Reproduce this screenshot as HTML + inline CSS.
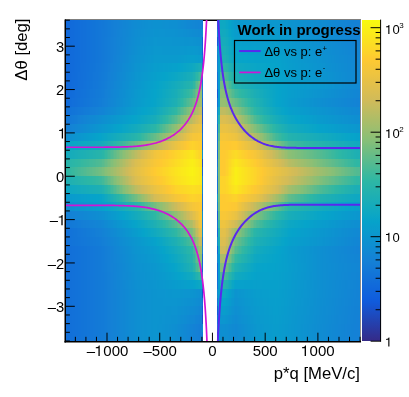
<!DOCTYPE html>
<html><head><meta charset="utf-8"><style>
html,body{margin:0;padding:0;background:#fff;width:409px;height:397px;overflow:hidden;position:relative}
.r{position:absolute;left:65.00px;width:295.00px}
#pal{position:absolute;left:362.00px;top:19.60px;width:18.60px;height:321.70px;background:linear-gradient(0deg,#352a87 0.0%,#322e8e 1.0%,#2f3295 2.0%,#2c369c 3.0%,#293aa3 4.0%,#263eaa 5.0%,#2342b0 6.0%,#2046b7 7.0%,#1d4abe 8.0%,#1a4ec5 9.0%,#1752cc 10.0%,#1456d3 11.0%,#115ada 12.0%,#0f5ddd 13.0%,#1060dd 14.0%,#1063dc 15.0%,#1066db 16.0%,#1169db 17.0%,#116cda 18.0%,#126fd9 19.0%,#1272d9 20.0%,#1275d8 21.0%,#1378d8 22.0%,#137bd7 23.0%,#147ed6 24.0%,#1481d6 25.0%,#1383d5 26.0%,#1286d4 27.0%,#1189d3 28.0%,#0f8cd2 29.0%,#0e8fd1 30.0%,#0d91d0 31.0%,#0c94cf 32.0%,#0b97ce 33.0%,#0a9acd 34.0%,#099dcc 35.0%,#089fcb 36.0%,#06a2ca 37.0%,#08a4c8 38.0%,#0ba6c5 39.0%,#0ea8c2 40.0%,#11a9bf 41.0%,#14abbc 42.0%,#18acb9 43.0%,#1baeb6 44.0%,#1eafb3 45.0%,#21b1b0 46.0%,#24b2ad 47.0%,#28b4aa 48.0%,#2bb5a7 49.0%,#2eb7a4 50.0%,#35b8a0 51.0%,#3cb89d 52.0%,#43b999 53.0%,#4bba95 54.0%,#52ba92 55.0%,#59bb8e 56.0%,#60bc8b 57.0%,#67bc87 58.0%,#6ebd83 59.0%,#75bd80 60.0%,#7cbe7c 61.0%,#84bf79 62.0%,#8abf76 63.0%,#90bf73 64.0%,#96be71 65.0%,#9cbe6f 66.0%,#a2be6c 67.0%,#a8bd6a 68.0%,#adbd67 69.0%,#b3bd65 70.0%,#b9bc63 71.0%,#bfbc60 72.0%,#c5bc5e 73.0%,#cbbb5c 74.0%,#d1bb59 75.0%,#d4bc56 76.0%,#d8bd53 77.0%,#dcbe50 78.0%,#dfbf4d 79.0%,#e3c04a 80.0%,#e6c146 81.0%,#eac243 82.0%,#eec440 83.0%,#f1c53d 84.0%,#f5c63a 85.0%,#f8c737 86.0%,#fcc834 87.0%,#feca31 88.0%,#fdcf2e 89.0%,#fdd32b 90.0%,#fdd728 91.0%,#fcdb25 92.0%,#fcdf22 93.0%,#fbe31f 94.0%,#fbe71c 95.0%,#fbeb19 96.0%,#faef16 97.0%,#faf314 98.0%,#f9f711 99.0%,#f9fb0e 100.0%)}
svg{position:absolute;left:0;top:0;will-change:transform}
text{font-family:"Liberation Sans",sans-serif;fill:#000}
.h{fill-opacity:0}
</style></head><body>
<svg width="409" height="397" style="z-index:0"><line x1="65" y1="20.25" x2="361" y2="20.25" stroke="#000" stroke-width="1.5"/><line x1="360.5" y1="19.5" x2="360.5" y2="341" stroke="#8a8a8a" stroke-width="1"/></svg>
<div class="r" style="top:20.00px;height:8.73px;background:linear-gradient(90deg,#1169db 0.00px 1.49px,#1169db 1.49px 2.98px,#1169db 2.98px 4.47px,#116ada 4.47px 5.96px,#116bda 5.96px 7.45px,#116bda 7.45px 8.94px,#116cda 8.94px 10.43px,#116dda 10.43px 11.92px,#116dda 11.92px 13.41px,#116eda 13.41px 14.90px,#126fda 14.90px 16.39px,#126fd9 16.39px 17.88px,#1270d9 17.88px 19.37px,#1270d9 19.37px 20.86px,#1271d9 20.86px 22.35px,#1272d9 22.35px 23.84px,#1272d9 23.84px 25.33px,#1273d9 25.33px 26.82px,#1274d8 26.82px 28.31px,#1274d8 28.31px 29.80px,#1275d8 29.80px 31.29px,#1276d8 31.29px 32.78px,#1376d8 32.78px 34.28px,#1377d8 34.28px 35.77px,#1378d8 35.77px 37.26px,#1378d7 37.26px 38.75px,#1379d7 38.75px 40.24px,#137ad7 40.24px 41.73px,#137bd7 41.73px 43.22px,#137cd7 43.22px 44.71px,#137dd7 44.71px 46.20px,#147ed6 46.20px 47.69px,#147fd6 47.69px 49.18px,#1480d6 49.18px 50.67px,#1480d6 50.67px 52.16px,#1481d6 52.16px 53.65px,#1382d5 53.65px 55.14px,#1383d5 55.14px 56.63px,#1384d5 56.63px 58.12px,#1285d4 58.12px 59.61px,#1285d4 59.61px 61.10px,#1286d4 61.10px 62.59px,#1187d4 62.59px 64.08px,#1188d3 64.08px 65.57px,#1189d3 65.57px 67.06px,#108ad3 67.06px 68.55px,#108bd2 68.55px 70.04px,#108bd2 70.04px 71.53px,#0f8cd2 71.53px 73.02px,#0f8cd2 73.02px 74.51px,#0f8dd2 74.51px 76.00px,#0f8dd1 76.00px 77.49px,#0f8ed1 77.49px 78.98px,#0e8ed1 78.98px 80.47px,#0e8fd1 80.47px 81.96px,#0e8fd1 81.96px 83.45px,#0e90d1 83.45px 84.94px,#0e90d1 84.94px 86.43px,#0e90d0 86.43px 87.92px,#0d91d0 87.92px 89.41px,#0d91d0 89.41px 90.90px,#0d91d0 90.90px 92.39px,#0d91d0 92.39px 93.88px,#0d91d0 93.88px 95.37px,#0d91d0 95.37px 96.86px,#0e90d0 96.86px 98.35px,#0e90d0 98.35px 99.84px,#0e90d1 99.84px 101.33px,#0e90d1 101.33px 102.82px,#0e90d1 102.82px 104.32px,#0e8fd1 104.32px 105.81px,#0e8fd1 105.81px 107.30px,#0e8fd1 107.30px 108.79px,#0e8fd1 108.79px 110.28px,#0e8fd1 110.28px 111.77px,#0f8ed1 111.77px 113.26px,#0f8dd2 113.26px 114.75px,#0f8cd2 114.75px 116.24px,#108bd2 116.24px 117.73px,#108bd2 117.73px 119.22px,#108ad3 119.22px 120.71px,#1089d3 120.71px 122.20px,#1188d3 122.20px 123.69px,#1188d3 123.69px 125.18px,#1187d4 125.18px 126.67px,#1286d4 126.67px 128.16px,#1286d4 128.16px 129.65px,#1285d4 129.65px 131.14px,#1285d4 131.14px 132.63px,#1284d5 132.63px 134.12px,#1384d5 134.12px 135.61px,#1383d5 135.61px 137.10px,#1378d8 137.10px 138.00px,transparent 138.00px 151.70px,#1272d9 151.70px 153.40px,#099dcc 153.40px 155.40px,#0ea8c2 155.40px 156.87px,#0ea8c2 156.87px 158.34px,#0ea8c2 158.34px 159.81px,#0da7c3 159.81px 161.28px,#0aa6c6 161.28px 162.75px,#08a4c8 162.75px 164.22px,#06a3ca 164.22px 165.69px,#07a0cb 165.69px 167.16px,#089ecc 167.16px 168.63px,#099bcd 168.63px 170.09px,#0a9acd 170.09px 171.56px,#0a9acd 171.56px 173.03px,#0a99cd 173.03px 174.50px,#0a99cd 174.50px 175.97px,#0a99cd 175.97px 177.44px,#0a99ce 177.44px 178.91px,#0a99ce 178.91px 180.38px,#0a98ce 180.38px 181.85px,#0a98ce 181.85px 183.32px,#0b98ce 183.32px 184.79px,#0b98ce 184.79px 186.26px,#0b98ce 186.26px 187.73px,#0b97ce 187.73px 189.20px,#0b97ce 189.20px 190.67px,#0b97ce 190.67px 192.14px,#0b97ce 192.14px 193.61px,#0b97ce 193.61px 195.08px,#0b97ce 195.08px 196.55px,#0b97ce 196.55px 198.01px,#0b97ce 198.01px 199.48px,#0b97ce 199.48px 200.95px,#0b97ce 200.95px 202.42px,#0b97ce 202.42px 203.89px,#0b97ce 203.89px 205.36px,#0b97ce 205.36px 206.83px,#0b97ce 206.83px 208.30px,#0b97ce 208.30px 209.77px,#0b97ce 209.77px 211.24px,#0b97ce 211.24px 212.71px,#0b97ce 212.71px 214.18px,#0b96ce 214.18px 215.65px,#0b96cf 215.65px 217.12px,#0c96cf 217.12px 218.59px,#0c95cf 218.59px 220.06px,#0c95cf 220.06px 221.53px,#0c95cf 221.53px 223.00px,#0c94cf 223.00px 224.47px,#0c94cf 224.47px 225.93px,#0c93cf 225.93px 227.40px,#0d93cf 227.40px 228.87px,#0d93d0 228.87px 230.34px,#0d92d0 230.34px 231.81px,#0d92d0 231.81px 233.28px,#0d92d0 233.28px 234.75px,#0d91d0 234.75px 236.22px,#0d91d0 236.22px 237.69px,#0e90d0 237.69px 239.16px,#0e90d0 239.16px 240.63px,#0e90d1 240.63px 242.10px,#0e8fd1 242.10px 243.57px,#0e8fd1 243.57px 245.04px,#0e8fd1 245.04px 246.51px,#0e8ed1 246.51px 247.98px,#0f8ed1 247.98px 249.45px,#0f8dd1 249.45px 250.92px,#0f8dd2 250.92px 252.39px,#0f8dd2 252.39px 253.85px,#0f8cd2 253.85px 255.32px,#0f8cd2 255.32px 256.79px,#108cd2 256.79px 258.26px,#108bd2 258.26px 259.73px,#108bd2 259.73px 261.20px,#108ad3 261.20px 262.67px,#108ad3 262.67px 264.14px,#1089d3 264.14px 265.61px,#1189d3 265.61px 267.08px,#1188d3 267.08px 268.55px,#1188d3 268.55px 270.02px,#1187d4 270.02px 271.49px,#1187d4 271.49px 272.96px,#1286d4 272.96px 274.43px,#1286d4 274.43px 275.90px,#1285d4 275.90px 277.37px,#1285d4 277.37px 278.84px,#1284d4 278.84px 280.31px,#1384d5 280.31px 281.77px,#1383d5 281.77px 283.24px,#1383d5 283.24px 284.71px,#1383d5 284.71px 286.18px,#1382d5 286.18px 287.65px,#1382d5 287.65px 289.12px,#1481d6 289.12px 290.59px,#1481d6 290.59px 292.06px,#1481d6 292.06px 293.53px,#1481d6 293.53px 295.00px)"></div>
<div class="r" style="top:28.68px;height:8.73px;background:linear-gradient(90deg,#1169db 0.00px 1.49px,#1169db 1.49px 2.98px,#1169db 2.98px 4.47px,#116ada 4.47px 5.96px,#116bda 5.96px 7.45px,#116bda 7.45px 8.94px,#116cda 8.94px 10.43px,#116dda 10.43px 11.92px,#116dda 11.92px 13.41px,#116eda 13.41px 14.90px,#126fda 14.90px 16.39px,#126fd9 16.39px 17.88px,#1270d9 17.88px 19.37px,#1270d9 19.37px 20.86px,#1271d9 20.86px 22.35px,#1272d9 22.35px 23.84px,#1272d9 23.84px 25.33px,#1273d9 25.33px 26.82px,#1274d8 26.82px 28.31px,#1274d8 28.31px 29.80px,#1275d8 29.80px 31.29px,#1276d8 31.29px 32.78px,#1376d8 32.78px 34.28px,#1377d8 34.28px 35.77px,#1378d8 35.77px 37.26px,#1379d7 37.26px 38.75px,#1379d7 38.75px 40.24px,#137ad7 40.24px 41.73px,#137bd7 41.73px 43.22px,#137cd7 43.22px 44.71px,#137dd7 44.71px 46.20px,#147ed6 46.20px 47.69px,#147fd6 47.69px 49.18px,#1480d6 49.18px 50.67px,#1481d6 50.67px 52.16px,#1382d5 52.16px 53.65px,#1383d5 53.65px 55.14px,#1384d5 55.14px 56.63px,#1285d4 56.63px 58.12px,#1286d4 58.12px 59.61px,#1286d4 59.61px 61.10px,#1187d3 61.10px 62.59px,#1188d3 62.59px 64.08px,#1089d3 64.08px 65.57px,#108ad3 65.57px 67.06px,#108bd2 67.06px 68.55px,#0f8cd2 68.55px 70.04px,#0f8dd2 70.04px 71.53px,#0f8dd1 71.53px 73.02px,#0f8ed1 73.02px 74.51px,#0e8ed1 74.51px 76.00px,#0e8fd1 76.00px 77.49px,#0e8fd1 77.49px 78.98px,#0e90d1 78.98px 80.47px,#0e90d0 80.47px 81.96px,#0d91d0 81.96px 83.45px,#0d91d0 83.45px 84.94px,#0d92d0 84.94px 86.43px,#0d92d0 86.43px 87.92px,#0d93d0 87.92px 89.41px,#0c93cf 89.41px 90.90px,#0c93cf 90.90px 92.39px,#0c93cf 92.39px 93.88px,#0d93cf 93.88px 95.37px,#0d93d0 95.37px 96.86px,#0d93d0 96.86px 98.35px,#0d93d0 98.35px 99.84px,#0d92d0 99.84px 101.33px,#0d92d0 101.33px 102.82px,#0d92d0 102.82px 104.32px,#0d92d0 104.32px 105.81px,#0d92d0 105.81px 107.30px,#0d92d0 107.30px 108.79px,#0d92d0 108.79px 110.28px,#0d91d0 110.28px 111.77px,#0d91d0 111.77px 113.26px,#0e90d0 113.26px 114.75px,#0e90d1 114.75px 116.24px,#0e90d1 116.24px 117.73px,#0e8fd1 117.73px 119.22px,#0e8fd1 119.22px 120.71px,#0e8ed1 120.71px 122.20px,#0f8ed1 122.20px 123.69px,#0f8dd1 123.69px 125.18px,#0f8dd2 125.18px 126.67px,#0f8cd2 126.67px 128.16px,#0f8cd2 128.16px 129.65px,#108bd2 129.65px 131.14px,#108bd2 131.14px 132.63px,#108ad2 132.63px 134.12px,#108ad3 134.12px 135.61px,#108ad3 135.61px 137.10px,#0e8fd1 137.10px 138.00px,transparent 138.00px 151.70px,#1383d5 151.70px 153.40px,#099dcc 153.40px 155.40px,#12a9be 155.40px 156.87px,#12a9be 156.87px 158.34px,#12a9be 158.34px 159.81px,#11a9bf 159.81px 161.28px,#0ea8c2 161.28px 162.75px,#0ba6c5 162.75px 164.22px,#08a5c7 164.22px 165.69px,#06a3ca 165.69px 167.16px,#07a1cb 167.16px 168.63px,#089ecc 168.63px 170.09px,#099dcc 170.09px 171.56px,#099ccc 171.56px 173.03px,#099ccc 173.03px 174.50px,#099ccc 174.50px 175.97px,#099ccd 175.97px 177.44px,#099ccd 177.44px 178.91px,#099bcd 178.91px 180.38px,#099bcd 180.38px 181.85px,#099bcd 181.85px 183.32px,#099bcd 183.32px 184.79px,#0a9bcd 184.79px 186.26px,#0a9acd 186.26px 187.73px,#0a9acd 187.73px 189.20px,#0a9acd 189.20px 190.67px,#0a9acd 190.67px 192.14px,#0a9acd 192.14px 193.61px,#0a9acd 193.61px 195.08px,#0a9acd 195.08px 196.55px,#0a9acd 196.55px 198.01px,#0a9acd 198.01px 199.48px,#0a9acd 199.48px 200.95px,#0a9acd 200.95px 202.42px,#0a9acd 202.42px 203.89px,#0a9acd 203.89px 205.36px,#0a9acd 205.36px 206.83px,#0a9acd 206.83px 208.30px,#0a9acd 208.30px 209.77px,#0a9acd 209.77px 211.24px,#0a9acd 211.24px 212.71px,#0a99cd 212.71px 214.18px,#0a99ce 214.18px 215.65px,#0a98ce 215.65px 217.12px,#0b98ce 217.12px 218.59px,#0b98ce 218.59px 220.06px,#0b97ce 220.06px 221.53px,#0b97ce 221.53px 223.00px,#0b96ce 223.00px 224.47px,#0b96cf 224.47px 225.93px,#0c96cf 225.93px 227.40px,#0c95cf 227.40px 228.87px,#0c95cf 228.87px 230.34px,#0c94cf 230.34px 231.81px,#0c94cf 231.81px 233.28px,#0c94cf 233.28px 234.75px,#0d93cf 234.75px 236.22px,#0d93d0 236.22px 237.69px,#0d92d0 237.69px 239.16px,#0d92d0 239.16px 240.63px,#0d91d0 240.63px 242.10px,#0d91d0 242.10px 243.57px,#0d91d0 243.57px 245.04px,#0e90d0 245.04px 246.51px,#0e90d1 246.51px 247.98px,#0e8fd1 247.98px 249.45px,#0e8fd1 249.45px 250.92px,#0e8fd1 250.92px 252.39px,#0e8ed1 252.39px 253.85px,#0f8ed1 253.85px 255.32px,#0f8dd1 255.32px 256.79px,#0f8dd2 256.79px 258.26px,#0f8cd2 258.26px 259.73px,#0f8cd2 259.73px 261.20px,#108cd2 261.20px 262.67px,#108bd2 262.67px 264.14px,#108bd2 264.14px 265.61px,#108ad3 265.61px 267.08px,#108ad3 267.08px 268.55px,#1089d3 268.55px 270.02px,#1189d3 270.02px 271.49px,#1188d3 271.49px 272.96px,#1188d3 272.96px 274.43px,#1187d4 274.43px 275.90px,#1187d4 275.90px 277.37px,#1286d4 277.37px 278.84px,#1286d4 278.84px 280.31px,#1285d4 280.31px 281.77px,#1285d4 281.77px 283.24px,#1284d5 283.24px 284.71px,#1384d5 284.71px 286.18px,#1383d5 286.18px 287.65px,#1383d5 287.65px 289.12px,#1382d5 289.12px 290.59px,#1382d5 290.59px 292.06px,#1382d5 292.06px 293.53px,#1382d5 293.53px 295.00px)"></div>
<div class="r" style="top:37.35px;height:8.73px;background:linear-gradient(90deg,#1169db 0.00px 1.49px,#1169db 1.49px 2.98px,#1169db 2.98px 4.47px,#116ada 4.47px 5.96px,#116bda 5.96px 7.45px,#116bda 7.45px 8.94px,#116cda 8.94px 10.43px,#116dda 10.43px 11.92px,#116dda 11.92px 13.41px,#116eda 13.41px 14.90px,#126fda 14.90px 16.39px,#126fd9 16.39px 17.88px,#1270d9 17.88px 19.37px,#1270d9 19.37px 20.86px,#1271d9 20.86px 22.35px,#1272d9 22.35px 23.84px,#1272d9 23.84px 25.33px,#1273d9 25.33px 26.82px,#1274d8 26.82px 28.31px,#1274d8 28.31px 29.80px,#1275d8 29.80px 31.29px,#1276d8 31.29px 32.78px,#1376d8 32.78px 34.28px,#1377d8 34.28px 35.77px,#1378d8 35.77px 37.26px,#1379d7 37.26px 38.75px,#137ad7 38.75px 40.24px,#137bd7 40.24px 41.73px,#137cd7 41.73px 43.22px,#137dd7 43.22px 44.71px,#147ed6 44.71px 46.20px,#147fd6 46.20px 47.69px,#1480d6 47.69px 49.18px,#1481d6 49.18px 50.67px,#1382d5 50.67px 52.16px,#1383d5 52.16px 53.65px,#1384d5 53.65px 55.14px,#1284d4 55.14px 56.63px,#1285d4 56.63px 58.12px,#1286d4 58.12px 59.61px,#1187d3 59.61px 61.10px,#1188d3 61.10px 62.59px,#1089d3 62.59px 64.08px,#108ad2 64.08px 65.57px,#108bd2 65.57px 67.06px,#0f8cd2 67.06px 68.55px,#0f8dd2 68.55px 70.04px,#0e8ed1 70.04px 71.53px,#0e8fd1 71.53px 73.02px,#0e8fd1 73.02px 74.51px,#0e90d1 74.51px 76.00px,#0e91d0 76.00px 77.49px,#0d91d0 77.49px 78.98px,#0d92d0 78.98px 80.47px,#0d92d0 80.47px 81.96px,#0d93d0 81.96px 83.45px,#0c93cf 83.45px 84.94px,#0c94cf 84.94px 86.43px,#0c94cf 86.43px 87.92px,#0c95cf 87.92px 89.41px,#0c96cf 89.41px 90.90px,#0c96cf 90.90px 92.39px,#0c95cf 92.39px 93.88px,#0c95cf 93.88px 95.37px,#0c95cf 95.37px 96.86px,#0c95cf 96.86px 98.35px,#0c95cf 98.35px 99.84px,#0c95cf 99.84px 101.33px,#0c95cf 101.33px 102.82px,#0c95cf 102.82px 104.32px,#0c95cf 104.32px 105.81px,#0c95cf 105.81px 107.30px,#0c94cf 107.30px 108.79px,#0c94cf 108.79px 110.28px,#0c94cf 110.28px 111.77px,#0c94cf 111.77px 113.26px,#0c94cf 113.26px 114.75px,#0c94cf 114.75px 116.24px,#0c94cf 116.24px 117.73px,#0c94cf 117.73px 119.22px,#0c93cf 119.22px 120.71px,#0c93cf 120.71px 122.20px,#0c93cf 122.20px 123.69px,#0d93cf 123.69px 125.18px,#0d93d0 125.18px 126.67px,#0d93d0 126.67px 128.16px,#0d92d0 128.16px 129.65px,#0d92d0 129.65px 131.14px,#0d91d0 131.14px 132.63px,#0d91d0 132.63px 134.12px,#0e90d0 134.12px 135.61px,#0e90d1 135.61px 137.10px,#1060dd 137.10px 138.00px,transparent 138.00px 151.70px,#115ada 151.70px 153.40px,#099dcc 153.40px 155.40px,#16abbb 155.40px 156.87px,#16abbb 156.87px 158.34px,#16abbb 158.34px 159.81px,#15abbb 159.81px 161.28px,#12aabe 161.28px 162.75px,#0fa8c1 162.75px 164.22px,#0ca7c4 164.22px 165.69px,#09a5c7 165.69px 167.16px,#06a4ca 167.16px 168.63px,#07a1cb 168.63px 170.09px,#089fcb 170.09px 171.56px,#089fcb 171.56px 173.03px,#089fcb 173.03px 174.50px,#089fcb 174.50px 175.97px,#089fcc 175.97px 177.44px,#089ecc 177.44px 178.91px,#089ecc 178.91px 180.38px,#089ecc 180.38px 181.85px,#089ecc 181.85px 183.32px,#089ecc 183.32px 184.79px,#089dcc 184.79px 186.26px,#099dcc 186.26px 187.73px,#099dcc 187.73px 189.20px,#099dcc 189.20px 190.67px,#099dcc 190.67px 192.14px,#099dcc 192.14px 193.61px,#099dcc 193.61px 195.08px,#099dcc 195.08px 196.55px,#099dcc 196.55px 198.01px,#099dcc 198.01px 199.48px,#099dcc 199.48px 200.95px,#099dcc 200.95px 202.42px,#099dcc 202.42px 203.89px,#099dcc 203.89px 205.36px,#099dcc 205.36px 206.83px,#099dcc 206.83px 208.30px,#099dcc 208.30px 209.77px,#099dcc 209.77px 211.24px,#099ccc 211.24px 212.71px,#099ccc 212.71px 214.18px,#099bcd 214.18px 215.65px,#099bcd 215.65px 217.12px,#0a9acd 217.12px 218.59px,#0a9acd 218.59px 220.06px,#0a99cd 220.06px 221.53px,#0a99cd 221.53px 223.00px,#0a98ce 223.00px 224.47px,#0b98ce 224.47px 225.93px,#0b98ce 225.93px 227.40px,#0b97ce 227.40px 228.87px,#0b97ce 228.87px 230.34px,#0b96ce 230.34px 231.81px,#0b96cf 231.81px 233.28px,#0c95cf 233.28px 234.75px,#0c95cf 234.75px 236.22px,#0c95cf 236.22px 237.69px,#0c94cf 237.69px 239.16px,#0c94cf 239.16px 240.63px,#0c93cf 240.63px 242.10px,#0d93d0 242.10px 243.57px,#0d92d0 243.57px 245.04px,#0d92d0 245.04px 246.51px,#0d91d0 246.51px 247.98px,#0d91d0 247.98px 249.45px,#0e91d0 249.45px 250.92px,#0e90d0 250.92px 252.39px,#0e90d1 252.39px 253.85px,#0e8fd1 253.85px 255.32px,#0e8fd1 255.32px 256.79px,#0e8ed1 256.79px 258.26px,#0f8ed1 258.26px 259.73px,#0f8dd1 259.73px 261.20px,#0f8dd2 261.20px 262.67px,#0f8cd2 262.67px 264.14px,#0f8cd2 264.14px 265.61px,#108cd2 265.61px 267.08px,#108bd2 267.08px 268.55px,#108bd2 268.55px 270.02px,#108ad3 270.02px 271.49px,#108ad3 271.49px 272.96px,#1089d3 272.96px 274.43px,#1189d3 274.43px 275.90px,#1188d3 275.90px 277.37px,#1188d3 277.37px 278.84px,#1187d4 278.84px 280.31px,#1187d4 280.31px 281.77px,#1286d4 281.77px 283.24px,#1286d4 283.24px 284.71px,#1285d4 284.71px 286.18px,#1285d4 286.18px 287.65px,#1284d5 287.65px 289.12px,#1384d5 289.12px 290.59px,#1383d5 290.59px 292.06px,#1383d5 292.06px 293.53px,#1383d5 293.53px 295.00px)"></div>
<div class="r" style="top:46.03px;height:8.73px;background:linear-gradient(90deg,#1169db 0.00px 1.49px,#1169db 1.49px 2.98px,#1169db 2.98px 4.47px,#116ada 4.47px 5.96px,#116bda 5.96px 7.45px,#116bda 7.45px 8.94px,#116cda 8.94px 10.43px,#116dda 10.43px 11.92px,#116dda 11.92px 13.41px,#116eda 13.41px 14.90px,#126fda 14.90px 16.39px,#126fd9 16.39px 17.88px,#1270d9 17.88px 19.37px,#1270d9 19.37px 20.86px,#1271d9 20.86px 22.35px,#1272d9 22.35px 23.84px,#1272d9 23.84px 25.33px,#1273d9 25.33px 26.82px,#1274d8 26.82px 28.31px,#1274d8 28.31px 29.80px,#1275d8 29.80px 31.29px,#1276d8 31.29px 32.78px,#1376d8 32.78px 34.28px,#1377d8 34.28px 35.77px,#1378d8 35.77px 37.26px,#1379d7 37.26px 38.75px,#137ad7 38.75px 40.24px,#137bd7 40.24px 41.73px,#137cd7 41.73px 43.22px,#137dd7 43.22px 44.71px,#147ed6 44.71px 46.20px,#147fd6 46.20px 47.69px,#1480d6 47.69px 49.18px,#1481d6 49.18px 50.67px,#1382d5 50.67px 52.16px,#1383d5 52.16px 53.65px,#1284d5 53.65px 55.14px,#1285d4 55.14px 56.63px,#1286d4 56.63px 58.12px,#1187d4 58.12px 59.61px,#1188d3 59.61px 61.10px,#1089d3 61.10px 62.59px,#108ad2 62.59px 64.08px,#108bd2 64.08px 65.57px,#0f8cd2 65.57px 67.06px,#0f8dd1 67.06px 68.55px,#0e8ed1 68.55px 70.04px,#0e8fd1 70.04px 71.53px,#0e90d0 71.53px 73.02px,#0d91d0 73.02px 74.51px,#0d92d0 74.51px 76.00px,#0d92d0 76.00px 77.49px,#0d93d0 77.49px 78.98px,#0c93cf 78.98px 80.47px,#0c94cf 80.47px 81.96px,#0c95cf 81.96px 83.45px,#0c95cf 83.45px 84.94px,#0b96cf 84.94px 86.43px,#0b96ce 86.43px 87.92px,#0b97ce 87.92px 89.41px,#0b98ce 89.41px 90.90px,#0b98ce 90.90px 92.39px,#0b98ce 92.39px 93.88px,#0b98ce 93.88px 95.37px,#0b98ce 95.37px 96.86px,#0b97ce 96.86px 98.35px,#0b97ce 98.35px 99.84px,#0b97ce 99.84px 101.33px,#0b97ce 101.33px 102.82px,#0b97ce 102.82px 104.32px,#0b97ce 104.32px 105.81px,#0b97ce 105.81px 107.30px,#0b97ce 107.30px 108.79px,#0b97ce 108.79px 110.28px,#0b97ce 110.28px 111.77px,#0b97ce 111.77px 113.26px,#0b97ce 113.26px 114.75px,#0b98ce 114.75px 116.24px,#0b98ce 116.24px 117.73px,#0b98ce 117.73px 119.22px,#0a98ce 119.22px 120.71px,#0a98ce 120.71px 122.20px,#0a99ce 122.20px 123.69px,#0a99ce 123.69px 125.18px,#0a99cd 125.18px 126.67px,#0a99cd 126.67px 128.16px,#0a99ce 128.16px 129.65px,#0b98ce 129.65px 131.14px,#0b98ce 131.14px 132.63px,#0b97ce 132.63px 134.12px,#0b96ce 134.12px 135.61px,#0b96ce 135.61px 137.10px,#1066db 137.10px 138.00px,transparent 138.00px 151.70px,#1189d3 151.70px 153.40px,#099dcc 153.40px 155.40px,#1aadb7 155.40px 156.87px,#1aadb7 156.87px 158.34px,#1aadb7 158.34px 159.81px,#19adb8 159.81px 161.28px,#16abbb 161.28px 162.75px,#13aabe 162.75px 164.22px,#10a8c1 164.22px 165.69px,#0da7c3 165.69px 167.16px,#09a5c6 167.16px 168.63px,#06a4c9 168.63px 170.09px,#07a2ca 170.09px 171.56px,#07a2ca 171.56px 173.03px,#07a2ca 173.03px 174.50px,#07a2cb 174.50px 175.97px,#07a1cb 175.97px 177.44px,#07a1cb 177.44px 178.91px,#07a1cb 178.91px 180.38px,#07a1cb 180.38px 181.85px,#07a1cb 181.85px 183.32px,#07a0cb 183.32px 184.79px,#07a0cb 184.79px 186.26px,#07a0cb 186.26px 187.73px,#07a0cb 187.73px 189.20px,#08a0cb 189.20px 190.67px,#089fcb 190.67px 192.14px,#089fcb 192.14px 193.61px,#089fcb 193.61px 195.08px,#089fcb 195.08px 196.55px,#089fcb 196.55px 198.01px,#089fcb 198.01px 199.48px,#089fcb 199.48px 200.95px,#089fcb 200.95px 202.42px,#089fcb 202.42px 203.89px,#089fcb 203.89px 205.36px,#089fcb 205.36px 206.83px,#089fcb 206.83px 208.30px,#089fcb 208.30px 209.77px,#089fcb 209.77px 211.24px,#089fcb 211.24px 212.71px,#089fcc 212.71px 214.18px,#089ecc 214.18px 215.65px,#089dcc 215.65px 217.12px,#099dcc 217.12px 218.59px,#099ccc 218.59px 220.06px,#099ccd 220.06px 221.53px,#099bcd 221.53px 223.00px,#0a9bcd 223.00px 224.47px,#0a9acd 224.47px 225.93px,#0a9acd 225.93px 227.40px,#0a99cd 227.40px 228.87px,#0a99ce 228.87px 230.34px,#0a98ce 230.34px 231.81px,#0b98ce 231.81px 233.28px,#0b97ce 233.28px 234.75px,#0b97ce 234.75px 236.22px,#0b96ce 236.22px 237.69px,#0b96cf 237.69px 239.16px,#0c95cf 239.16px 240.63px,#0c95cf 240.63px 242.10px,#0c94cf 242.10px 243.57px,#0c94cf 243.57px 245.04px,#0c94cf 245.04px 246.51px,#0d93cf 246.51px 247.98px,#0d93d0 247.98px 249.45px,#0d92d0 249.45px 250.92px,#0d92d0 250.92px 252.39px,#0d91d0 252.39px 253.85px,#0d91d0 253.85px 255.32px,#0e90d0 255.32px 256.79px,#0e90d1 256.79px 258.26px,#0e8fd1 258.26px 259.73px,#0e8fd1 259.73px 261.20px,#0e8ed1 261.20px 262.67px,#0f8ed1 262.67px 264.14px,#0f8dd1 264.14px 265.61px,#0f8dd2 265.61px 267.08px,#0f8cd2 267.08px 268.55px,#0f8cd2 268.55px 270.02px,#108bd2 270.02px 271.49px,#108bd2 271.49px 272.96px,#108bd2 272.96px 274.43px,#108ad3 274.43px 275.90px,#108ad3 275.90px 277.37px,#1089d3 277.37px 278.84px,#1189d3 278.84px 280.31px,#1188d3 280.31px 281.77px,#1188d3 281.77px 283.24px,#1187d4 283.24px 284.71px,#1187d4 284.71px 286.18px,#1286d4 286.18px 287.65px,#1286d4 287.65px 289.12px,#1285d4 289.12px 290.59px,#1285d4 290.59px 292.06px,#1285d4 292.06px 293.53px,#1285d4 293.53px 295.00px)"></div>
<div class="r" style="top:54.70px;height:8.73px;background:linear-gradient(90deg,#1169db 0.00px 1.49px,#1169db 1.49px 2.98px,#1169db 2.98px 4.47px,#116ada 4.47px 5.96px,#116bda 5.96px 7.45px,#116bda 7.45px 8.94px,#116cda 8.94px 10.43px,#116dda 10.43px 11.92px,#116dda 11.92px 13.41px,#116eda 13.41px 14.90px,#126fda 14.90px 16.39px,#126fd9 16.39px 17.88px,#1270d9 17.88px 19.37px,#1270d9 19.37px 20.86px,#1271d9 20.86px 22.35px,#1272d9 22.35px 23.84px,#1272d9 23.84px 25.33px,#1273d9 25.33px 26.82px,#1274d8 26.82px 28.31px,#1274d8 28.31px 29.80px,#1275d8 29.80px 31.29px,#1276d8 31.29px 32.78px,#1376d8 32.78px 34.28px,#1377d8 34.28px 35.77px,#1378d8 35.77px 37.26px,#1379d7 37.26px 38.75px,#137ad7 38.75px 40.24px,#137bd7 40.24px 41.73px,#137cd7 41.73px 43.22px,#137dd7 43.22px 44.71px,#147ed6 44.71px 46.20px,#147fd6 46.20px 47.69px,#1481d6 47.69px 49.18px,#1382d5 49.18px 50.67px,#1383d5 50.67px 52.16px,#1384d5 52.16px 53.65px,#1285d4 53.65px 55.14px,#1286d4 55.14px 56.63px,#1187d4 56.63px 58.12px,#1188d3 58.12px 59.61px,#1089d3 59.61px 61.10px,#108ad2 61.10px 62.59px,#108bd2 62.59px 64.08px,#0f8dd2 64.08px 65.57px,#0f8ed1 65.57px 67.06px,#0e8fd1 67.06px 68.55px,#0e90d1 68.55px 70.04px,#0d91d0 70.04px 71.53px,#0d92d0 71.53px 73.02px,#0d92d0 73.02px 74.51px,#0d93cf 74.51px 76.00px,#0c94cf 76.00px 77.49px,#0c94cf 77.49px 78.98px,#0c95cf 78.98px 80.47px,#0b96cf 80.47px 81.96px,#0b96ce 81.96px 83.45px,#0b97ce 83.45px 84.94px,#0b98ce 84.94px 86.43px,#0a98ce 86.43px 87.92px,#0a99cd 87.92px 89.41px,#0a9acd 89.41px 90.90px,#0a9acd 90.90px 92.39px,#0a9acd 92.39px 93.88px,#0a9acd 93.88px 95.37px,#0a9acd 95.37px 96.86px,#0a9acd 96.86px 98.35px,#0a9acd 98.35px 99.84px,#0a9acd 99.84px 101.33px,#0a9acd 101.33px 102.82px,#0a9acd 102.82px 104.32px,#0a9acd 104.32px 105.81px,#0a9acd 105.81px 107.30px,#0a9acd 107.30px 108.79px,#0a9acd 108.79px 110.28px,#0a9acd 110.28px 111.77px,#0a9acd 111.77px 113.26px,#099bcd 113.26px 114.75px,#099bcd 114.75px 116.24px,#099ccc 116.24px 117.73px,#099ccc 117.73px 119.22px,#099dcc 119.22px 120.71px,#089dcc 120.71px 122.20px,#089ecc 122.20px 123.69px,#089ecc 123.69px 125.18px,#089fcb 125.18px 126.67px,#089fcb 126.67px 128.16px,#089fcb 128.16px 129.65px,#089ecc 129.65px 131.14px,#089ecc 131.14px 132.63px,#089dcc 132.63px 134.12px,#099dcc 134.12px 135.61px,#099dcc 135.61px 137.10px,#1378d8 137.10px 138.00px,transparent 138.00px 151.70px,#147ed6 151.70px 153.40px,#099dcc 153.40px 155.40px,#1eafb3 155.40px 156.87px,#1eafb3 156.87px 158.34px,#1eafb3 158.34px 159.81px,#1dafb4 159.81px 161.28px,#1aadb7 161.28px 162.75px,#17acba 162.75px 164.22px,#13aabd 164.22px 165.69px,#10a9c0 165.69px 167.16px,#0da7c3 167.16px 168.63px,#0aa5c6 168.63px 170.09px,#07a4c8 170.09px 171.56px,#07a4c9 171.56px 173.03px,#07a4c9 173.03px 174.50px,#07a4c9 174.50px 175.97px,#07a4c9 175.97px 177.44px,#06a4c9 177.44px 178.91px,#06a4ca 178.91px 180.38px,#06a4ca 180.38px 181.85px,#06a3ca 181.85px 183.32px,#06a3ca 183.32px 184.79px,#06a3ca 184.79px 186.26px,#06a3ca 186.26px 187.73px,#06a3ca 187.73px 189.20px,#06a2ca 189.20px 190.67px,#06a2ca 190.67px 192.14px,#06a2ca 192.14px 193.61px,#06a2ca 193.61px 195.08px,#06a2ca 195.08px 196.55px,#06a2ca 196.55px 198.01px,#06a2ca 198.01px 199.48px,#06a2ca 199.48px 200.95px,#06a2ca 200.95px 202.42px,#06a2ca 202.42px 203.89px,#06a2ca 203.89px 205.36px,#06a2ca 205.36px 206.83px,#06a2ca 206.83px 208.30px,#06a2ca 208.30px 209.77px,#06a2ca 209.77px 211.24px,#07a2ca 211.24px 212.71px,#07a1cb 212.71px 214.18px,#07a1cb 214.18px 215.65px,#07a0cb 215.65px 217.12px,#089fcb 217.12px 218.59px,#089fcc 218.59px 220.06px,#089ecc 220.06px 221.53px,#089dcc 221.53px 223.00px,#099dcc 223.00px 224.47px,#099ccc 224.47px 225.93px,#099ccd 225.93px 227.40px,#099bcd 227.40px 228.87px,#099bcd 228.87px 230.34px,#0a9acd 230.34px 231.81px,#0a9acd 231.81px 233.28px,#0a99cd 233.28px 234.75px,#0a99ce 234.75px 236.22px,#0a98ce 236.22px 237.69px,#0b98ce 237.69px 239.16px,#0b97ce 239.16px 240.63px,#0b97ce 240.63px 242.10px,#0b96ce 242.10px 243.57px,#0b96cf 243.57px 245.04px,#0c95cf 245.04px 246.51px,#0c95cf 246.51px 247.98px,#0c94cf 247.98px 249.45px,#0c94cf 249.45px 250.92px,#0c93cf 250.92px 252.39px,#0d93d0 252.39px 253.85px,#0d92d0 253.85px 255.32px,#0d92d0 255.32px 256.79px,#0d91d0 256.79px 258.26px,#0d91d0 258.26px 259.73px,#0e90d0 259.73px 261.20px,#0e90d1 261.20px 262.67px,#0e8fd1 262.67px 264.14px,#0e8fd1 264.14px 265.61px,#0e8ed1 265.61px 267.08px,#0f8ed1 267.08px 268.55px,#0f8dd1 268.55px 270.02px,#0f8dd2 270.02px 271.49px,#0f8cd2 271.49px 272.96px,#0f8cd2 272.96px 274.43px,#108bd2 274.43px 275.90px,#108bd2 275.90px 277.37px,#108bd2 277.37px 278.84px,#108ad3 278.84px 280.31px,#108ad3 280.31px 281.77px,#1089d3 281.77px 283.24px,#1189d3 283.24px 284.71px,#1188d3 284.71px 286.18px,#1188d3 286.18px 287.65px,#1187d4 287.65px 289.12px,#1187d4 289.12px 290.59px,#1286d4 290.59px 292.06px,#1286d4 292.06px 293.53px,#1286d4 293.53px 295.00px)"></div>
<div class="r" style="top:63.38px;height:8.73px;background:linear-gradient(90deg,#1169db 0.00px 1.49px,#1169db 1.49px 2.98px,#1169db 2.98px 4.47px,#116ada 4.47px 5.96px,#116bda 5.96px 7.45px,#116bda 7.45px 8.94px,#116cda 8.94px 10.43px,#116dda 10.43px 11.92px,#116eda 11.92px 13.41px,#116eda 13.41px 14.90px,#126fd9 14.90px 16.39px,#1270d9 16.39px 17.88px,#1270d9 17.88px 19.37px,#1271d9 19.37px 20.86px,#1272d9 20.86px 22.35px,#1272d9 22.35px 23.84px,#1273d9 23.84px 25.33px,#1274d8 25.33px 26.82px,#1274d8 26.82px 28.31px,#1275d8 28.31px 29.80px,#1276d8 29.80px 31.29px,#1377d8 31.29px 32.78px,#1377d8 32.78px 34.28px,#1378d8 34.28px 35.77px,#1379d7 35.77px 37.26px,#137ad7 37.26px 38.75px,#137bd7 38.75px 40.24px,#137cd7 40.24px 41.73px,#137dd7 41.73px 43.22px,#147ed6 43.22px 44.71px,#1480d6 44.71px 46.20px,#1481d6 46.20px 47.69px,#1382d5 47.69px 49.18px,#1383d5 49.18px 50.67px,#1284d5 50.67px 52.16px,#1285d4 52.16px 53.65px,#1286d4 53.65px 55.14px,#1187d3 55.14px 56.63px,#1189d3 56.63px 58.12px,#108ad3 58.12px 59.61px,#108bd2 59.61px 61.10px,#0f8cd2 61.10px 62.59px,#0f8dd2 62.59px 64.08px,#0e8ed1 64.08px 65.57px,#0e8fd1 65.57px 67.06px,#0e90d0 67.06px 68.55px,#0d92d0 68.55px 70.04px,#0d93d0 70.04px 71.53px,#0c94cf 71.53px 73.02px,#0c94cf 73.02px 74.51px,#0c95cf 74.51px 76.00px,#0b96cf 76.00px 77.49px,#0b97ce 77.49px 78.98px,#0b97ce 78.98px 80.47px,#0b98ce 80.47px 81.96px,#0a99ce 81.96px 83.45px,#0a9acd 83.45px 84.94px,#0a9acd 84.94px 86.43px,#099bcd 86.43px 87.92px,#099ccd 87.92px 89.41px,#099dcc 89.41px 90.90px,#099dcc 90.90px 92.39px,#089dcc 92.39px 93.88px,#089ecc 93.88px 95.37px,#089ecc 95.37px 96.86px,#089ecc 96.86px 98.35px,#089fcc 98.35px 99.84px,#089fcb 99.84px 101.33px,#089fcb 101.33px 102.82px,#08a0cb 102.82px 104.32px,#07a0cb 104.32px 105.81px,#07a0cb 105.81px 107.30px,#07a1cb 107.30px 108.79px,#07a1cb 108.79px 110.28px,#07a1cb 110.28px 111.77px,#06a2ca 111.77px 113.26px,#06a3ca 113.26px 114.75px,#06a4ca 114.75px 116.24px,#07a4c9 116.24px 117.73px,#08a5c8 117.73px 119.22px,#09a5c7 119.22px 120.71px,#0aa6c6 120.71px 122.20px,#0ba6c5 122.20px 123.69px,#0ca7c4 123.69px 125.18px,#0da7c3 125.18px 126.67px,#0ea8c2 126.67px 128.16px,#10a9c0 128.16px 129.65px,#13aabe 129.65px 131.14px,#15abbb 131.14px 132.63px,#18acb9 132.63px 134.12px,#1aadb7 134.12px 135.61px,#1baeb6 135.61px 137.10px,#1066db 137.10px 138.00px,transparent 138.00px 151.70px,#1383d5 151.70px 153.40px,#099dcc 153.40px 155.40px,#2eb7a4 155.40px 156.87px,#2eb7a4 156.87px 158.34px,#2eb7a4 158.34px 159.81px,#2db6a5 159.81px 161.28px,#29b4a9 161.28px 162.75px,#24b2ad 162.75px 164.22px,#20b0b1 164.22px 165.69px,#1caeb5 165.69px 167.16px,#18acb9 167.16px 168.63px,#14aabd 168.63px 170.09px,#11a9bf 170.09px 171.56px,#10a9c0 171.56px 173.03px,#10a8c0 173.03px 174.50px,#0fa8c1 174.50px 175.97px,#0fa8c1 175.97px 177.44px,#0ea8c2 177.44px 178.91px,#0ea7c2 178.91px 180.38px,#0da7c3 180.38px 181.85px,#0da7c3 181.85px 183.32px,#0ca7c4 183.32px 184.79px,#0ca6c4 184.79px 186.26px,#0ba6c5 186.26px 187.73px,#0ba6c5 187.73px 189.20px,#0aa6c6 189.20px 190.67px,#0aa5c6 190.67px 192.14px,#09a5c7 192.14px 193.61px,#09a5c7 193.61px 195.08px,#09a5c7 195.08px 196.55px,#08a5c8 196.55px 198.01px,#08a5c8 198.01px 199.48px,#08a5c8 199.48px 200.95px,#07a4c8 200.95px 202.42px,#07a4c9 202.42px 203.89px,#07a4c9 203.89px 205.36px,#06a4c9 205.36px 206.83px,#06a4ca 206.83px 208.30px,#06a4ca 208.30px 209.77px,#06a3ca 209.77px 211.24px,#06a3ca 211.24px 212.71px,#07a2ca 212.71px 214.18px,#07a2cb 214.18px 215.65px,#07a1cb 215.65px 217.12px,#07a0cb 217.12px 218.59px,#08a0cb 218.59px 220.06px,#089fcb 220.06px 221.53px,#089ecc 221.53px 223.00px,#089ecc 223.00px 224.47px,#099dcc 224.47px 225.93px,#099dcc 225.93px 227.40px,#099ccc 227.40px 228.87px,#099ccd 228.87px 230.34px,#099bcd 230.34px 231.81px,#099bcd 231.81px 233.28px,#0a9acd 233.28px 234.75px,#0a9acd 234.75px 236.22px,#0a99cd 236.22px 237.69px,#0a99cd 237.69px 239.16px,#0a99ce 239.16px 240.63px,#0b98ce 240.63px 242.10px,#0b98ce 242.10px 243.57px,#0b97ce 243.57px 245.04px,#0b97ce 245.04px 246.51px,#0b96ce 246.51px 247.98px,#0b96cf 247.98px 249.45px,#0c95cf 249.45px 250.92px,#0c95cf 250.92px 252.39px,#0c94cf 252.39px 253.85px,#0c94cf 253.85px 255.32px,#0c94cf 255.32px 256.79px,#0d93cf 256.79px 258.26px,#0d93d0 258.26px 259.73px,#0d92d0 259.73px 261.20px,#0d91d0 261.20px 262.67px,#0d91d0 262.67px 264.14px,#0e90d0 264.14px 265.61px,#0e90d1 265.61px 267.08px,#0e8fd1 267.08px 268.55px,#0e8fd1 268.55px 270.02px,#0e8ed1 270.02px 271.49px,#0f8ed1 271.49px 272.96px,#0f8dd1 272.96px 274.43px,#0f8dd2 274.43px 275.90px,#0f8cd2 275.90px 277.37px,#0f8cd2 277.37px 278.84px,#108bd2 278.84px 280.31px,#108bd2 280.31px 281.77px,#108ad2 281.77px 283.24px,#108ad3 283.24px 284.71px,#1089d3 284.71px 286.18px,#1189d3 286.18px 287.65px,#1188d3 287.65px 289.12px,#1188d3 289.12px 290.59px,#1187d4 290.59px 292.06px,#1187d4 292.06px 293.53px,#1187d4 293.53px 295.00px)"></div>
<div class="r" style="top:72.05px;height:8.73px;background:linear-gradient(90deg,#1169db 0.00px 1.49px,#1169db 1.49px 2.98px,#1169db 2.98px 4.47px,#116ada 4.47px 5.96px,#116bda 5.96px 7.45px,#116cda 7.45px 8.94px,#116cda 8.94px 10.43px,#116dda 10.43px 11.92px,#116eda 11.92px 13.41px,#126fda 13.41px 14.90px,#126fd9 14.90px 16.39px,#1270d9 16.39px 17.88px,#1271d9 17.88px 19.37px,#1271d9 19.37px 20.86px,#1272d9 20.86px 22.35px,#1273d9 22.35px 23.84px,#1274d8 23.84px 25.33px,#1274d8 25.33px 26.82px,#1275d8 26.82px 28.31px,#1376d8 28.31px 29.80px,#1377d8 29.80px 31.29px,#1377d8 31.29px 32.78px,#1378d8 32.78px 34.28px,#1379d7 34.28px 35.77px,#137ad7 35.77px 37.26px,#137bd7 37.26px 38.75px,#137cd7 38.75px 40.24px,#137dd7 40.24px 41.73px,#147ed6 41.73px 43.22px,#1480d6 43.22px 44.71px,#1481d6 44.71px 46.20px,#1382d5 46.20px 47.69px,#1383d5 47.69px 49.18px,#1284d5 49.18px 50.67px,#1285d4 50.67px 52.16px,#1187d4 52.16px 53.65px,#1188d3 53.65px 55.14px,#1189d3 55.14px 56.63px,#108ad3 56.63px 58.12px,#108bd2 58.12px 59.61px,#0f8cd2 59.61px 61.10px,#0f8ed1 61.10px 62.59px,#0e8fd1 62.59px 64.08px,#0e90d1 64.08px 65.57px,#0d91d0 65.57px 67.06px,#0d92d0 67.06px 68.55px,#0c93cf 68.55px 70.04px,#0c95cf 70.04px 71.53px,#0c96cf 71.53px 73.02px,#0b96ce 73.02px 74.51px,#0b97ce 74.51px 76.00px,#0b98ce 76.00px 77.49px,#0a99ce 77.49px 78.98px,#0a9acd 78.98px 80.47px,#0a9acd 80.47px 81.96px,#099bcd 81.96px 83.45px,#099ccc 83.45px 84.94px,#099dcc 84.94px 86.43px,#089ecc 86.43px 87.92px,#089fcc 87.92px 89.41px,#089fcb 89.41px 90.90px,#07a0cb 90.90px 92.39px,#07a1cb 92.39px 93.88px,#07a1cb 93.88px 95.37px,#07a2ca 95.37px 96.86px,#06a3ca 96.86px 98.35px,#06a3ca 98.35px 99.84px,#06a4c9 99.84px 101.33px,#07a4c9 101.33px 102.82px,#08a5c8 102.82px 104.32px,#09a5c7 104.32px 105.81px,#0aa5c6 105.81px 107.30px,#0aa6c6 107.30px 108.79px,#0ba6c5 108.79px 110.28px,#0ca7c4 110.28px 111.77px,#0da7c3 111.77px 113.26px,#0fa8c2 113.26px 114.75px,#10a9c0 114.75px 116.24px,#11a9bf 116.24px 117.73px,#13aabe 117.73px 119.22px,#14aabc 119.22px 120.71px,#15abbb 120.71px 122.20px,#17acba 122.20px 123.69px,#18acb9 123.69px 125.18px,#19adb7 125.18px 126.67px,#1baeb6 126.67px 128.16px,#20b0b1 128.16px 129.65px,#26b3ac 129.65px 131.14px,#2bb6a7 131.14px 132.63px,#34b8a1 132.63px 134.12px,#40b99b 134.12px 135.61px,#43b999 135.61px 137.10px,#1272d9 137.10px 138.00px,transparent 138.00px 151.70px,#1272d9 151.70px 153.40px,#099dcc 153.40px 155.40px,#52ba92 155.40px 156.87px,#52ba92 156.87px 158.34px,#52ba92 158.34px 159.81px,#4eba94 159.81px 161.28px,#43b999 161.28px 162.75px,#38b89f 162.75px 164.22px,#2db7a4 164.22px 165.69px,#28b4a9 165.69px 167.16px,#23b2ae 167.16px 168.63px,#1eafb3 168.63px 170.09px,#1aaeb6 170.09px 171.56px,#1aadb7 171.56px 173.03px,#19adb8 173.03px 174.50px,#18acb9 174.50px 175.97px,#17acba 175.97px 177.44px,#16acba 177.44px 178.91px,#15abbb 178.91px 180.38px,#15abbc 180.38px 181.85px,#14aabd 181.85px 183.32px,#13aabe 183.32px 184.79px,#12aabe 184.79px 186.26px,#11a9bf 186.26px 187.73px,#10a9c0 187.73px 189.20px,#0fa8c1 189.20px 190.67px,#0fa8c1 190.67px 192.14px,#0ea8c2 192.14px 193.61px,#0ea7c3 193.61px 195.08px,#0da7c3 195.08px 196.55px,#0ca7c4 196.55px 198.01px,#0ca6c4 198.01px 199.48px,#0ba6c5 199.48px 200.95px,#0aa6c6 200.95px 202.42px,#0aa6c6 202.42px 203.89px,#09a5c7 203.89px 205.36px,#09a5c7 205.36px 206.83px,#08a5c8 206.83px 208.30px,#07a4c8 208.30px 209.77px,#07a4c9 209.77px 211.24px,#06a4ca 211.24px 212.71px,#06a3ca 212.71px 214.18px,#06a2ca 214.18px 215.65px,#07a2ca 215.65px 217.12px,#07a1cb 217.12px 218.59px,#07a1cb 218.59px 220.06px,#07a0cb 220.06px 221.53px,#089fcb 221.53px 223.00px,#089fcc 223.00px 224.47px,#089ecc 224.47px 225.93px,#089ecc 225.93px 227.40px,#089dcc 227.40px 228.87px,#099dcc 228.87px 230.34px,#099ccc 230.34px 231.81px,#099ccc 231.81px 233.28px,#099ccd 233.28px 234.75px,#099bcd 234.75px 236.22px,#099bcd 236.22px 237.69px,#0a9acd 237.69px 239.16px,#0a9acd 239.16px 240.63px,#0a9acd 240.63px 242.10px,#0a99cd 242.10px 243.57px,#0a99ce 243.57px 245.04px,#0a98ce 245.04px 246.51px,#0b98ce 246.51px 247.98px,#0b97ce 247.98px 249.45px,#0b97ce 249.45px 250.92px,#0b97ce 250.92px 252.39px,#0b96ce 252.39px 253.85px,#0b96cf 253.85px 255.32px,#0c95cf 255.32px 256.79px,#0c95cf 256.79px 258.26px,#0c94cf 258.26px 259.73px,#0c94cf 259.73px 261.20px,#0c93cf 261.20px 262.67px,#0d93d0 262.67px 264.14px,#0d92d0 264.14px 265.61px,#0d92d0 265.61px 267.08px,#0d91d0 267.08px 268.55px,#0e90d0 268.55px 270.02px,#0e90d1 270.02px 271.49px,#0e8fd1 271.49px 272.96px,#0e8fd1 272.96px 274.43px,#0e8ed1 274.43px 275.90px,#0f8ed1 275.90px 277.37px,#0f8dd2 277.37px 278.84px,#0f8dd2 278.84px 280.31px,#0f8cd2 280.31px 281.77px,#108bd2 281.77px 283.24px,#108bd2 283.24px 284.71px,#108ad2 284.71px 286.18px,#108ad3 286.18px 287.65px,#1089d3 287.65px 289.12px,#1189d3 289.12px 290.59px,#1188d3 290.59px 292.06px,#1188d3 292.06px 293.53px,#1188d3 293.53px 295.00px)"></div>
<div class="r" style="top:80.73px;height:8.73px;background:linear-gradient(90deg,#1169db 0.00px 1.49px,#1169db 1.49px 2.98px,#1169db 2.98px 4.47px,#116ada 4.47px 5.96px,#116bda 5.96px 7.45px,#116cda 7.45px 8.94px,#116dda 8.94px 10.43px,#116dda 10.43px 11.92px,#116eda 11.92px 13.41px,#126fd9 13.41px 14.90px,#1270d9 14.90px 16.39px,#1270d9 16.39px 17.88px,#1271d9 17.88px 19.37px,#1272d9 19.37px 20.86px,#1273d9 20.86px 22.35px,#1274d9 22.35px 23.84px,#1274d8 23.84px 25.33px,#1275d8 25.33px 26.82px,#1276d8 26.82px 28.31px,#1377d8 28.31px 29.80px,#1377d8 29.80px 31.29px,#1378d8 31.29px 32.78px,#1379d7 32.78px 34.28px,#137ad7 34.28px 35.77px,#137bd7 35.77px 37.26px,#137cd7 37.26px 38.75px,#137dd7 38.75px 40.24px,#147ed6 40.24px 41.73px,#1480d6 41.73px 43.22px,#1481d6 43.22px 44.71px,#1382d5 44.71px 46.20px,#1383d5 46.20px 47.69px,#1284d5 47.69px 49.18px,#1286d4 49.18px 50.67px,#1187d4 50.67px 52.16px,#1188d3 52.16px 53.65px,#1089d3 53.65px 55.14px,#108ad2 55.14px 56.63px,#0f8cd2 56.63px 58.12px,#0f8dd2 58.12px 59.61px,#0f8ed1 59.61px 61.10px,#0e8fd1 61.10px 62.59px,#0e90d0 62.59px 64.08px,#0d92d0 64.08px 65.57px,#0d93d0 65.57px 67.06px,#0c94cf 67.06px 68.55px,#0c95cf 68.55px 70.04px,#0b96ce 70.04px 71.53px,#0b97ce 71.53px 73.02px,#0a98ce 73.02px 74.51px,#0a99cd 74.51px 76.00px,#0a9acd 76.00px 77.49px,#099bcd 77.49px 78.98px,#099ccc 78.98px 80.47px,#099dcc 80.47px 81.96px,#089ecc 81.96px 83.45px,#089fcc 83.45px 84.94px,#089fcb 84.94px 86.43px,#07a0cb 86.43px 87.92px,#07a1cb 87.92px 89.41px,#07a2ca 89.41px 90.90px,#06a3ca 90.90px 92.39px,#06a4c9 92.39px 93.88px,#08a5c8 93.88px 95.37px,#09a5c7 95.37px 96.86px,#0aa6c6 96.86px 98.35px,#0ba6c5 98.35px 99.84px,#0ca7c4 99.84px 101.33px,#0da7c3 101.33px 102.82px,#0fa8c2 102.82px 104.32px,#10a8c0 104.32px 105.81px,#11a9bf 105.81px 107.30px,#12aabe 107.30px 108.79px,#13aabd 108.79px 110.28px,#15abbc 110.28px 111.77px,#16acba 111.77px 113.26px,#18acb9 113.26px 114.75px,#1aadb7 114.75px 116.24px,#1baeb5 116.24px 117.73px,#1dafb4 117.73px 119.22px,#1fb0b2 119.22px 120.71px,#21b1b0 120.71px 122.20px,#22b1af 122.20px 123.69px,#24b2ad 123.69px 125.18px,#26b3ac 125.18px 126.67px,#28b4aa 126.67px 128.16px,#32b7a2 128.16px 129.65px,#45b998 129.65px 131.14px,#58bb8f 131.14px 132.63px,#6bbd85 132.63px 134.12px,#7ebe7c 134.12px 135.61px,#84bf79 135.61px 137.10px,#1378d8 137.10px 138.00px,transparent 138.00px 151.70px,#1272d9 151.70px 153.40px,#099dcc 153.40px 155.40px,#75bd80 155.40px 156.87px,#75bd80 156.87px 158.34px,#75bd80 158.34px 159.81px,#71bd82 159.81px 161.28px,#64bc89 161.28px 162.75px,#57bb8f 162.75px 164.22px,#49b996 164.22px 165.69px,#3cb89d 165.69px 167.16px,#2fb7a3 167.16px 168.63px,#28b4a9 168.63px 170.09px,#24b2ad 170.09px 171.56px,#23b2ae 171.56px 173.03px,#22b1b0 173.03px 174.50px,#21b1b1 174.50px 175.97px,#1fb0b2 175.97px 177.44px,#1eafb3 177.44px 178.91px,#1dafb4 178.91px 180.38px,#1caeb5 180.38px 181.85px,#1baeb6 181.85px 183.32px,#1aadb7 183.32px 184.79px,#18adb8 184.79px 186.26px,#17acb9 186.26px 187.73px,#16acba 187.73px 189.20px,#15abbc 189.20px 190.67px,#14aabd 190.67px 192.14px,#13aabd 192.14px 193.61px,#12aabe 193.61px 195.08px,#11a9bf 195.08px 196.55px,#10a9c0 196.55px 198.01px,#0fa8c1 198.01px 199.48px,#0ea8c2 199.48px 200.95px,#0da7c3 200.95px 202.42px,#0da7c4 202.42px 203.89px,#0ca6c4 203.89px 205.36px,#0ba6c5 205.36px 206.83px,#0aa6c6 206.83px 208.30px,#09a5c7 208.30px 209.77px,#08a5c8 209.77px 211.24px,#07a4c9 211.24px 212.71px,#06a4c9 212.71px 214.18px,#06a3ca 214.18px 215.65px,#06a3ca 215.65px 217.12px,#07a2ca 217.12px 218.59px,#07a1cb 218.59px 220.06px,#07a1cb 220.06px 221.53px,#07a0cb 221.53px 223.00px,#089fcb 223.00px 224.47px,#089fcb 224.47px 225.93px,#089fcb 225.93px 227.40px,#089ecc 227.40px 228.87px,#089ecc 228.87px 230.34px,#089ecc 230.34px 231.81px,#089dcc 231.81px 233.28px,#099dcc 233.28px 234.75px,#099ccc 234.75px 236.22px,#099ccc 236.22px 237.69px,#099ccd 237.69px 239.16px,#099bcd 239.16px 240.63px,#099bcd 240.63px 242.10px,#0a9bcd 242.10px 243.57px,#0a9acd 243.57px 245.04px,#0a9acd 245.04px 246.51px,#0a99cd 246.51px 247.98px,#0a99cd 247.98px 249.45px,#0a99ce 249.45px 250.92px,#0a98ce 250.92px 252.39px,#0b98ce 252.39px 253.85px,#0b98ce 253.85px 255.32px,#0b97ce 255.32px 256.79px,#0b97ce 256.79px 258.26px,#0b96ce 258.26px 259.73px,#0c96cf 259.73px 261.20px,#0c95cf 261.20px 262.67px,#0c94cf 262.67px 264.14px,#0c94cf 264.14px 265.61px,#0c93cf 265.61px 267.08px,#0d93d0 267.08px 268.55px,#0d92d0 268.55px 270.02px,#0d91d0 270.02px 271.49px,#0d91d0 271.49px 272.96px,#0e90d0 272.96px 274.43px,#0e90d1 274.43px 275.90px,#0e8fd1 275.90px 277.37px,#0e8ed1 277.37px 278.84px,#0f8ed1 278.84px 280.31px,#0f8dd1 280.31px 281.77px,#0f8dd2 281.77px 283.24px,#0f8cd2 283.24px 284.71px,#108bd2 284.71px 286.18px,#108bd2 286.18px 287.65px,#108ad3 287.65px 289.12px,#108ad3 289.12px 290.59px,#1189d3 290.59px 292.06px,#1189d3 292.06px 293.53px,#1189d3 293.53px 295.00px)"></div>
<div class="r" style="top:89.41px;height:8.73px;background:linear-gradient(90deg,#116ada 0.00px 1.49px,#116ada 1.49px 2.98px,#116bda 2.98px 4.47px,#116cda 4.47px 5.96px,#116cda 5.96px 7.45px,#116dda 7.45px 8.94px,#116eda 8.94px 10.43px,#126fda 10.43px 11.92px,#1270d9 11.92px 13.41px,#1270d9 13.41px 14.90px,#1271d9 14.90px 16.39px,#1272d9 16.39px 17.88px,#1273d9 17.88px 19.37px,#1273d9 19.37px 20.86px,#1274d8 20.86px 22.35px,#1275d8 22.35px 23.84px,#1276d8 23.84px 25.33px,#1377d8 25.33px 26.82px,#1377d8 26.82px 28.31px,#1378d8 28.31px 29.80px,#1379d7 29.80px 31.29px,#137ad7 31.29px 32.78px,#137ad7 32.78px 34.28px,#137bd7 34.28px 35.77px,#137cd7 35.77px 37.26px,#137dd7 37.26px 38.75px,#147ed6 38.75px 40.24px,#1480d6 40.24px 41.73px,#1481d6 41.73px 43.22px,#1382d5 43.22px 44.71px,#1383d5 44.71px 46.20px,#1285d4 46.20px 47.69px,#1286d4 47.69px 49.18px,#1187d4 49.18px 50.67px,#1188d3 50.67px 52.16px,#1089d3 52.16px 53.65px,#108bd2 53.65px 55.14px,#0f8cd2 55.14px 56.63px,#0f8dd2 56.63px 58.12px,#0e8ed1 58.12px 59.61px,#0e8fd1 59.61px 61.10px,#0d91d0 61.10px 62.59px,#0d92d0 62.59px 64.08px,#0d93d0 64.08px 65.57px,#0c94cf 65.57px 67.06px,#0c95cf 67.06px 68.55px,#0b97ce 68.55px 70.04px,#0b98ce 70.04px 71.53px,#0a99cd 71.53px 73.02px,#0a9acd 73.02px 74.51px,#0a9bcd 74.51px 76.00px,#099ccd 76.00px 77.49px,#099ccc 77.49px 78.98px,#089dcc 78.98px 80.47px,#089ecc 80.47px 81.96px,#089fcb 81.96px 83.45px,#07a0cb 83.45px 84.94px,#07a1cb 84.94px 86.43px,#07a2ca 86.43px 87.92px,#06a3ca 87.92px 89.41px,#06a4ca 89.41px 90.90px,#07a4c9 90.90px 92.39px,#08a5c7 92.39px 93.88px,#0aa6c6 93.88px 95.37px,#0ba6c5 95.37px 96.86px,#0da7c3 96.86px 98.35px,#0ea8c2 98.35px 99.84px,#0fa8c1 99.84px 101.33px,#11a9bf 101.33px 102.82px,#12aabe 102.82px 104.32px,#14aabd 104.32px 105.81px,#15abbb 105.81px 107.30px,#16acba 107.30px 108.79px,#18acb9 108.79px 110.28px,#19adb7 110.28px 111.77px,#1caeb5 111.77px 113.26px,#1fb0b2 113.26px 114.75px,#22b1b0 114.75px 116.24px,#24b2ad 116.24px 117.73px,#27b4aa 117.73px 119.22px,#2ab5a8 119.22px 120.71px,#2db6a5 120.71px 122.20px,#31b7a2 122.20px 123.69px,#37b89f 123.69px 125.18px,#3db89c 125.18px 126.67px,#43b999 126.67px 128.16px,#53ba91 128.16px 129.65px,#64bc89 129.65px 131.14px,#74bd81 131.14px 132.63px,#84bf79 132.63px 134.12px,#92be73 134.12px 135.61px,#96be71 135.61px 137.10px,#1272d9 137.10px 138.00px,transparent 138.00px 151.70px,#115ada 151.70px 153.40px,#099dcc 153.40px 155.40px,#87bf77 155.40px 156.87px,#87bf77 156.87px 158.34px,#87bf77 158.34px 159.81px,#84bf78 159.81px 161.28px,#7abe7e 161.28px 162.75px,#70bd83 162.75px 164.22px,#65bc88 164.22px 165.69px,#5bbb8d 165.69px 167.16px,#51ba92 167.16px 168.63px,#47b997 168.63px 170.09px,#3eb99c 170.09px 171.56px,#3ab89e 171.56px 173.03px,#36b8a0 173.03px 174.50px,#31b7a2 174.50px 175.97px,#2db7a4 175.97px 177.44px,#2cb6a6 177.44px 178.91px,#2ab5a8 178.91px 180.38px,#28b4aa 180.38px 181.85px,#26b3ac 181.85px 183.32px,#24b2ae 183.32px 184.79px,#22b1af 184.79px 186.26px,#20b0b1 186.26px 187.73px,#1eafb3 187.73px 189.20px,#1caeb5 189.20px 190.67px,#1aadb7 190.67px 192.14px,#19adb8 192.14px 193.61px,#17acb9 193.61px 195.08px,#16abbb 195.08px 196.55px,#15abbc 196.55px 198.01px,#13aabd 198.01px 199.48px,#12a9bf 199.48px 200.95px,#10a9c0 200.95px 202.42px,#0fa8c1 202.42px 203.89px,#0ea7c2 203.89px 205.36px,#0ca7c4 205.36px 206.83px,#0ba6c5 206.83px 208.30px,#0aa5c6 208.30px 209.77px,#08a5c8 209.77px 211.24px,#07a4c9 211.24px 212.71px,#06a4ca 212.71px 214.18px,#06a3ca 214.18px 215.65px,#07a2ca 215.65px 217.12px,#07a1cb 217.12px 218.59px,#07a1cb 218.59px 220.06px,#07a0cb 220.06px 221.53px,#089fcb 221.53px 223.00px,#089ecc 223.00px 224.47px,#089ecc 224.47px 225.93px,#099dcc 225.93px 227.40px,#099dcc 227.40px 228.87px,#099ccc 228.87px 230.34px,#099ccd 230.34px 231.81px,#099bcd 231.81px 233.28px,#0a9bcd 233.28px 234.75px,#0a9acd 234.75px 236.22px,#0a9acd 236.22px 237.69px,#0a99cd 237.69px 239.16px,#0a99ce 239.16px 240.63px,#0b98ce 240.63px 242.10px,#0b98ce 242.10px 243.57px,#0b97ce 243.57px 245.04px,#0b97ce 245.04px 246.51px,#0b96ce 246.51px 247.98px,#0c96cf 247.98px 249.45px,#0c95cf 249.45px 250.92px,#0c95cf 250.92px 252.39px,#0c94cf 252.39px 253.85px,#0c94cf 253.85px 255.32px,#0d93cf 255.32px 256.79px,#0d93d0 256.79px 258.26px,#0d92d0 258.26px 259.73px,#0d91d0 259.73px 261.20px,#0d91d0 261.20px 262.67px,#0e90d0 262.67px 264.14px,#0e90d1 264.14px 265.61px,#0e8fd1 265.61px 267.08px,#0e8fd1 267.08px 268.55px,#0e8ed1 268.55px 270.02px,#0f8ed1 270.02px 271.49px,#0f8dd1 271.49px 272.96px,#0f8dd2 272.96px 274.43px,#0f8cd2 274.43px 275.90px,#0f8cd2 275.90px 277.37px,#108bd2 277.37px 278.84px,#108bd2 278.84px 280.31px,#108ad3 280.31px 281.77px,#1089d3 281.77px 283.24px,#1189d3 283.24px 284.71px,#1188d3 284.71px 286.18px,#1188d3 286.18px 287.65px,#1187d4 287.65px 289.12px,#1187d4 289.12px 290.59px,#1286d4 290.59px 292.06px,#1286d4 292.06px 293.53px,#1286d4 293.53px 295.00px)"></div>
<div class="r" style="top:98.08px;height:8.73px;background:linear-gradient(90deg,#116cda 0.00px 1.49px,#116cda 1.49px 2.98px,#116cda 2.98px 4.47px,#116dda 4.47px 5.96px,#116eda 5.96px 7.45px,#126fda 7.45px 8.94px,#126fd9 8.94px 10.43px,#1270d9 10.43px 11.92px,#1271d9 11.92px 13.41px,#1272d9 13.41px 14.90px,#1273d9 14.90px 16.39px,#1273d9 16.39px 17.88px,#1274d8 17.88px 19.37px,#1275d8 19.37px 20.86px,#1276d8 20.86px 22.35px,#1376d8 22.35px 23.84px,#1377d8 23.84px 25.33px,#1378d8 25.33px 26.82px,#1379d7 26.82px 28.31px,#137ad7 28.31px 29.80px,#137ad7 29.80px 31.29px,#137bd7 31.29px 32.78px,#137cd7 32.78px 34.28px,#137dd7 34.28px 35.77px,#137dd6 35.77px 37.26px,#147fd6 37.26px 38.75px,#1480d6 38.75px 40.24px,#1481d6 40.24px 41.73px,#1382d5 41.73px 43.22px,#1384d5 43.22px 44.71px,#1285d4 44.71px 46.20px,#1286d4 46.20px 47.69px,#1187d4 47.69px 49.18px,#1188d3 49.18px 50.67px,#108ad3 50.67px 52.16px,#108bd2 52.16px 53.65px,#0f8cd2 53.65px 55.14px,#0f8dd1 55.14px 56.63px,#0e8ed1 56.63px 58.12px,#0e90d1 58.12px 59.61px,#0d91d0 59.61px 61.10px,#0d92d0 61.10px 62.59px,#0c93cf 62.59px 64.08px,#0c94cf 64.08px 65.57px,#0c96cf 65.57px 67.06px,#0b97ce 67.06px 68.55px,#0b98ce 68.55px 70.04px,#0a99cd 70.04px 71.53px,#0a9acd 71.53px 73.02px,#099bcd 73.02px 74.51px,#099ccc 74.51px 76.00px,#099dcc 76.00px 77.49px,#089ecc 77.49px 78.98px,#089fcc 78.98px 80.47px,#08a0cb 80.47px 81.96px,#07a1cb 81.96px 83.45px,#07a1cb 83.45px 84.94px,#06a2ca 84.94px 86.43px,#06a3ca 86.43px 87.92px,#06a4c9 87.92px 89.41px,#07a4c8 89.41px 90.90px,#09a5c7 90.90px 92.39px,#0ba6c5 92.39px 93.88px,#0ca7c4 93.88px 95.37px,#0ea7c2 95.37px 96.86px,#0fa8c1 96.86px 98.35px,#11a9bf 98.35px 99.84px,#13aabe 99.84px 101.33px,#14abbc 101.33px 102.82px,#16abbb 102.82px 104.32px,#18acb9 104.32px 105.81px,#19adb8 105.81px 107.30px,#1baeb6 107.30px 108.79px,#1cafb4 108.79px 110.28px,#1eafb3 110.28px 111.77px,#22b1af 111.77px 113.26px,#26b3ac 113.26px 114.75px,#2ab5a8 114.75px 116.24px,#2db7a4 116.24px 117.73px,#35b8a0 117.73px 119.22px,#3db89c 119.22px 120.71px,#46b998 120.71px 122.20px,#4eba94 122.20px 123.69px,#56bb8f 123.69px 125.18px,#5fbb8b 125.18px 126.67px,#67bc87 126.67px 128.16px,#74bd80 128.16px 129.65px,#82bf7a 129.65px 131.14px,#8ebf74 131.14px 132.63px,#99be70 132.63px 134.12px,#a4bd6b 134.12px 135.61px,#a8bd6a 135.61px 137.10px,#1060dd 137.10px 138.00px,transparent 138.00px 151.70px,#1272d9 151.70px 153.40px,#099dcc 153.40px 155.40px,#96be71 155.40px 156.87px,#96be71 156.87px 158.34px,#96be71 158.34px 159.81px,#94be72 159.81px 161.28px,#8ebf74 161.28px 162.75px,#88bf76 162.75px 164.22px,#81bf7a 164.22px 165.69px,#7abe7d 165.69px 167.16px,#73bd81 167.16px 168.63px,#6cbd85 168.63px 170.09px,#65bc88 170.09px 171.56px,#5fbb8b 171.56px 173.03px,#59bb8e 173.03px 174.50px,#53ba91 174.50px 175.97px,#4cba95 175.97px 177.44px,#46b998 177.44px 178.91px,#40b99b 178.91px 180.38px,#3ab89e 180.38px 181.85px,#34b8a1 181.85px 183.32px,#2eb7a4 183.32px 184.79px,#2bb6a7 184.79px 186.26px,#28b4a9 186.26px 187.73px,#26b3ac 187.73px 189.20px,#23b2ae 189.20px 190.67px,#20b0b1 190.67px 192.14px,#1fb0b2 192.14px 193.61px,#1dafb4 193.61px 195.08px,#1baeb6 195.08px 196.55px,#19adb8 196.55px 198.01px,#17acb9 198.01px 199.48px,#15abbb 199.48px 200.95px,#13aabd 200.95px 202.42px,#12a9bf 202.42px 203.89px,#10a8c1 203.89px 205.36px,#0ea8c2 205.36px 206.83px,#0ca7c4 206.83px 208.30px,#0aa6c6 208.30px 209.77px,#08a5c8 209.77px 211.24px,#07a4c9 211.24px 212.71px,#06a4ca 212.71px 214.18px,#06a3ca 214.18px 215.65px,#07a2cb 215.65px 217.12px,#07a1cb 217.12px 218.59px,#08a0cb 218.59px 220.06px,#089fcc 220.06px 221.53px,#089ecc 221.53px 223.00px,#099dcc 223.00px 224.47px,#099ccc 224.47px 225.93px,#099bcd 225.93px 227.40px,#099bcd 227.40px 228.87px,#0a9acd 228.87px 230.34px,#0a9acd 230.34px 231.81px,#0a99cd 231.81px 233.28px,#0a98ce 233.28px 234.75px,#0b98ce 234.75px 236.22px,#0b97ce 236.22px 237.69px,#0b96ce 237.69px 239.16px,#0b96cf 239.16px 240.63px,#0c95cf 240.63px 242.10px,#0c95cf 242.10px 243.57px,#0c94cf 243.57px 245.04px,#0c93cf 245.04px 246.51px,#0d93d0 246.51px 247.98px,#0d92d0 247.98px 249.45px,#0d91d0 249.45px 250.92px,#0d91d0 250.92px 252.39px,#0e90d0 252.39px 253.85px,#0e90d1 253.85px 255.32px,#0e8fd1 255.32px 256.79px,#0e8ed1 256.79px 258.26px,#0f8ed1 258.26px 259.73px,#0f8dd1 259.73px 261.20px,#0f8dd2 261.20px 262.67px,#0f8cd2 262.67px 264.14px,#0f8cd2 264.14px 265.61px,#108cd2 265.61px 267.08px,#108bd2 267.08px 268.55px,#108bd2 268.55px 270.02px,#108ad3 270.02px 271.49px,#108ad3 271.49px 272.96px,#1089d3 272.96px 274.43px,#1189d3 274.43px 275.90px,#1188d3 275.90px 277.37px,#1188d3 277.37px 278.84px,#1187d4 278.84px 280.31px,#1187d4 280.31px 281.77px,#1286d4 281.77px 283.24px,#1286d4 283.24px 284.71px,#1285d4 284.71px 286.18px,#1285d4 286.18px 287.65px,#1284d5 287.65px 289.12px,#1384d5 289.12px 290.59px,#1383d5 290.59px 292.06px,#1383d5 292.06px 293.53px,#1383d5 293.53px 295.00px)"></div>
<div class="r" style="top:106.76px;height:8.73px;background:linear-gradient(90deg,#1272d9 0.00px 1.49px,#1272d9 1.49px 2.98px,#1272d9 2.98px 4.47px,#1273d9 4.47px 5.96px,#1274d8 5.96px 7.45px,#1275d8 7.45px 8.94px,#1275d8 8.94px 10.43px,#1376d8 10.43px 11.92px,#1377d8 11.92px 13.41px,#1378d8 13.41px 14.90px,#1378d7 14.90px 16.39px,#1379d7 16.39px 17.88px,#137ad7 17.88px 19.37px,#137bd7 19.37px 20.86px,#137cd7 20.86px 22.35px,#137cd7 22.35px 23.84px,#137dd7 23.84px 25.33px,#147ed6 25.33px 26.82px,#147fd6 26.82px 28.31px,#147fd6 28.31px 29.80px,#1480d6 29.80px 31.29px,#1481d6 31.29px 32.78px,#1382d5 32.78px 34.28px,#1383d5 34.28px 35.77px,#1383d5 35.77px 37.26px,#1284d5 37.26px 38.75px,#1285d4 38.75px 40.24px,#1187d4 40.24px 41.73px,#1188d3 41.73px 43.22px,#1189d3 43.22px 44.71px,#108ad3 44.71px 46.20px,#108bd2 46.20px 47.69px,#0f8cd2 47.69px 49.18px,#0f8dd1 49.18px 50.67px,#0e8fd1 50.67px 52.16px,#0e90d1 52.16px 53.65px,#0d91d0 53.65px 55.14px,#0d92d0 55.14px 56.63px,#0c93cf 56.63px 58.12px,#0c94cf 58.12px 59.61px,#0c95cf 59.61px 61.10px,#0b97ce 61.10px 62.59px,#0b98ce 62.59px 64.08px,#0a99cd 64.08px 65.57px,#0a9acd 65.57px 67.06px,#099bcd 67.06px 68.55px,#099ccc 68.55px 70.04px,#089dcc 70.04px 71.53px,#089fcc 71.53px 73.02px,#08a0cb 73.02px 74.51px,#07a1cb 74.51px 76.00px,#07a2cb 76.00px 77.49px,#06a3ca 77.49px 78.98px,#06a4ca 78.98px 80.47px,#07a4c9 80.47px 81.96px,#08a5c8 81.96px 83.45px,#09a5c7 83.45px 84.94px,#0aa6c6 84.94px 86.43px,#0ba6c5 86.43px 87.92px,#0da7c3 87.92px 89.41px,#0ea7c2 89.41px 90.90px,#10a8c0 90.90px 92.39px,#12aabe 92.39px 93.88px,#15abbc 93.88px 95.37px,#17acba 95.37px 96.86px,#19adb8 96.86px 98.35px,#1caeb5 98.35px 99.84px,#1eafb3 99.84px 101.33px,#20b0b1 101.33px 102.82px,#23b2af 102.82px 104.32px,#25b3ac 104.32px 105.81px,#27b4aa 105.81px 107.30px,#2ab5a8 107.30px 108.79px,#2cb6a6 108.79px 110.28px,#2fb7a3 110.28px 111.77px,#39b89e 111.77px 113.26px,#42b99a 113.26px 114.75px,#4cba95 114.75px 116.24px,#56bb90 116.24px 117.73px,#5fbb8b 117.73px 119.22px,#69bc86 119.22px 120.71px,#72bd81 120.71px 122.20px,#7cbe7c 122.20px 123.69px,#86bf78 123.69px 125.18px,#8ebf74 125.18px 126.67px,#96be71 126.67px 128.16px,#9fbe6d 128.16px 129.65px,#a8bd6a 129.65px 131.14px,#b0bd66 131.14px 132.63px,#b9bc63 132.63px 134.12px,#c2bc5f 134.12px 135.61px,#c5bc5e 135.61px 137.10px,#1752cc 137.10px 138.00px,transparent 138.00px 151.70px,#1189d3 151.70px 153.40px,#14aabd 153.40px 155.40px,#bfbc60 155.40px 156.87px,#bfbc60 156.87px 158.34px,#bfbc60 158.34px 159.81px,#bdbc61 159.81px 161.28px,#b7bc63 161.28px 162.75px,#b1bd66 162.75px 164.22px,#acbd68 164.22px 165.69px,#a6bd6b 165.69px 167.16px,#a0be6d 167.16px 168.63px,#9abe6f 168.63px 170.09px,#94be72 170.09px 171.56px,#8dbf75 171.56px 173.03px,#86bf78 173.03px 174.50px,#7ebe7c 174.50px 175.97px,#75bd80 175.97px 177.44px,#6dbd84 177.44px 178.91px,#65bc88 178.91px 180.38px,#5dbb8c 180.38px 181.85px,#55bb90 181.85px 183.32px,#4cba94 183.32px 184.79px,#44b999 184.79px 186.26px,#3cb89d 186.26px 187.73px,#34b8a1 187.73px 189.20px,#2db7a5 189.20px 190.67px,#2ab5a8 190.67px 192.14px,#28b4aa 192.14px 193.61px,#26b3ac 193.61px 195.08px,#24b2ae 195.08px 196.55px,#22b1b0 196.55px 198.01px,#1fb0b2 198.01px 199.48px,#1dafb4 199.48px 200.95px,#1baeb6 200.95px 202.42px,#19adb7 202.42px 203.89px,#17acb9 203.89px 205.36px,#15abbb 205.36px 206.83px,#13aabd 206.83px 208.30px,#11a9bf 208.30px 209.77px,#0fa8c1 209.77px 211.24px,#0da7c3 211.24px 212.71px,#0ca7c4 212.71px 214.18px,#0ba6c5 214.18px 215.65px,#09a5c7 215.65px 217.12px,#08a5c8 217.12px 218.59px,#07a4c9 218.59px 220.06px,#06a3ca 220.06px 221.53px,#07a2ca 221.53px 223.00px,#07a1cb 223.00px 224.47px,#07a0cb 224.47px 225.93px,#07a0cb 225.93px 227.40px,#089fcb 227.40px 228.87px,#089fcc 228.87px 230.34px,#089ecc 230.34px 231.81px,#089ecc 231.81px 233.28px,#099dcc 233.28px 234.75px,#099ccc 234.75px 236.22px,#099ccc 236.22px 237.69px,#099bcd 237.69px 239.16px,#099bcd 239.16px 240.63px,#0a9acd 240.63px 242.10px,#0a9acd 242.10px 243.57px,#0a99cd 243.57px 245.04px,#0a98ce 245.04px 246.51px,#0b98ce 246.51px 247.98px,#0b97ce 247.98px 249.45px,#0b97ce 249.45px 250.92px,#0b96ce 250.92px 252.39px,#0c96cf 252.39px 253.85px,#0c95cf 253.85px 255.32px,#0c95cf 255.32px 256.79px,#0c94cf 256.79px 258.26px,#0c94cf 258.26px 259.73px,#0d93cf 259.73px 261.20px,#0d93d0 261.20px 262.67px,#0d92d0 262.67px 264.14px,#0d92d0 264.14px 265.61px,#0d91d0 265.61px 267.08px,#0d91d0 267.08px 268.55px,#0e90d0 268.55px 270.02px,#0e90d1 270.02px 271.49px,#0e8fd1 271.49px 272.96px,#0e8fd1 272.96px 274.43px,#0e8ed1 274.43px 275.90px,#0f8ed1 275.90px 277.37px,#0f8dd1 277.37px 278.84px,#0f8dd2 278.84px 280.31px,#0f8cd2 280.31px 281.77px,#0f8cd2 281.77px 283.24px,#108bd2 283.24px 284.71px,#108bd2 284.71px 286.18px,#108ad2 286.18px 287.65px,#108ad3 287.65px 289.12px,#108ad3 289.12px 290.59px,#1189d3 290.59px 292.06px,#1189d3 292.06px 293.53px,#1189d3 293.53px 295.00px)"></div>
<div class="r" style="top:115.43px;height:8.73px;background:linear-gradient(90deg,#1378d8 0.00px 1.49px,#1378d8 1.49px 2.98px,#1378d8 2.98px 4.47px,#1379d7 4.47px 5.96px,#137ad7 5.96px 7.45px,#137bd7 7.45px 8.94px,#137cd7 8.94px 10.43px,#137dd6 10.43px 11.92px,#147ed6 11.92px 13.41px,#1480d6 13.41px 14.90px,#1481d6 14.90px 16.39px,#1382d5 16.39px 17.88px,#1383d5 17.88px 19.37px,#1384d5 19.37px 20.86px,#1285d4 20.86px 22.35px,#1286d4 22.35px 23.84px,#1287d4 23.84px 25.33px,#1188d3 25.33px 26.82px,#1188d3 26.82px 28.31px,#1089d3 28.31px 29.80px,#108ad2 29.80px 31.29px,#108bd2 31.29px 32.78px,#0f8cd2 32.78px 34.28px,#0f8dd1 34.28px 35.77px,#0e8ed1 35.77px 37.26px,#0e8fd1 37.26px 38.75px,#0e90d0 38.75px 40.24px,#0d91d0 40.24px 41.73px,#0d92d0 41.73px 43.22px,#0c93cf 43.22px 44.71px,#0c94cf 44.71px 46.20px,#0c95cf 46.20px 47.69px,#0b96ce 47.69px 49.18px,#0b97ce 49.18px 50.67px,#0b98ce 50.67px 52.16px,#0a99cd 52.16px 53.65px,#0a9acd 53.65px 55.14px,#099bcd 55.14px 56.63px,#099ccc 56.63px 58.12px,#099dcc 58.12px 59.61px,#089ecc 59.61px 61.10px,#089fcb 61.10px 62.59px,#07a0cb 62.59px 64.08px,#07a1cb 64.08px 65.57px,#07a2ca 65.57px 67.06px,#06a3ca 67.06px 68.55px,#06a4ca 68.55px 70.04px,#07a4c9 70.04px 71.53px,#08a5c8 71.53px 73.02px,#09a5c6 73.02px 74.51px,#0ba6c5 74.51px 76.00px,#0ca7c4 76.00px 77.49px,#0da7c3 77.49px 78.98px,#0ea8c2 78.98px 80.47px,#10a8c0 80.47px 81.96px,#11a9bf 81.96px 83.45px,#12aabe 83.45px 84.94px,#14aabd 84.94px 86.43px,#15abbc 86.43px 87.92px,#16abba 87.92px 89.41px,#17acb9 89.41px 90.90px,#1aadb7 90.90px 92.39px,#1dafb4 92.39px 93.88px,#20b0b1 93.88px 95.37px,#23b2ae 95.37px 96.86px,#26b3ab 96.86px 98.35px,#29b5a8 98.35px 99.84px,#2cb6a5 99.84px 101.33px,#31b7a2 101.33px 102.82px,#38b89f 102.82px 104.32px,#3eb99c 104.32px 105.81px,#45b998 105.81px 107.30px,#4cba95 107.30px 108.79px,#53ba91 108.79px 110.28px,#5abb8e 110.28px 111.77px,#64bc89 111.77px 113.26px,#6ebd83 113.26px 114.75px,#79be7e 114.75px 116.24px,#83bf79 116.24px 117.73px,#8cbf75 117.73px 119.22px,#95be71 119.22px 120.71px,#9dbe6e 120.71px 122.20px,#a6bd6b 122.20px 123.69px,#aebd67 123.69px 125.18px,#b7bc64 125.18px 126.67px,#bfbc60 126.67px 128.16px,#c7bb5d 128.16px 129.65px,#cfbb5a 129.65px 131.14px,#d4bc56 131.14px 132.63px,#d9bd52 132.63px 134.12px,#debf4e 134.12px 135.61px,#dfbf4d 135.61px 137.10px,#1752cc 137.10px 138.00px,transparent 138.00px 151.70px,#1189d3 151.70px 153.40px,#29b5a9 153.40px 155.40px,#dcbe50 155.40px 156.87px,#dcbe50 156.87px 158.34px,#dcbe50 158.34px 159.81px,#dbbe51 159.81px 161.28px,#d8bd53 161.28px 162.75px,#d6bc55 162.75px 164.22px,#d3bc57 164.22px 165.69px,#d0bb59 165.69px 167.16px,#ccbb5b 167.16px 168.63px,#c8bb5d 168.63px 170.09px,#c2bc5f 170.09px 171.56px,#babc62 171.56px 173.03px,#b2bd66 173.03px 174.50px,#aabd69 174.50px 175.97px,#a2be6c 175.97px 177.44px,#9abe6f 177.44px 178.91px,#92be72 178.91px 180.38px,#8abf76 180.38px 181.85px,#81be7a 181.85px 183.32px,#77be7f 183.32px 184.79px,#6dbd84 184.79px 186.26px,#64bc89 186.26px 187.73px,#5abb8e 187.73px 189.20px,#50ba93 189.20px 190.67px,#48b997 190.67px 192.14px,#42b999 192.14px 193.61px,#3db89c 193.61px 195.08px,#37b89f 195.08px 196.55px,#31b7a2 196.55px 198.01px,#2db7a5 198.01px 199.48px,#2ab5a7 199.48px 200.95px,#28b4aa 200.95px 202.42px,#25b3ac 202.42px 203.89px,#23b2ae 203.89px 205.36px,#20b0b1 205.36px 206.83px,#1eafb3 206.83px 208.30px,#1baeb6 208.30px 209.77px,#19adb8 209.77px 211.24px,#17acba 211.24px 212.71px,#15abbb 212.71px 214.18px,#14aabd 214.18px 215.65px,#12aabe 215.65px 217.12px,#11a9c0 217.12px 218.59px,#0fa8c1 218.59px 220.06px,#0ea7c2 220.06px 221.53px,#0ca7c4 221.53px 223.00px,#0ba6c5 223.00px 224.47px,#0aa6c6 224.47px 225.93px,#09a5c7 225.93px 227.40px,#09a5c7 227.40px 228.87px,#08a5c8 228.87px 230.34px,#07a4c9 230.34px 231.81px,#06a4c9 231.81px 233.28px,#06a4ca 233.28px 234.75px,#06a3ca 234.75px 236.22px,#06a2ca 236.22px 237.69px,#07a2ca 237.69px 239.16px,#07a1cb 239.16px 240.63px,#07a0cb 240.63px 242.10px,#07a0cb 242.10px 243.57px,#089fcb 243.57px 245.04px,#089fcc 245.04px 246.51px,#089ecc 246.51px 247.98px,#089dcc 247.98px 249.45px,#099dcc 249.45px 250.92px,#099ccc 250.92px 252.39px,#099bcd 252.39px 253.85px,#099bcd 253.85px 255.32px,#0a9acd 255.32px 256.79px,#0a9acd 256.79px 258.26px,#0a99cd 258.26px 259.73px,#0a99ce 259.73px 261.20px,#0a98ce 261.20px 262.67px,#0b98ce 262.67px 264.14px,#0b97ce 264.14px 265.61px,#0b97ce 265.61px 267.08px,#0b96ce 267.08px 268.55px,#0b96cf 268.55px 270.02px,#0c95cf 270.02px 271.49px,#0c95cf 271.49px 272.96px,#0c94cf 272.96px 274.43px,#0c94cf 274.43px 275.90px,#0c93cf 275.90px 277.37px,#0d93d0 277.37px 278.84px,#0d92d0 278.84px 280.31px,#0d92d0 280.31px 281.77px,#0d92d0 281.77px 283.24px,#0d91d0 283.24px 284.71px,#0e91d0 284.71px 286.18px,#0e90d1 286.18px 287.65px,#0e90d1 287.65px 289.12px,#0e8fd1 289.12px 290.59px,#0e8fd1 290.59px 292.06px,#0e8fd1 292.06px 293.53px,#0e8fd1 293.53px 295.00px)"></div>
<div class="r" style="top:124.11px;height:8.73px;background:linear-gradient(90deg,#1481d6 0.00px 1.49px,#1481d6 1.49px 2.98px,#1481d6 2.98px 4.47px,#1382d5 4.47px 5.96px,#1383d5 5.96px 7.45px,#1384d5 7.45px 8.94px,#1285d4 8.94px 10.43px,#1286d4 10.43px 11.92px,#1187d4 11.92px 13.41px,#1188d3 13.41px 14.90px,#1189d3 14.90px 16.39px,#108ad3 16.39px 17.88px,#108bd2 17.88px 19.37px,#0f8cd2 19.37px 20.86px,#0f8dd2 20.86px 22.35px,#0f8ed1 22.35px 23.84px,#0e8fd1 23.84px 25.33px,#0e90d1 25.33px 26.82px,#0d91d0 26.82px 28.31px,#0d92d0 28.31px 29.80px,#0d93d0 29.80px 31.29px,#0c94cf 31.29px 32.78px,#0c95cf 32.78px 34.28px,#0b96cf 34.28px 35.77px,#0b97ce 35.77px 37.26px,#0b98ce 37.26px 38.75px,#0a99cd 38.75px 40.24px,#0a9acd 40.24px 41.73px,#099bcd 41.73px 43.22px,#099ccc 43.22px 44.71px,#089dcc 44.71px 46.20px,#089ecc 46.20px 47.69px,#08a0cb 47.69px 49.18px,#07a1cb 49.18px 50.67px,#07a2ca 50.67px 52.16px,#06a3ca 52.16px 53.65px,#06a4ca 53.65px 55.14px,#07a4c8 55.14px 56.63px,#09a5c7 56.63px 58.12px,#0aa6c6 58.12px 59.61px,#0ba6c5 59.61px 61.10px,#0ca7c4 61.10px 62.59px,#0ea7c3 62.59px 64.08px,#0fa8c1 64.08px 65.57px,#10a9c0 65.57px 67.06px,#11a9bf 67.06px 68.55px,#12aabe 68.55px 70.04px,#14aabd 70.04px 71.53px,#15abbb 71.53px 73.02px,#17acba 73.02px 74.51px,#19adb8 74.51px 76.00px,#1baeb6 76.00px 77.49px,#1cafb5 77.49px 78.98px,#1eafb3 78.98px 80.47px,#20b0b1 80.47px 81.96px,#22b1b0 81.96px 83.45px,#23b2ae 83.45px 84.94px,#25b3ac 84.94px 86.43px,#27b4ab 86.43px 87.92px,#29b4a9 87.92px 89.41px,#2ab5a7 89.41px 90.90px,#2eb7a4 90.90px 92.39px,#35b8a0 92.39px 93.88px,#3db89c 93.88px 95.37px,#45b998 95.37px 96.86px,#4dba94 96.86px 98.35px,#54ba90 98.35px 99.84px,#5cbb8d 99.84px 101.33px,#64bc89 101.33px 102.82px,#6cbd85 102.82px 104.32px,#74bd81 104.32px 105.81px,#7bbe7d 105.81px 107.30px,#83bf79 107.30px 108.79px,#8abf76 108.79px 110.28px,#91be73 110.28px 111.77px,#99be70 111.77px 113.26px,#a2be6c 113.26px 114.75px,#aabd69 114.75px 116.24px,#b3bd65 116.24px 117.73px,#bbbc62 117.73px 119.22px,#c4bc5e 119.22px 120.71px,#ccbb5b 120.71px 122.20px,#d3bc57 122.20px 123.69px,#d8bd53 123.69px 125.18px,#debf4e 125.18px 126.67px,#e3c04a 126.67px 128.16px,#e5c148 128.16px 129.65px,#e7c246 129.65px 131.14px,#e9c244 131.14px 132.63px,#ebc343 132.63px 134.12px,#edc341 134.12px 135.61px,#eec440 135.61px 137.10px,#1066db 137.10px 138.00px,transparent 138.00px 151.70px,#1272d9 151.70px 153.40px,#44b999 153.40px 155.40px,#eac243 155.40px 156.87px,#eac243 156.87px 158.34px,#eac243 158.34px 159.81px,#eac244 159.81px 161.28px,#e8c245 161.28px 162.75px,#e6c146 162.75px 164.22px,#e5c148 164.22px 165.69px,#e3c049 165.69px 167.16px,#e2c04a 167.16px 168.63px,#e0c04c 168.63px 170.09px,#debf4e 170.09px 171.56px,#d9bd52 171.56px 173.03px,#d4bc56 173.03px 174.50px,#cfbb5a 174.50px 175.97px,#c7bb5d 175.97px 177.44px,#c0bc60 177.44px 178.91px,#b8bc63 178.91px 180.38px,#b0bd66 180.38px 181.85px,#a9bd69 181.85px 183.32px,#a1be6c 183.32px 184.79px,#9abe6f 184.79px 186.26px,#92be73 186.26px 187.73px,#8abf76 187.73px 189.20px,#82bf7a 189.20px 190.67px,#7abe7e 190.67px 192.14px,#73bd81 192.14px 193.61px,#6cbd84 193.61px 195.08px,#66bc88 195.08px 196.55px,#5fbb8b 196.55px 198.01px,#58bb8f 198.01px 199.48px,#51ba92 199.48px 200.95px,#4bba95 200.95px 202.42px,#44b999 202.42px 203.89px,#3db89c 203.89px 205.36px,#37b89f 205.36px 206.83px,#30b7a3 206.83px 208.30px,#2cb6a6 208.30px 209.77px,#29b5a9 209.77px 211.24px,#26b3ab 211.24px 212.71px,#24b2ad 212.71px 214.18px,#22b1af 214.18px 215.65px,#20b0b1 215.65px 217.12px,#1eafb3 217.12px 218.59px,#1caeb5 218.59px 220.06px,#1aadb7 220.06px 221.53px,#18acb9 221.53px 223.00px,#16abbb 223.00px 224.47px,#15abbb 224.47px 225.93px,#14abbc 225.93px 227.40px,#14aabd 227.40px 228.87px,#13aabe 228.87px 230.34px,#12aabe 230.34px 231.81px,#11a9bf 231.81px 233.28px,#10a9c0 233.28px 234.75px,#10a8c1 234.75px 236.22px,#0fa8c1 236.22px 237.69px,#0ea8c2 237.69px 239.16px,#0da7c3 239.16px 240.63px,#0da7c4 240.63px 242.10px,#0ca7c4 242.10px 243.57px,#0ba6c5 243.57px 245.04px,#0aa6c6 245.04px 246.51px,#09a5c6 246.51px 247.98px,#09a5c7 247.98px 249.45px,#08a5c8 249.45px 250.92px,#07a4c9 250.92px 252.39px,#06a4c9 252.39px 253.85px,#06a3ca 253.85px 255.32px,#06a3ca 255.32px 256.79px,#07a2ca 256.79px 258.26px,#07a2cb 258.26px 259.73px,#07a1cb 259.73px 261.20px,#07a1cb 261.20px 262.67px,#07a0cb 262.67px 264.14px,#08a0cb 264.14px 265.61px,#089fcb 265.61px 267.08px,#089fcc 267.08px 268.55px,#089ecc 268.55px 270.02px,#089ecc 270.02px 271.49px,#089dcc 271.49px 272.96px,#099dcc 272.96px 274.43px,#099ccc 274.43px 275.90px,#099ccc 275.90px 277.37px,#099bcd 277.37px 278.84px,#099bcd 278.84px 280.31px,#0a9acd 280.31px 281.77px,#0a9acd 281.77px 283.24px,#0a99cd 283.24px 284.71px,#0a99cd 284.71px 286.18px,#0a99ce 286.18px 287.65px,#0b98ce 287.65px 289.12px,#0b98ce 289.12px 290.59px,#0b97ce 290.59px 292.06px,#0b97ce 292.06px 293.53px,#0b97ce 293.53px 295.00px)"></div>
<div class="r" style="top:132.78px;height:8.73px;background:linear-gradient(90deg,#0e8fd1 0.00px 1.49px,#0e8fd1 1.49px 2.98px,#0e8fd1 2.98px 4.47px,#0e90d1 4.47px 5.96px,#0d91d0 5.96px 7.45px,#0d92d0 7.45px 8.94px,#0d93cf 8.94px 10.43px,#0c94cf 10.43px 11.92px,#0c95cf 11.92px 13.41px,#0b96ce 13.41px 14.90px,#0b97ce 14.90px 16.39px,#0b98ce 16.39px 17.88px,#0a99cd 17.88px 19.37px,#0a9acd 19.37px 20.86px,#099bcd 20.86px 22.35px,#099ccc 22.35px 23.84px,#099dcc 23.84px 25.33px,#089ecc 25.33px 26.82px,#089fcb 26.82px 28.31px,#07a0cb 28.31px 29.80px,#07a1cb 29.80px 31.29px,#07a2ca 31.29px 32.78px,#06a3ca 32.78px 34.28px,#06a4ca 34.28px 35.77px,#07a4c8 35.77px 37.26px,#09a5c7 37.26px 38.75px,#0aa6c6 38.75px 40.24px,#0ba6c5 40.24px 41.73px,#0da7c3 41.73px 43.22px,#0ea8c2 43.22px 44.71px,#10a8c1 44.71px 46.20px,#11a9bf 46.20px 47.69px,#12aabe 47.69px 49.18px,#14aabd 49.18px 50.67px,#15abbb 50.67px 52.16px,#16acba 52.16px 53.65px,#18acb9 53.65px 55.14px,#19adb8 55.14px 56.63px,#1baeb6 56.63px 58.12px,#1caeb5 58.12px 59.61px,#1dafb4 59.61px 61.10px,#1fb0b2 61.10px 62.59px,#20b0b1 62.59px 64.08px,#21b1b0 64.08px 65.57px,#23b2ae 65.57px 67.06px,#24b2ad 67.06px 68.55px,#25b3ac 68.55px 70.04px,#27b4ab 70.04px 71.53px,#29b5a9 71.53px 73.02px,#2bb6a6 73.02px 74.51px,#2eb7a4 74.51px 76.00px,#33b8a1 76.00px 77.49px,#39b89e 77.49px 78.98px,#3fb99b 78.98px 80.47px,#44b999 80.47px 81.96px,#4aba96 81.96px 83.45px,#50ba93 83.45px 84.94px,#55bb90 84.94px 86.43px,#5bbb8d 86.43px 87.92px,#60bc8a 87.92px 89.41px,#66bc88 89.41px 90.90px,#6dbd84 90.90px 92.39px,#74bd80 92.39px 93.88px,#7cbe7d 93.88px 95.37px,#83bf79 95.37px 96.86px,#8abf76 96.86px 98.35px,#90bf73 98.35px 99.84px,#96be71 99.84px 101.33px,#9cbe6f 101.33px 102.82px,#a2be6c 102.82px 104.32px,#a8bd6a 104.32px 105.81px,#aebd67 105.81px 107.30px,#b4bd65 107.30px 108.79px,#babc62 108.79px 110.28px,#c0bc60 110.28px 111.77px,#c7bb5d 111.77px 113.26px,#cebb5a 113.26px 114.75px,#d3bc57 114.75px 116.24px,#d7bd54 116.24px 117.73px,#dbbe50 117.73px 119.22px,#e0bf4c 119.22px 120.71px,#e4c149 120.71px 122.20px,#e8c245 122.20px 123.69px,#ecc341 123.69px 125.18px,#f1c43e 125.18px 126.67px,#f5c63a 126.67px 128.16px,#f6c639 128.16px 129.65px,#f6c639 129.65px 131.14px,#f7c638 131.14px 132.63px,#f8c738 132.63px 134.12px,#f8c737 134.12px 135.61px,#f8c737 135.61px 137.10px,#1272d9 137.10px 138.00px,transparent 138.00px 151.70px,#1272d9 151.70px 153.40px,#5cbb8d 153.40px 155.40px,#f5c63a 155.40px 156.87px,#f5c63a 156.87px 158.34px,#f5c63a 158.34px 159.81px,#f5c63a 159.81px 161.28px,#f4c53b 161.28px 162.75px,#f2c53c 162.75px 164.22px,#f1c53d 164.22px 165.69px,#f0c43e 165.69px 167.16px,#efc43f 167.16px 168.63px,#eec440 168.63px 170.09px,#ecc341 170.09px 171.56px,#e9c244 171.56px 173.03px,#e5c148 173.03px 174.50px,#e2c04b 174.50px 175.97px,#debf4e 175.97px 177.44px,#dabe51 177.44px 178.91px,#d7bd54 178.91px 180.38px,#d3bc57 180.38px 181.85px,#cebb5a 181.85px 183.32px,#c9bb5d 183.32px 184.79px,#c3bc5f 184.79px 186.26px,#bdbc61 186.26px 187.73px,#b7bc64 187.73px 189.20px,#b1bd66 189.20px 190.67px,#abbd69 190.67px 192.14px,#a4bd6b 192.14px 193.61px,#9dbe6e 193.61px 195.08px,#96be71 195.08px 196.55px,#8fbf74 196.55px 198.01px,#89bf76 198.01px 199.48px,#81be7a 199.48px 200.95px,#78be7e 200.95px 202.42px,#70bd82 202.42px 203.89px,#68bc87 203.89px 205.36px,#60bc8b 205.36px 206.83px,#57bb8f 206.83px 208.30px,#4fba93 208.30px 209.77px,#47b997 209.77px 211.24px,#41b99a 211.24px 212.71px,#3cb89d 212.71px 214.18px,#37b89f 214.18px 215.65px,#32b7a2 215.65px 217.12px,#2db7a4 217.12px 218.59px,#2bb6a7 218.59px 220.06px,#29b5a9 220.06px 221.53px,#27b4ab 221.53px 223.00px,#24b2ad 223.00px 224.47px,#24b2ae 224.47px 225.93px,#23b2ae 225.93px 227.40px,#22b1af 227.40px 228.87px,#22b1b0 228.87px 230.34px,#21b1b0 230.34px 231.81px,#20b0b1 231.81px 233.28px,#1fb0b2 233.28px 234.75px,#1fb0b2 234.75px 236.22px,#1eafb3 236.22px 237.69px,#1dafb4 237.69px 239.16px,#1dafb4 239.16px 240.63px,#1caeb5 240.63px 242.10px,#1baeb6 242.10px 243.57px,#1aaeb6 243.57px 245.04px,#1aadb7 245.04px 246.51px,#19adb8 246.51px 247.98px,#18adb8 247.98px 249.45px,#18acb9 249.45px 250.92px,#17acba 250.92px 252.39px,#16acba 252.39px 253.85px,#15abbb 253.85px 255.32px,#15abbc 255.32px 256.79px,#14aabc 256.79px 258.26px,#13aabd 258.26px 259.73px,#13aabe 259.73px 261.20px,#12aabe 261.20px 262.67px,#11a9bf 262.67px 264.14px,#11a9c0 264.14px 265.61px,#10a9c0 265.61px 267.08px,#0fa8c1 267.08px 268.55px,#0fa8c2 268.55px 270.02px,#0ea8c2 270.02px 271.49px,#0da7c3 271.49px 272.96px,#0da7c4 272.96px 274.43px,#0ca7c4 274.43px 275.90px,#0ba6c5 275.90px 277.37px,#0aa6c5 277.37px 278.84px,#0aa6c6 278.84px 280.31px,#09a5c7 280.31px 281.77px,#08a5c7 281.77px 283.24px,#08a5c8 283.24px 284.71px,#07a4c9 284.71px 286.18px,#06a4c9 286.18px 287.65px,#06a4ca 287.65px 289.12px,#06a3ca 289.12px 290.59px,#06a2ca 290.59px 292.06px,#06a2ca 292.06px 293.53px,#06a2ca 293.53px 295.00px)"></div>
<div class="r" style="top:141.46px;height:8.73px;background:linear-gradient(90deg,#08a4c8 0.00px 1.49px,#08a4c8 1.49px 2.98px,#08a5c8 2.98px 4.47px,#08a5c7 4.47px 5.96px,#09a5c7 5.96px 7.45px,#09a5c6 7.45px 8.94px,#0aa6c6 8.94px 10.43px,#0ba6c5 10.43px 11.92px,#0ba6c5 11.92px 13.41px,#0ca7c4 13.41px 14.90px,#0ca7c4 14.90px 16.39px,#0da7c3 16.39px 17.88px,#0da7c3 17.88px 19.37px,#0ea8c2 19.37px 20.86px,#0fa8c2 20.86px 22.35px,#0fa8c1 22.35px 23.84px,#10a8c1 23.84px 25.33px,#10a9c0 25.33px 26.82px,#11a9bf 26.82px 28.31px,#11a9bf 28.31px 29.80px,#12aabe 29.80px 31.29px,#13aabe 31.29px 32.78px,#13aabd 32.78px 34.28px,#14aabd 34.28px 35.77px,#14abbc 35.77px 37.26px,#16acba 37.26px 38.75px,#19adb8 38.75px 40.24px,#1baeb6 40.24px 41.73px,#1dafb4 41.73px 43.22px,#20b0b1 43.22px 44.71px,#22b1af 44.71px 46.20px,#24b2ad 46.20px 47.69px,#27b4ab 47.69px 49.18px,#29b5a9 49.18px 50.67px,#2bb6a6 50.67px 52.16px,#2eb7a4 52.16px 53.65px,#32b7a2 53.65px 55.14px,#38b89f 55.14px 56.63px,#3db89c 56.63px 58.12px,#42b99a 58.12px 59.61px,#47b997 59.61px 61.10px,#4cba94 61.10px 62.59px,#52ba92 62.59px 64.08px,#57bb8f 64.08px 65.57px,#5cbb8d 65.57px 67.06px,#61bc8a 67.06px 68.55px,#66bc87 68.55px 70.04px,#6cbd85 70.04px 71.53px,#71bd82 71.53px 73.02px,#78be7f 73.02px 74.51px,#7ebe7c 74.51px 76.00px,#84bf79 76.00px 77.49px,#8abf76 77.49px 78.98px,#8fbf74 78.98px 80.47px,#94be72 80.47px 81.96px,#99be70 81.96px 83.45px,#9ebe6e 83.45px 84.94px,#a3bd6c 84.94px 86.43px,#a8bd6a 86.43px 87.92px,#adbd67 87.92px 89.41px,#b2bd65 89.41px 90.90px,#b8bc63 90.90px 92.39px,#bdbc61 92.39px 93.88px,#c2bc5f 93.88px 95.37px,#c7bb5d 95.37px 96.86px,#ccbb5b 96.86px 98.35px,#d1bb59 98.35px 99.84px,#d4bc56 99.84px 101.33px,#d7bd53 101.33px 102.82px,#dbbe51 102.82px 104.32px,#debf4e 104.32px 105.81px,#e1c04b 105.81px 107.30px,#e4c149 107.30px 108.79px,#e7c246 108.79px 110.28px,#eac343 110.28px 111.77px,#edc341 111.77px 113.26px,#f0c43f 113.26px 114.75px,#f2c53c 114.75px 116.24px,#f5c63a 116.24px 117.73px,#f7c638 117.73px 119.22px,#fac736 119.22px 120.71px,#fdc833 120.71px 122.20px,#feca31 122.20px 123.69px,#fdcd2f 123.69px 125.18px,#fdd02d 125.18px 126.67px,#fdd32b 126.67px 128.16px,#fdd12c 128.16px 129.65px,#fdcf2d 129.65px 131.14px,#fdce2e 131.14px 132.63px,#fdcc2f 132.63px 134.12px,#fecb30 134.12px 135.61px,#feca31 135.61px 137.10px,#1066db 137.10px 138.00px,transparent 138.00px 151.70px,#1272d9 151.70px 153.40px,#70bd82 153.40px 155.40px,#fcc834 155.40px 156.87px,#fcc834 156.87px 158.34px,#fcc834 158.34px 159.81px,#fcc834 159.81px 161.28px,#fdc833 161.28px 162.75px,#fdc833 162.75px 164.22px,#fec832 164.22px 165.69px,#fec932 165.69px 167.16px,#feca31 167.16px 168.63px,#feca31 168.63px 170.09px,#feca31 170.09px 171.56px,#fcc834 171.56px 173.03px,#fac736 173.03px 174.50px,#f7c638 174.50px 175.97px,#f4c63a 175.97px 177.44px,#f2c53d 177.44px 178.91px,#efc43f 178.91px 180.38px,#edc341 180.38px 181.85px,#eac343 181.85px 183.32px,#e7c246 183.32px 184.79px,#e5c148 184.79px 186.26px,#e2c04a 186.26px 187.73px,#e0bf4c 187.73px 189.20px,#ddbf4f 189.20px 190.67px,#dabe51 190.67px 192.14px,#d6bc55 192.14px 193.61px,#d1bb59 193.61px 195.08px,#cbbb5b 195.08px 196.55px,#c4bc5e 196.55px 198.01px,#bebc61 198.01px 199.48px,#b7bc64 199.48px 200.95px,#b0bd66 200.95px 202.42px,#a9bd69 202.42px 203.89px,#a2bd6c 203.89px 205.36px,#9cbe6f 205.36px 206.83px,#95be71 206.83px 208.30px,#8ebf74 208.30px 209.77px,#87bf77 209.77px 211.24px,#80be7b 211.24px 212.71px,#79be7e 212.71px 214.18px,#72bd82 214.18px 215.65px,#6abc85 215.65px 217.12px,#63bc89 217.12px 218.59px,#5cbb8c 218.59px 220.06px,#55bb90 220.06px 221.53px,#4eba94 221.53px 223.00px,#47b997 223.00px 224.47px,#45b998 224.47px 225.93px,#43b999 225.93px 227.40px,#41b99a 227.40px 228.87px,#3fb99b 228.87px 230.34px,#3db89c 230.34px 231.81px,#3bb89d 231.81px 233.28px,#39b89e 233.28px 234.75px,#37b8a0 234.75px 236.22px,#34b8a1 236.22px 237.69px,#32b7a2 237.69px 239.16px,#30b7a3 239.16px 240.63px,#2eb7a4 240.63px 242.10px,#2db7a5 242.10px 243.57px,#2cb6a5 243.57px 245.04px,#2bb6a6 245.04px 246.51px,#2ab5a7 246.51px 247.98px,#29b5a8 247.98px 249.45px,#29b4a9 249.45px 250.92px,#28b4aa 250.92px 252.39px,#27b4ab 252.39px 253.85px,#26b3ac 253.85px 255.32px,#25b3ad 255.32px 256.79px,#24b2ad 256.79px 258.26px,#23b2ae 258.26px 259.73px,#22b1af 259.73px 261.20px,#21b1b0 261.20px 262.67px,#21b1b0 262.67px 264.14px,#20b0b1 264.14px 265.61px,#1fb0b2 265.61px 267.08px,#1eafb3 267.08px 268.55px,#1dafb4 268.55px 270.02px,#1dafb4 270.02px 271.49px,#1caeb5 271.49px 272.96px,#1baeb6 272.96px 274.43px,#1aadb7 274.43px 275.90px,#19adb7 275.90px 277.37px,#19adb8 277.37px 278.84px,#18acb9 278.84px 280.31px,#17acba 280.31px 281.77px,#16acba 281.77px 283.24px,#15abbb 283.24px 284.71px,#14abbc 284.71px 286.18px,#14aabd 286.18px 287.65px,#13aabe 287.65px 289.12px,#12aabe 289.12px 290.59px,#11a9bf 290.59px 292.06px,#11a9bf 292.06px 293.53px,#11a9bf 293.53px 295.00px)"></div>
<div class="r" style="top:150.14px;height:8.73px;background:linear-gradient(90deg,#14abbc 0.00px 1.49px,#14abbc 1.49px 2.98px,#15abbc 2.98px 4.47px,#16abbb 4.47px 5.96px,#16acba 5.96px 7.45px,#17acb9 7.45px 8.94px,#18acb9 8.94px 10.43px,#19adb8 10.43px 11.92px,#1aadb7 11.92px 13.41px,#1baeb6 13.41px 14.90px,#1caeb5 14.90px 16.39px,#1cafb4 16.39px 17.88px,#1dafb4 17.88px 19.37px,#1eafb3 19.37px 20.86px,#1fb0b2 20.86px 22.35px,#20b0b1 22.35px 23.84px,#21b1b0 23.84px 25.33px,#21b1b0 25.33px 26.82px,#22b1af 26.82px 28.31px,#23b2ae 28.31px 29.80px,#24b2ad 29.80px 31.29px,#25b3ac 31.29px 32.78px,#26b3ac 32.78px 34.28px,#27b3ab 34.28px 35.77px,#27b4aa 35.77px 37.26px,#2ab5a7 37.26px 38.75px,#2eb7a4 38.75px 40.24px,#35b8a0 40.24px 41.73px,#3cb89d 41.73px 43.22px,#43b999 43.22px 44.71px,#4bba95 44.71px 46.20px,#52ba92 46.20px 47.69px,#59bb8e 47.69px 49.18px,#61bc8a 49.18px 50.67px,#68bc87 50.67px 52.16px,#6fbd83 52.16px 53.65px,#77be7f 53.65px 55.14px,#7ebe7c 55.14px 56.63px,#85bf78 56.63px 58.12px,#8cbf75 58.12px 59.61px,#92be73 59.61px 61.10px,#98be70 61.10px 62.59px,#9ebe6e 62.59px 64.08px,#a4bd6b 64.08px 65.57px,#aabd69 65.57px 67.06px,#b0bd66 67.06px 68.55px,#b6bc64 68.55px 70.04px,#bcbc62 70.04px 71.53px,#c2bc5f 71.53px 73.02px,#c7bb5d 73.02px 74.51px,#cdbb5b 74.51px 76.00px,#d2bb58 76.00px 77.49px,#d5bc55 77.49px 78.98px,#d9bd52 78.98px 80.47px,#dcbe4f 80.47px 81.96px,#e0bf4c 81.96px 83.45px,#e3c049 83.45px 84.94px,#e6c146 84.94px 86.43px,#eac244 86.43px 87.92px,#edc341 87.92px 89.41px,#f1c43e 89.41px 90.90px,#f3c53c 90.90px 92.39px,#f4c63b 92.39px 93.88px,#f6c639 93.88px 95.37px,#f7c638 95.37px 96.86px,#f9c737 96.86px 98.35px,#fac735 98.35px 99.84px,#fcc834 99.84px 101.33px,#fec832 101.33px 102.82px,#feca31 102.82px 104.32px,#fecc30 104.32px 105.81px,#fdcd2f 105.81px 107.30px,#fdcf2d 107.30px 108.79px,#fdd12c 108.79px 110.28px,#fdd32b 110.28px 111.77px,#fdd529 111.77px 113.26px,#fdd628 113.26px 114.75px,#fcd827 114.75px 116.24px,#fcda26 116.24px 117.73px,#fcdc24 117.73px 119.22px,#fcde23 119.22px 120.71px,#fcdf22 120.71px 122.20px,#fbe120 122.20px 123.69px,#fbe31f 123.69px 125.18px,#fbe51e 125.18px 126.67px,#fbe71c 126.67px 128.16px,#fbe31f 128.16px 129.65px,#fcdf22 129.65px 131.14px,#fcdb25 131.14px 132.63px,#fcd727 132.63px 134.12px,#fdd42a 134.12px 135.61px,#fdd32b 135.61px 137.10px,#0e8fd1 137.10px 138.00px,transparent 138.00px 151.70px,#1066db 151.70px 153.40px,#7ebe7b 153.40px 155.40px,#feca31 155.40px 156.87px,#feca31 156.87px 158.34px,#feca31 158.34px 159.81px,#fecb30 159.81px 161.28px,#fdcd2f 161.28px 162.75px,#fdd02d 162.75px 164.22px,#fdd22b 164.22px 165.69px,#fdd42a 165.69px 167.16px,#fcd728 167.16px 168.63px,#fcd926 168.63px 170.09px,#fcda26 170.09px 171.56px,#fcd827 171.56px 173.03px,#fdd628 173.03px 174.50px,#fdd42a 174.50px 175.97px,#fdd22b 175.97px 177.44px,#fdd02d 177.44px 178.91px,#fdce2e 178.91px 180.38px,#fecc30 180.38px 181.85px,#feca31 181.85px 183.32px,#fdc833 183.32px 184.79px,#fbc834 184.79px 186.26px,#fac736 186.26px 187.73px,#f8c738 187.73px 189.20px,#f6c639 189.20px 190.67px,#f3c53b 190.67px 192.14px,#f0c43e 192.14px 193.61px,#edc341 193.61px 195.08px,#e9c244 195.08px 196.55px,#e6c147 196.55px 198.01px,#e2c04a 198.01px 199.48px,#dfbf4d 199.48px 200.95px,#dcbe50 200.95px 202.42px,#d8bd53 202.42px 203.89px,#d5bc56 203.89px 205.36px,#d2bb59 205.36px 206.83px,#cdbb5b 206.83px 208.30px,#c7bb5d 208.30px 209.77px,#c1bc5f 209.77px 211.24px,#bcbc62 211.24px 212.71px,#b6bc64 212.71px 214.18px,#b0bd66 214.18px 215.65px,#aabd69 215.65px 217.12px,#a5bd6b 217.12px 218.59px,#9fbe6d 218.59px 220.06px,#99be70 220.06px 221.53px,#93be72 221.53px 223.00px,#8dbf74 223.00px 224.47px,#8bbf75 224.47px 225.93px,#89bf76 225.93px 227.40px,#86bf77 227.40px 228.87px,#84bf79 228.87px 230.34px,#81be7a 230.34px 231.81px,#7ebe7b 231.81px 233.28px,#7cbe7d 233.28px 234.75px,#79be7e 234.75px 236.22px,#76be7f 236.22px 237.69px,#73bd81 237.69px 239.16px,#71bd82 239.16px 240.63px,#6ebd84 240.63px 242.10px,#6bbd85 242.10px 243.57px,#69bc86 243.57px 245.04px,#66bc88 245.04px 246.51px,#63bc89 246.51px 247.98px,#61bc8a 247.98px 249.45px,#5ebb8c 249.45px 250.92px,#5bbb8d 250.92px 252.39px,#58bb8e 252.39px 253.85px,#56bb90 253.85px 255.32px,#53ba91 255.32px 256.79px,#50ba93 256.79px 258.26px,#4dba94 258.26px 259.73px,#4aba96 259.73px 261.20px,#47b997 261.20px 262.67px,#44b999 262.67px 264.14px,#41b99a 264.14px 265.61px,#3eb89c 265.61px 267.08px,#3bb89d 267.08px 268.55px,#38b89f 268.55px 270.02px,#35b8a0 270.02px 271.49px,#32b7a2 271.49px 272.96px,#2fb7a3 272.96px 274.43px,#2db7a5 274.43px 275.90px,#2cb6a6 275.90px 277.37px,#2ab5a7 277.37px 278.84px,#29b5a9 278.84px 280.31px,#28b4aa 280.31px 281.77px,#26b3ab 281.77px 283.24px,#25b3ac 283.24px 284.71px,#24b2ae 284.71px 286.18px,#22b1af 286.18px 287.65px,#21b1b0 287.65px 289.12px,#1fb0b2 289.12px 290.59px,#1eafb3 290.59px 292.06px,#1eafb3 292.06px 293.53px,#1eafb3 293.53px 295.00px)"></div>
<div class="r" style="top:158.81px;height:8.73px;background:linear-gradient(90deg,#28b4aa 0.00px 1.49px,#28b4aa 1.49px 2.98px,#28b4a9 2.98px 4.47px,#29b5a9 4.47px 5.96px,#2ab5a8 5.96px 7.45px,#2bb6a7 7.45px 8.94px,#2cb6a6 8.94px 10.43px,#2db7a5 10.43px 11.92px,#2eb7a4 11.92px 13.41px,#30b7a3 13.41px 14.90px,#32b7a2 14.90px 16.39px,#35b8a0 16.39px 17.88px,#37b89f 17.88px 19.37px,#39b89e 19.37px 20.86px,#3bb89d 20.86px 22.35px,#3db89c 22.35px 23.84px,#40b99b 23.84px 25.33px,#42b99a 25.33px 26.82px,#44b999 26.82px 28.31px,#46b998 28.31px 29.80px,#48b996 29.80px 31.29px,#4bba95 31.29px 32.78px,#4dba94 32.78px 34.28px,#4fba93 34.28px 35.77px,#51ba92 35.77px 37.26px,#58bb8f 37.26px 38.75px,#5fbb8b 38.75px 40.24px,#66bc88 40.24px 41.73px,#6dbd84 41.73px 43.22px,#74bd81 43.22px 44.71px,#7bbe7d 44.71px 46.20px,#82bf7a 46.20px 47.69px,#89bf76 47.69px 49.18px,#8ebf74 49.18px 50.67px,#94be72 50.67px 52.16px,#9abe6f 52.16px 53.65px,#a0be6d 53.65px 55.14px,#a6bd6b 55.14px 56.63px,#abbd68 56.63px 58.12px,#b1bd66 58.12px 59.61px,#b7bc64 59.61px 61.10px,#bdbc61 61.10px 62.59px,#c3bc5f 62.59px 64.08px,#c8bb5d 64.08px 65.57px,#cebb5a 65.57px 67.06px,#d3bb58 67.06px 68.55px,#d6bd54 68.55px 70.04px,#dabe51 70.04px 71.53px,#ddbe4f 71.53px 73.02px,#dfbf4d 73.02px 74.51px,#e1c04b 74.51px 76.00px,#e4c149 76.00px 77.49px,#e6c147 77.49px 78.98px,#e8c245 78.98px 80.47px,#eac343 80.47px 81.96px,#edc341 81.96px 83.45px,#efc43f 83.45px 84.94px,#f1c53d 84.94px 86.43px,#f4c53b 86.43px 87.92px,#f6c639 87.92px 89.41px,#f8c737 89.41px 90.90px,#fac736 90.90px 92.39px,#fbc834 92.39px 93.88px,#fdc833 93.88px 95.37px,#fec932 95.37px 96.86px,#fecb30 96.86px 98.35px,#fdcd2f 98.35px 99.84px,#fdce2e 99.84px 101.33px,#fdd02d 101.33px 102.82px,#fdd22b 102.82px 104.32px,#fdd42a 104.32px 105.81px,#fdd529 105.81px 107.30px,#fcd727 107.30px 108.79px,#fcd926 108.79px 110.28px,#fcdb25 110.28px 111.77px,#fcdd24 111.77px 113.26px,#fcde22 113.26px 114.75px,#fce021 114.75px 116.24px,#fbe220 116.24px 117.73px,#fbe41e 117.73px 119.22px,#fbe61d 119.22px 120.71px,#fbe71c 120.71px 122.20px,#fbe91a 122.20px 123.69px,#fbeb19 123.69px 125.18px,#faed18 125.18px 126.67px,#faef16 126.67px 128.16px,#faec19 128.16px 129.65px,#fbe91b 129.65px 131.14px,#fbe61d 131.14px 132.63px,#fbe31f 132.63px 134.12px,#fce021 134.12px 135.61px,#fcdf22 135.61px 137.10px,#1752cc 137.10px 138.00px,transparent 138.00px 151.70px,#1272d9 151.70px 153.40px,#84bf79 153.40px 155.40px,#feca31 155.40px 156.87px,#feca31 156.87px 158.34px,#feca31 158.34px 159.81px,#fecc30 159.81px 161.28px,#fdd02d 161.28px 162.75px,#fdd42a 162.75px 164.22px,#fcd827 164.22px 165.69px,#fcdc24 165.69px 167.16px,#fce021 167.16px 168.63px,#fbe41e 168.63px 170.09px,#fbe61d 170.09px 171.56px,#fbe41e 171.56px 173.03px,#fbe220 173.03px 174.50px,#fce021 174.50px 175.97px,#fcde23 175.97px 177.44px,#fcdc24 177.44px 178.91px,#fcda26 178.91px 180.38px,#fcd827 180.38px 181.85px,#fdd629 181.85px 183.32px,#fdd42a 183.32px 184.79px,#fdd22b 184.79px 186.26px,#fdd02d 186.26px 187.73px,#fdce2e 187.73px 189.20px,#fecc30 189.20px 190.67px,#fec932 190.67px 192.14px,#fcc834 192.14px 193.61px,#f9c736 193.61px 195.08px,#f7c638 195.08px 196.55px,#f4c63b 196.55px 198.01px,#f2c53d 198.01px 199.48px,#efc43f 199.48px 200.95px,#ecc341 200.95px 202.42px,#eac244 202.42px 203.89px,#e7c246 203.89px 205.36px,#e5c148 205.36px 206.83px,#e2c04a 206.83px 208.30px,#dfbf4d 208.30px 209.77px,#ddbe4f 209.77px 211.24px,#dabe51 211.24px 212.71px,#d7bd54 212.71px 214.18px,#d4bc56 214.18px 215.65px,#d1bb59 215.65px 217.12px,#cdbb5b 217.12px 218.59px,#c8bb5d 218.59px 220.06px,#c3bc5f 220.06px 221.53px,#bebc61 221.53px 223.00px,#b9bc63 223.00px 224.47px,#b6bc64 224.47px 225.93px,#b4bd65 225.93px 227.40px,#b1bd66 227.40px 228.87px,#aebd67 228.87px 230.34px,#abbd68 230.34px 231.81px,#a8bd6a 231.81px 233.28px,#a5bd6b 233.28px 234.75px,#a2be6c 234.75px 236.22px,#9fbe6d 236.22px 237.69px,#9dbe6e 237.69px 239.16px,#9abe6f 239.16px 240.63px,#97be71 240.63px 242.10px,#94be72 242.10px 243.57px,#91be73 243.57px 245.04px,#8ebf74 245.04px 246.51px,#8bbf75 246.51px 247.98px,#88bf76 247.98px 249.45px,#85bf78 249.45px 250.92px,#82bf7a 250.92px 252.39px,#7ebe7b 252.39px 253.85px,#7bbe7d 253.85px 255.32px,#77be7f 255.32px 256.79px,#74bd81 256.79px 258.26px,#71bd82 258.26px 259.73px,#6ebd84 259.73px 261.20px,#6bbc85 261.20px 262.67px,#68bc87 262.67px 264.14px,#65bc88 264.14px 265.61px,#62bc8a 265.61px 267.08px,#5fbb8b 267.08px 268.55px,#5cbb8d 268.55px 270.02px,#59bb8e 270.02px 271.49px,#56bb90 271.49px 272.96px,#53ba91 272.96px 274.43px,#50ba93 274.43px 275.90px,#4dba94 275.90px 277.37px,#4aba96 277.37px 278.84px,#46b997 278.84px 280.31px,#43b999 280.31px 281.77px,#40b99b 281.77px 283.24px,#3db89c 283.24px 284.71px,#3ab89e 284.71px 286.18px,#37b89f 286.18px 287.65px,#34b8a1 287.65px 289.12px,#31b7a2 289.12px 290.59px,#2eb7a4 290.59px 292.06px,#2eb7a4 292.06px 293.53px,#2eb7a4 293.53px 295.00px)"></div>
<div class="r" style="top:167.49px;height:8.73px;background:linear-gradient(90deg,#2eb7a4 0.00px 1.49px,#2eb7a4 1.49px 2.98px,#30b7a3 2.98px 4.47px,#33b7a1 4.47px 5.96px,#36b8a0 5.96px 7.45px,#39b89e 7.45px 8.94px,#3cb89d 8.94px 10.43px,#3fb99b 10.43px 11.92px,#42b99a 11.92px 13.41px,#46b998 13.41px 14.90px,#49b996 14.90px 16.39px,#4cba95 16.39px 17.88px,#4fba93 17.88px 19.37px,#52ba92 19.37px 20.86px,#55bb90 20.86px 22.35px,#59bb8e 22.35px 23.84px,#5cbb8d 23.84px 25.33px,#5fbb8b 25.33px 26.82px,#62bc8a 26.82px 28.31px,#65bc88 28.31px 29.80px,#68bc86 29.80px 31.29px,#6bbd85 31.29px 32.78px,#6fbd83 32.78px 34.28px,#72bd82 34.28px 35.77px,#75bd80 35.77px 37.26px,#7bbe7d 37.26px 38.75px,#81be7a 38.75px 40.24px,#87bf77 40.24px 41.73px,#8cbf75 41.73px 43.22px,#91be73 43.22px 44.71px,#96be71 44.71px 46.20px,#9bbe6f 46.20px 47.69px,#a0be6d 47.69px 49.18px,#a5bd6b 49.18px 50.67px,#aabd69 50.67px 52.16px,#afbd67 52.16px 53.65px,#b4bc65 53.65px 55.14px,#b9bc63 55.14px 56.63px,#bebc61 56.63px 58.12px,#c3bc5f 58.12px 59.61px,#c8bb5d 59.61px 61.10px,#cdbb5b 61.10px 62.59px,#d2bb58 62.59px 64.08px,#d5bc56 64.08px 65.57px,#d8bd53 65.57px 67.06px,#dbbe50 67.06px 68.55px,#debf4e 68.55px 70.04px,#e1c04b 70.04px 71.53px,#e4c149 71.53px 73.02px,#e6c147 73.02px 74.51px,#e9c245 74.51px 76.00px,#ebc343 76.00px 77.49px,#edc341 77.49px 78.98px,#efc43f 78.98px 80.47px,#f2c53d 80.47px 81.96px,#f4c53b 81.96px 83.45px,#f6c639 83.45px 84.94px,#f8c737 84.94px 86.43px,#fbc835 86.43px 87.92px,#fdc833 87.92px 89.41px,#feca31 89.41px 90.90px,#fecc30 90.90px 92.39px,#fdce2e 92.39px 93.88px,#fdcf2d 93.88px 95.37px,#fdd12c 95.37px 96.86px,#fdd32b 96.86px 98.35px,#fdd529 98.35px 99.84px,#fdd628 99.84px 101.33px,#fcd827 101.33px 102.82px,#fcda25 102.82px 104.32px,#fcdc24 104.32px 105.81px,#fcde23 105.81px 107.30px,#fcdf22 107.30px 108.79px,#fbe120 108.79px 110.28px,#fbe31f 110.28px 111.77px,#fbe41e 111.77px 113.26px,#fbe61d 113.26px 114.75px,#fbe71c 114.75px 116.24px,#fbe91b 116.24px 117.73px,#fbea1a 117.73px 119.22px,#faeb19 119.22px 120.71px,#faed18 120.71px 122.20px,#faee17 122.20px 123.69px,#faf016 123.69px 125.18px,#faf115 125.18px 126.67px,#faf314 126.67px 128.16px,#faf015 128.16px 129.65px,#faee17 129.65px 131.14px,#faec19 131.14px 132.63px,#fbea1a 132.63px 134.12px,#fbe71c 134.12px 135.61px,#fbe71c 135.61px 137.10px,#1066db 137.10px 138.00px,transparent 138.00px 151.70px,#147ed6 151.70px 153.40px,#84bf79 153.40px 155.40px,#feca31 155.40px 156.87px,#feca31 156.87px 158.34px,#feca31 158.34px 159.81px,#fecc30 159.81px 161.28px,#fdd12c 161.28px 162.75px,#fdd628 162.75px 164.22px,#fcdc24 164.22px 165.69px,#fce121 165.69px 167.16px,#fbe61d 167.16px 168.63px,#faeb19 168.63px 170.09px,#faee17 170.09px 171.56px,#faec18 171.56px 173.03px,#fbea1a 173.03px 174.50px,#fbe81b 174.50px 175.97px,#fbe61d 175.97px 177.44px,#fbe41e 177.44px 178.91px,#fbe220 178.91px 180.38px,#fce021 180.38px 181.85px,#fcde23 181.85px 183.32px,#fcdc24 183.32px 184.79px,#fcda26 184.79px 186.26px,#fcd827 186.26px 187.73px,#fdd629 187.73px 189.20px,#fdd42a 189.20px 190.67px,#fdd22c 190.67px 192.14px,#fdcf2d 192.14px 193.61px,#fdcd2f 193.61px 195.08px,#fecb31 195.08px 196.55px,#fec832 196.55px 198.01px,#fcc834 198.01px 199.48px,#fac736 199.48px 200.95px,#f7c738 200.95px 202.42px,#f5c63a 202.42px 203.89px,#f3c53b 203.89px 205.36px,#f1c53d 205.36px 206.83px,#efc43f 206.83px 208.30px,#edc341 208.30px 209.77px,#ebc343 209.77px 211.24px,#e9c244 211.24px 212.71px,#e7c246 212.71px 214.18px,#e5c148 214.18px 215.65px,#e3c049 215.65px 217.12px,#e1c04b 217.12px 218.59px,#e0bf4c 218.59px 220.06px,#debf4e 220.06px 221.53px,#dcbe50 221.53px 223.00px,#dabe51 223.00px 224.47px,#d8bd53 224.47px 225.93px,#d6bc55 225.93px 227.40px,#d4bc56 227.40px 228.87px,#d2bb58 228.87px 230.34px,#d1bb59 230.34px 231.81px,#cebb5b 231.81px 233.28px,#cabb5c 233.28px 234.75px,#c7bb5d 234.75px 236.22px,#c4bc5e 236.22px 237.69px,#c1bc5f 237.69px 239.16px,#bebc61 239.16px 240.63px,#bbbc62 240.63px 242.10px,#b8bc63 242.10px 243.57px,#b5bc64 243.57px 245.04px,#b2bd65 245.04px 246.51px,#afbd67 246.51px 247.98px,#acbd68 247.98px 249.45px,#a9bd69 249.45px 250.92px,#a6bd6a 250.92px 252.39px,#a3bd6c 252.39px 253.85px,#a0be6d 253.85px 255.32px,#9dbe6e 255.32px 256.79px,#9abe6f 256.79px 258.26px,#98be70 258.26px 259.73px,#95be71 259.73px 261.20px,#92be72 261.20px 262.67px,#8fbf74 262.67px 264.14px,#8dbf75 264.14px 265.61px,#8abf76 265.61px 267.08px,#87bf77 267.08px 268.55px,#84bf79 268.55px 270.02px,#81be7a 270.02px 271.49px,#7dbe7c 271.49px 272.96px,#7abe7e 272.96px 274.43px,#77be7f 274.43px 275.90px,#73bd81 275.90px 277.37px,#70bd83 277.37px 278.84px,#6dbd84 278.84px 280.31px,#69bc86 280.31px 281.77px,#66bc88 281.77px 283.24px,#63bc89 283.24px 284.71px,#5fbb8b 284.71px 286.18px,#5cbb8d 286.18px 287.65px,#59bb8e 287.65px 289.12px,#55bb90 289.12px 290.59px,#52ba92 290.59px 292.06px,#52ba92 292.06px 293.53px,#52ba92 293.53px 295.00px)"></div>
<div class="r" style="top:176.16px;height:8.73px;background:linear-gradient(90deg,#1eafb3 0.00px 1.49px,#1eafb3 1.49px 2.98px,#1eb0b3 2.98px 4.47px,#1fb0b2 4.47px 5.96px,#20b0b1 5.96px 7.45px,#21b1b0 7.45px 8.94px,#22b1af 8.94px 10.43px,#23b2ae 10.43px 11.92px,#24b2ad 11.92px 13.41px,#25b3ac 13.41px 14.90px,#26b3ab 14.90px 16.39px,#27b4aa 16.39px 17.88px,#28b4a9 17.88px 19.37px,#29b5a8 19.37px 20.86px,#2ab5a7 20.86px 22.35px,#2bb6a6 22.35px 23.84px,#2cb6a5 23.84px 25.33px,#2db7a4 25.33px 26.82px,#2fb7a3 26.82px 28.31px,#31b7a2 28.31px 29.80px,#33b7a1 29.80px 31.29px,#35b8a0 31.29px 32.78px,#37b89f 32.78px 34.28px,#3ab89e 34.28px 35.77px,#3cb89d 35.77px 37.26px,#43b999 37.26px 38.75px,#4bba95 38.75px 40.24px,#53ba91 40.24px 41.73px,#5bbb8d 41.73px 43.22px,#63bc89 43.22px 44.71px,#6bbc85 44.71px 46.20px,#73bd81 46.20px 47.69px,#7bbe7d 47.69px 49.18px,#83bf79 49.18px 50.67px,#8abf76 50.67px 52.16px,#91bf73 52.16px 53.65px,#97be70 53.65px 55.14px,#9ebe6e 55.14px 56.63px,#a4bd6b 56.63px 58.12px,#abbd69 58.12px 59.61px,#b1bd66 59.61px 61.10px,#b8bc63 61.10px 62.59px,#bebc61 62.59px 64.08px,#c5bc5e 64.08px 65.57px,#cbbb5b 65.57px 67.06px,#d2bb59 67.06px 68.55px,#d6bc55 68.55px 70.04px,#dabe52 70.04px 71.53px,#ddbe4f 71.53px 73.02px,#dfbf4d 73.02px 74.51px,#e1c04b 74.51px 76.00px,#e4c149 76.00px 77.49px,#e6c147 77.49px 78.98px,#e8c245 78.98px 80.47px,#eac343 80.47px 81.96px,#edc341 81.96px 83.45px,#efc43f 83.45px 84.94px,#f1c53d 84.94px 86.43px,#f4c53b 86.43px 87.92px,#f6c639 87.92px 89.41px,#f8c737 89.41px 90.90px,#fac736 90.90px 92.39px,#fcc834 92.39px 93.88px,#fec832 93.88px 95.37px,#feca31 95.37px 96.86px,#fdcc2f 96.86px 98.35px,#fdce2e 98.35px 99.84px,#fdd02c 99.84px 101.33px,#fdd32b 101.33px 102.82px,#fdd529 102.82px 104.32px,#fdd728 104.32px 105.81px,#fcd926 105.81px 107.30px,#fcdb25 107.30px 108.79px,#fcdd23 108.79px 110.28px,#fcdf22 110.28px 111.77px,#fce021 111.77px 113.26px,#fbe220 113.26px 114.75px,#fbe31f 114.75px 116.24px,#fbe51e 116.24px 117.73px,#fbe61d 117.73px 119.22px,#fbe71c 119.22px 120.71px,#fbe91b 120.71px 122.20px,#fbea1a 122.20px 123.69px,#faec19 123.69px 125.18px,#faed18 125.18px 126.67px,#faef16 126.67px 128.16px,#faed18 128.16px 129.65px,#faec19 129.65px 131.14px,#fbea1a 131.14px 132.63px,#fbe91b 132.63px 134.12px,#fbe71c 134.12px 135.61px,#fbe71c 135.61px 137.10px,#1383d5 137.10px 138.00px,transparent 138.00px 151.70px,#1272d9 151.70px 153.40px,#84bf79 153.40px 155.40px,#fdd32b 155.40px 156.87px,#fdd32b 156.87px 158.34px,#fdd32b 158.34px 159.81px,#fdd42a 159.81px 161.28px,#fcd827 161.28px 162.75px,#fcdc24 162.75px 164.22px,#fce021 164.22px 165.69px,#fbe41e 165.69px 167.16px,#fbe81b 167.16px 168.63px,#faec18 168.63px 170.09px,#faee17 170.09px 171.56px,#faec18 171.56px 173.03px,#fbea1a 173.03px 174.50px,#fbe81b 174.50px 175.97px,#fbe61d 175.97px 177.44px,#fbe41e 177.44px 178.91px,#fbe220 178.91px 180.38px,#fce021 180.38px 181.85px,#fcde23 181.85px 183.32px,#fcdc24 183.32px 184.79px,#fcda26 184.79px 186.26px,#fcd827 186.26px 187.73px,#fdd629 187.73px 189.20px,#fdd42a 189.20px 190.67px,#fdd12c 190.67px 192.14px,#fdce2e 192.14px 193.61px,#fecc30 193.61px 195.08px,#fec932 195.08px 196.55px,#fbc834 196.55px 198.01px,#f9c737 198.01px 199.48px,#f6c639 199.48px 200.95px,#f4c53b 200.95px 202.42px,#f1c53d 202.42px 203.89px,#eec440 203.89px 205.36px,#ecc342 205.36px 206.83px,#e9c244 206.83px 208.30px,#e7c146 208.30px 209.77px,#e4c149 209.77px 211.24px,#e2c04b 211.24px 212.71px,#e0bf4c 212.71px 214.18px,#ddbf4e 214.18px 215.65px,#dbbe50 215.65px 217.12px,#d9bd52 217.12px 218.59px,#d7bd54 218.59px 220.06px,#d5bc56 220.06px 221.53px,#d3bc57 221.53px 223.00px,#d1bb59 223.00px 224.47px,#cdbb5b 224.47px 225.93px,#cabb5c 225.93px 227.40px,#c6bb5e 227.40px 228.87px,#c2bc5f 228.87px 230.34px,#bfbc61 230.34px 231.81px,#bbbc62 231.81px 233.28px,#b7bc64 233.28px 234.75px,#b4bd65 234.75px 236.22px,#b0bd66 236.22px 237.69px,#acbd68 237.69px 239.16px,#a9bd69 239.16px 240.63px,#a5bd6b 240.63px 242.10px,#a1be6c 242.10px 243.57px,#9ebe6e 243.57px 245.04px,#9abe6f 245.04px 246.51px,#96be71 246.51px 247.98px,#93be72 247.98px 249.45px,#8fbf74 249.45px 250.92px,#8bbf75 250.92px 252.39px,#88bf77 252.39px 253.85px,#83bf79 253.85px 255.32px,#7fbe7b 255.32px 256.79px,#7bbe7d 256.79px 258.26px,#77be7f 258.26px 259.73px,#74bd80 259.73px 261.20px,#71bd82 261.20px 262.67px,#6ebd84 262.67px 264.14px,#6abc85 264.14px 265.61px,#67bc87 265.61px 267.08px,#64bc89 267.08px 268.55px,#60bc8b 268.55px 270.02px,#5dbb8c 270.02px 271.49px,#5abb8e 271.49px 272.96px,#56bb90 272.96px 274.43px,#53ba91 274.43px 275.90px,#50ba93 275.90px 277.37px,#4cba95 277.37px 278.84px,#49b996 278.84px 280.31px,#46b998 280.31px 281.77px,#42b99a 281.77px 283.24px,#3fb99b 283.24px 284.71px,#3cb89d 284.71px 286.18px,#38b89f 286.18px 287.65px,#35b8a0 287.65px 289.12px,#32b7a2 289.12px 290.59px,#2eb7a4 290.59px 292.06px,#2eb7a4 292.06px 293.53px,#2eb7a4 293.53px 295.00px)"></div>
<div class="r" style="top:184.84px;height:8.73px;background:linear-gradient(90deg,#0ea8c2 0.00px 1.49px,#0ea8c2 1.49px 2.98px,#0ea8c2 2.98px 4.47px,#0fa8c1 4.47px 5.96px,#10a8c1 5.96px 7.45px,#10a9c0 7.45px 8.94px,#11a9bf 8.94px 10.43px,#12a9bf 10.43px 11.92px,#13aabe 11.92px 13.41px,#13aabd 13.41px 14.90px,#14aabd 14.90px 16.39px,#15abbc 16.39px 17.88px,#15abbb 17.88px 19.37px,#16abbb 19.37px 20.86px,#17acba 20.86px 22.35px,#17acb9 22.35px 23.84px,#18adb8 23.84px 25.33px,#19adb8 25.33px 26.82px,#1aadb7 26.82px 28.31px,#1aaeb6 28.31px 29.80px,#1baeb6 29.80px 31.29px,#1caeb5 31.29px 32.78px,#1cafb4 32.78px 34.28px,#1dafb4 34.28px 35.77px,#1eafb3 35.77px 37.26px,#21b1b0 37.26px 38.75px,#25b3ad 38.75px 40.24px,#29b4a9 40.24px 41.73px,#2cb6a5 41.73px 43.22px,#32b7a2 43.22px 44.71px,#3bb89d 44.71px 46.20px,#43b999 46.20px 47.69px,#4bba95 47.69px 49.18px,#53ba91 49.18px 50.67px,#5cbb8d 50.67px 52.16px,#64bc89 52.16px 53.65px,#6cbd85 53.65px 55.14px,#74bd80 55.14px 56.63px,#7dbe7c 56.63px 58.12px,#85bf78 58.12px 59.61px,#8cbf75 59.61px 61.10px,#93be72 61.10px 62.59px,#9abe6f 62.59px 64.08px,#a0be6d 64.08px 65.57px,#a7bd6a 65.57px 67.06px,#aebd67 67.06px 68.55px,#b5bc64 68.55px 70.04px,#bcbc62 70.04px 71.53px,#c1bc5f 71.53px 73.02px,#c6bb5e 73.02px 74.51px,#cbbb5c 74.51px 76.00px,#cfbb5a 76.00px 77.49px,#d3bb57 77.49px 78.98px,#d6bc55 78.98px 80.47px,#d8bd53 80.47px 81.96px,#dbbe50 81.96px 83.45px,#debf4e 83.45px 84.94px,#e1c04b 84.94px 86.43px,#e4c149 86.43px 87.92px,#e7c146 87.92px 89.41px,#eac244 89.41px 90.90px,#ecc342 90.90px 92.39px,#eec440 92.39px 93.88px,#f0c43e 93.88px 95.37px,#f2c53c 95.37px 96.86px,#f4c63b 96.86px 98.35px,#f6c639 98.35px 99.84px,#f8c737 99.84px 101.33px,#fbc735 101.33px 102.82px,#fdc833 102.82px 104.32px,#fec932 104.32px 105.81px,#fecc30 105.81px 107.30px,#fdce2e 107.30px 108.79px,#fdd02c 108.79px 110.28px,#fdd32b 110.28px 111.77px,#fdd42a 111.77px 113.26px,#fdd529 113.26px 114.75px,#fdd628 114.75px 116.24px,#fcd728 116.24px 117.73px,#fcd827 117.73px 119.22px,#fcd926 119.22px 120.71px,#fcda25 120.71px 122.20px,#fcdb25 122.20px 123.69px,#fcdc24 123.69px 125.18px,#fcdd23 125.18px 126.67px,#fcdf22 126.67px 128.16px,#fcde23 128.16px 129.65px,#fcdd23 129.65px 131.14px,#fcdc24 131.14px 132.63px,#fcdc24 132.63px 134.12px,#fcdb25 134.12px 135.61px,#fcdb25 135.61px 137.10px,#1383d5 137.10px 138.00px,transparent 138.00px 151.70px,#1272d9 151.70px 153.40px,#84bf79 153.40px 155.40px,#fdd32b 155.40px 156.87px,#fdd32b 156.87px 158.34px,#fdd32b 158.34px 159.81px,#fdd32a 159.81px 161.28px,#fdd628 161.28px 162.75px,#fcd926 162.75px 164.22px,#fcdc24 164.22px 165.69px,#fcdf22 165.69px 167.16px,#fbe220 167.16px 168.63px,#fbe51e 168.63px 170.09px,#fbe61d 170.09px 171.56px,#fbe41f 171.56px 173.03px,#fbe120 173.03px 174.50px,#fcdf22 174.50px 175.97px,#fcdd24 175.97px 177.44px,#fcda25 177.44px 178.91px,#fcd827 178.91px 180.38px,#fdd629 180.38px 181.85px,#fdd32a 181.85px 183.32px,#fdd12c 183.32px 184.79px,#fdcf2e 184.79px 186.26px,#fdcc2f 186.26px 187.73px,#feca31 187.73px 189.20px,#fdc833 189.20px 190.67px,#fbc835 190.67px 192.14px,#f8c737 192.14px 193.61px,#f6c639 193.61px 195.08px,#f3c53b 195.08px 196.55px,#f1c43e 196.55px 198.01px,#eec440 198.01px 199.48px,#ebc342 199.48px 200.95px,#e9c244 200.95px 202.42px,#e6c147 202.42px 203.89px,#e4c149 203.89px 205.36px,#e1c04b 205.36px 206.83px,#debf4d 206.83px 208.30px,#dcbe50 208.30px 209.77px,#d9bd52 209.77px 211.24px,#d6bc55 211.24px 212.71px,#d2bb58 212.71px 214.18px,#ccbb5b 214.18px 215.65px,#c5bc5e 215.65px 217.12px,#bfbc60 217.12px 218.59px,#b8bc63 218.59px 220.06px,#b2bd66 220.06px 221.53px,#abbd68 221.53px 223.00px,#a5bd6b 223.00px 224.47px,#a1be6c 224.47px 225.93px,#9ebe6e 225.93px 227.40px,#9abe6f 227.40px 228.87px,#97be71 228.87px 230.34px,#93be72 230.34px 231.81px,#90bf74 231.81px 233.28px,#8cbf75 233.28px 234.75px,#88bf76 234.75px 236.22px,#84bf78 236.22px 237.69px,#80be7a 237.69px 239.16px,#7cbe7d 239.16px 240.63px,#78be7f 240.63px 242.10px,#73bd81 242.10px 243.57px,#6fbd83 243.57px 245.04px,#6bbc85 245.04px 246.51px,#66bc87 246.51px 247.98px,#62bc8a 247.98px 249.45px,#5ebb8c 249.45px 250.92px,#5abb8e 250.92px 252.39px,#55bb90 252.39px 253.85px,#51ba92 253.85px 255.32px,#4dba94 255.32px 256.79px,#49b996 256.79px 258.26px,#46b998 258.26px 259.73px,#43b999 259.73px 261.20px,#40b99b 261.20px 262.67px,#3db89c 262.67px 264.14px,#3ab89e 264.14px 265.61px,#37b89f 265.61px 267.08px,#34b8a1 267.08px 268.55px,#31b7a2 268.55px 270.02px,#2eb7a4 270.02px 271.49px,#2db6a5 271.49px 272.96px,#2bb6a6 272.96px 274.43px,#2ab5a8 274.43px 275.90px,#28b4a9 275.90px 277.37px,#27b4aa 277.37px 278.84px,#26b3ac 278.84px 280.31px,#24b2ad 280.31px 281.77px,#23b2ae 281.77px 283.24px,#22b1af 283.24px 284.71px,#20b0b1 284.71px 286.18px,#1fb0b2 286.18px 287.65px,#1eafb3 287.65px 289.12px,#1caeb5 289.12px 290.59px,#1baeb6 290.59px 292.06px,#1baeb6 292.06px 293.53px,#1baeb6 293.53px 295.00px)"></div>
<div class="r" style="top:193.51px;height:8.73px;background:linear-gradient(90deg,#0a9acd 0.00px 1.49px,#0a9acd 1.49px 2.98px,#0a9acd 2.98px 4.47px,#0a9bcd 4.47px 5.96px,#099bcd 5.96px 7.45px,#099ccd 7.45px 8.94px,#099ccc 8.94px 10.43px,#099dcc 10.43px 11.92px,#099dcc 11.92px 13.41px,#089ecc 13.41px 14.90px,#089ecc 14.90px 16.39px,#089fcc 16.39px 17.88px,#089fcb 17.88px 19.37px,#08a0cb 19.37px 20.86px,#07a0cb 20.86px 22.35px,#07a1cb 22.35px 23.84px,#07a1cb 23.84px 25.33px,#07a2cb 25.33px 26.82px,#07a2ca 26.82px 28.31px,#06a3ca 28.31px 29.80px,#06a3ca 29.80px 31.29px,#06a4ca 31.29px 32.78px,#06a4c9 32.78px 34.28px,#07a4c9 34.28px 35.77px,#07a4c8 35.77px 37.26px,#0aa6c6 37.26px 38.75px,#0da7c3 38.75px 40.24px,#10a9c0 40.24px 41.73px,#13aabd 41.73px 43.22px,#16acba 43.22px 44.71px,#19adb8 44.71px 46.20px,#1caeb5 46.20px 47.69px,#1fb0b2 47.69px 49.18px,#22b1af 49.18px 50.67px,#25b3ac 50.67px 52.16px,#28b4a9 52.16px 53.65px,#2bb6a6 53.65px 55.14px,#2fb7a3 55.14px 56.63px,#35b8a0 56.63px 58.12px,#3cb89d 58.12px 59.61px,#43b999 59.61px 61.10px,#4aba96 61.10px 62.59px,#50ba92 62.59px 64.08px,#57bb8f 64.08px 65.57px,#5ebb8c 65.57px 67.06px,#65bc88 67.06px 68.55px,#6bbd85 68.55px 70.04px,#72bd82 70.04px 71.53px,#7abe7e 71.53px 73.02px,#83bf79 73.02px 74.51px,#8bbf75 74.51px 76.00px,#93be72 76.00px 77.49px,#9abe6f 77.49px 78.98px,#a1be6c 78.98px 80.47px,#a9bd69 80.47px 81.96px,#b0bd66 81.96px 83.45px,#b8bc63 83.45px 84.94px,#bfbc60 84.94px 86.43px,#c7bb5d 86.43px 87.92px,#cebb5a 87.92px 89.41px,#d4bc57 89.41px 90.90px,#d6bd54 90.90px 92.39px,#d9bd52 92.39px 93.88px,#dbbe50 93.88px 95.37px,#ddbf4e 95.37px 96.86px,#e0bf4c 96.86px 98.35px,#e2c04a 98.35px 99.84px,#e5c148 99.84px 101.33px,#e7c246 101.33px 102.82px,#e9c244 102.82px 104.32px,#ecc342 104.32px 105.81px,#eec440 105.81px 107.30px,#f0c43e 107.30px 108.79px,#f3c53c 108.79px 110.28px,#f5c63a 110.28px 111.77px,#f7c638 111.77px 113.26px,#f8c737 113.26px 114.75px,#fac736 114.75px 116.24px,#fcc834 116.24px 117.73px,#fdc833 117.73px 119.22px,#fec931 119.22px 120.71px,#fecb30 120.71px 122.20px,#fdcd2f 122.20px 123.69px,#fdcf2e 123.69px 125.18px,#fdd12c 125.18px 126.67px,#fdd32b 126.67px 128.16px,#fdd22b 128.16px 129.65px,#fdd12c 129.65px 131.14px,#fdd02d 131.14px 132.63px,#fdcf2d 132.63px 134.12px,#fdcf2e 134.12px 135.61px,#fdcf2e 135.61px 137.10px,#1272d9 137.10px 138.00px,transparent 138.00px 151.70px,#0c94cf 151.70px 153.40px,#7abe7e 153.40px 155.40px,#feca31 155.40px 156.87px,#feca31 156.87px 158.34px,#feca31 158.34px 159.81px,#fecb30 159.81px 161.28px,#fecc30 161.28px 162.75px,#fdcd2f 162.75px 164.22px,#fdce2e 164.22px 165.69px,#fdcf2d 165.69px 167.16px,#fdd12c 167.16px 168.63px,#fdd22b 168.63px 170.09px,#fdd22b 170.09px 171.56px,#fdcf2d 171.56px 173.03px,#fdcd2f 173.03px 174.50px,#fecb30 174.50px 175.97px,#fec932 175.97px 177.44px,#fcc834 177.44px 178.91px,#fac736 178.91px 180.38px,#f8c738 180.38px 181.85px,#f6c639 181.85px 183.32px,#f4c53b 183.32px 184.79px,#f1c53d 184.79px 186.26px,#efc43f 186.26px 187.73px,#edc341 187.73px 189.20px,#ebc342 189.20px 190.67px,#e8c245 190.67px 192.14px,#e5c148 192.14px 193.61px,#e1c04b 193.61px 195.08px,#debf4e 195.08px 196.55px,#dabe51 196.55px 198.01px,#d6bd54 198.01px 199.48px,#d3bb58 199.48px 200.95px,#cebb5a 200.95px 202.42px,#c8bb5d 202.42px 203.89px,#c2bc5f 203.89px 205.36px,#bcbc62 205.36px 206.83px,#b6bc64 206.83px 208.30px,#b0bd66 208.30px 209.77px,#aabd69 209.77px 211.24px,#a3bd6b 211.24px 212.71px,#9cbe6e 212.71px 214.18px,#95be71 214.18px 215.65px,#8ebf74 215.65px 217.12px,#87bf77 217.12px 218.59px,#7ebe7c 218.59px 220.06px,#75bd80 220.06px 221.53px,#6dbd84 221.53px 223.00px,#64bc89 223.00px 224.47px,#60bc8b 224.47px 225.93px,#5cbb8c 225.93px 227.40px,#59bb8e 227.40px 228.87px,#55bb90 228.87px 230.34px,#51ba92 230.34px 231.81px,#4eba94 231.81px 233.28px,#4aba96 233.28px 234.75px,#46b998 234.75px 236.22px,#43b999 236.22px 237.69px,#3fb99b 237.69px 239.16px,#3bb89d 239.16px 240.63px,#38b89f 240.63px 242.10px,#34b8a1 242.10px 243.57px,#30b7a3 243.57px 245.04px,#2db7a4 245.04px 246.51px,#2cb6a6 246.51px 247.98px,#2ab5a7 247.98px 249.45px,#29b4a9 249.45px 250.92px,#27b4ab 250.92px 252.39px,#25b3ac 252.39px 253.85px,#24b2ae 253.85px 255.32px,#22b1af 255.32px 256.79px,#21b1b0 256.79px 258.26px,#20b0b1 258.26px 259.73px,#1fb0b2 259.73px 261.20px,#1eafb3 261.20px 262.67px,#1dafb3 262.67px 264.14px,#1dafb4 264.14px 265.61px,#1caeb5 265.61px 267.08px,#1baeb6 267.08px 268.55px,#1aaeb7 268.55px 270.02px,#19adb7 270.02px 271.49px,#19adb8 271.49px 272.96px,#18acb9 272.96px 274.43px,#17acba 274.43px 275.90px,#16acba 275.90px 277.37px,#15abbb 277.37px 278.84px,#15abbc 278.84px 280.31px,#14aabd 280.31px 281.77px,#13aabd 281.77px 283.24px,#12aabe 283.24px 284.71px,#11a9bf 284.71px 286.18px,#10a9c0 286.18px 287.65px,#10a8c1 287.65px 289.12px,#0fa8c1 289.12px 290.59px,#0ea8c2 290.59px 292.06px,#0ea8c2 292.06px 293.53px,#0ea8c2 293.53px 295.00px)"></div>
<div class="r" style="top:202.19px;height:8.73px;background:linear-gradient(90deg,#0e8fd1 0.00px 1.49px,#0e8fd1 1.49px 2.98px,#0e8fd1 2.98px 4.47px,#0e90d1 4.47px 5.96px,#0e90d0 5.96px 7.45px,#0d91d0 7.45px 8.94px,#0d92d0 8.94px 10.43px,#0d93d0 10.43px 11.92px,#0c93cf 11.92px 13.41px,#0c94cf 13.41px 14.90px,#0c95cf 14.90px 16.39px,#0b96cf 16.39px 17.88px,#0b96ce 17.88px 19.37px,#0b97ce 19.37px 20.86px,#0b98ce 20.86px 22.35px,#0a99ce 22.35px 23.84px,#0a99cd 23.84px 25.33px,#0a9acd 25.33px 26.82px,#099bcd 26.82px 28.31px,#099ccd 28.31px 29.80px,#099ccc 29.80px 31.29px,#099dcc 31.29px 32.78px,#089ecc 32.78px 34.28px,#089fcc 34.28px 35.77px,#089fcb 35.77px 37.26px,#07a1cb 37.26px 38.75px,#07a2ca 38.75px 40.24px,#06a4ca 40.24px 41.73px,#07a4c8 41.73px 43.22px,#09a5c7 43.22px 44.71px,#0ba6c5 44.71px 46.20px,#0ca7c4 46.20px 47.69px,#0ea8c2 47.69px 49.18px,#10a8c1 49.18px 50.67px,#11a9bf 50.67px 52.16px,#13aabd 52.16px 53.65px,#15abbc 53.65px 55.14px,#16acba 55.14px 56.63px,#18acb9 56.63px 58.12px,#1aadb7 58.12px 59.61px,#1baeb6 59.61px 61.10px,#1dafb4 61.10px 62.59px,#1eb0b2 62.59px 64.08px,#20b0b1 64.08px 65.57px,#22b1af 65.57px 67.06px,#23b2ae 67.06px 68.55px,#25b3ac 68.55px 70.04px,#27b4ab 70.04px 71.53px,#29b5a8 71.53px 73.02px,#2cb6a6 73.02px 74.51px,#31b7a3 74.51px 76.00px,#37b89f 76.00px 77.49px,#3eb89c 77.49px 78.98px,#45b998 78.98px 80.47px,#4cba95 80.47px 81.96px,#52ba91 81.96px 83.45px,#59bb8e 83.45px 84.94px,#60bc8b 84.94px 86.43px,#67bc87 86.43px 87.92px,#6dbd84 87.92px 89.41px,#74bd80 89.41px 90.90px,#7bbe7d 90.90px 92.39px,#83bf79 92.39px 93.88px,#89bf76 93.88px 95.37px,#8fbf74 95.37px 96.86px,#95be71 96.86px 98.35px,#9bbe6f 98.35px 99.84px,#a1be6c 99.84px 101.33px,#a7bd6a 101.33px 102.82px,#aebd67 102.82px 104.32px,#b4bd65 104.32px 105.81px,#babc63 105.81px 107.30px,#c0bc60 107.30px 108.79px,#c6bc5e 108.79px 110.28px,#cbbb5b 110.28px 111.77px,#d1bb59 111.77px 113.26px,#d5bc56 113.26px 114.75px,#d8bd53 114.75px 116.24px,#dcbe50 116.24px 117.73px,#dfbf4d 117.73px 119.22px,#e3c049 119.22px 120.71px,#e7c146 120.71px 122.20px,#eac343 122.20px 123.69px,#eec440 123.69px 125.18px,#f1c53d 125.18px 126.67px,#f5c63a 126.67px 128.16px,#f6c639 128.16px 129.65px,#f8c738 129.65px 131.14px,#f9c736 131.14px 132.63px,#fac735 132.63px 134.12px,#fcc834 134.12px 135.61px,#fcc834 135.61px 137.10px,#1272d9 137.10px 138.00px,transparent 138.00px 151.70px,#147ed6 151.70px 153.40px,#73bd81 153.40px 155.40px,#feca31 155.40px 156.87px,#feca31 156.87px 158.34px,#feca31 158.34px 159.81px,#feca31 159.81px 161.28px,#feca31 161.28px 162.75px,#fec932 162.75px 164.22px,#fec932 164.22px 165.69px,#fdc833 165.69px 167.16px,#fdc833 167.16px 168.63px,#fcc833 168.63px 170.09px,#fbc835 170.09px 171.56px,#f7c638 171.56px 173.03px,#f3c53c 173.03px 174.50px,#efc43f 174.50px 175.97px,#ebc342 175.97px 177.44px,#e7c246 177.44px 178.91px,#e3c049 178.91px 180.38px,#e0bf4c 180.38px 181.85px,#dcbe50 181.85px 183.32px,#d8bd53 183.32px 184.79px,#d4bc57 184.79px 186.26px,#cfbb5a 186.26px 187.73px,#c9bb5c 187.73px 189.20px,#c3bc5f 189.20px 190.67px,#bdbc61 190.67px 192.14px,#b7bc64 192.14px 193.61px,#b1bd66 193.61px 195.08px,#abbd69 195.08px 196.55px,#a5bd6b 196.55px 198.01px,#9fbe6d 198.01px 199.48px,#99be70 199.48px 200.95px,#93be72 200.95px 202.42px,#8dbf75 202.42px 203.89px,#87bf77 203.89px 205.36px,#80be7b 205.36px 206.83px,#79be7e 206.83px 208.30px,#71bd82 208.30px 209.77px,#6abc85 209.77px 211.24px,#63bc89 211.24px 212.71px,#5bbb8d 212.71px 214.18px,#54ba91 214.18px 215.65px,#4cba94 215.65px 217.12px,#45b998 217.12px 218.59px,#3eb89c 218.59px 220.06px,#36b8a0 220.06px 221.53px,#2fb7a4 221.53px 223.00px,#2bb6a7 223.00px 224.47px,#2ab5a8 224.47px 225.93px,#29b5a9 225.93px 227.40px,#28b4aa 227.40px 228.87px,#27b4ab 228.87px 230.34px,#26b3ac 230.34px 231.81px,#25b3ad 231.81px 233.28px,#24b2ad 233.28px 234.75px,#23b2ae 234.75px 236.22px,#22b1af 236.22px 237.69px,#21b1b0 237.69px 239.16px,#20b0b1 239.16px 240.63px,#1fb0b2 240.63px 242.10px,#1eafb3 242.10px 243.57px,#1dafb4 243.57px 245.04px,#1caeb5 245.04px 246.51px,#1baeb6 246.51px 247.98px,#1aadb7 247.98px 249.45px,#19adb8 249.45px 250.92px,#18acb9 250.92px 252.39px,#17acba 252.39px 253.85px,#16abbb 253.85px 255.32px,#15abbc 255.32px 256.79px,#14aabd 256.79px 258.26px,#13aabd 258.26px 259.73px,#12aabe 259.73px 261.20px,#11a9bf 261.20px 262.67px,#11a9c0 262.67px 264.14px,#10a8c0 264.14px 265.61px,#0fa8c1 265.61px 267.08px,#0ea8c2 267.08px 268.55px,#0da7c3 268.55px 270.02px,#0da7c3 270.02px 271.49px,#0ca7c4 271.49px 272.96px,#0ba6c5 272.96px 274.43px,#0aa6c6 274.43px 275.90px,#09a5c7 275.90px 277.37px,#09a5c7 277.37px 278.84px,#08a5c8 278.84px 280.31px,#07a4c9 280.31px 281.77px,#06a4ca 281.77px 283.24px,#06a3ca 283.24px 284.71px,#06a2ca 284.71px 286.18px,#07a2ca 286.18px 287.65px,#07a1cb 287.65px 289.12px,#07a0cb 289.12px 290.59px,#08a0cb 290.59px 292.06px,#089fcb 292.06px 293.53px,#089fcb 293.53px 295.00px)"></div>
<div class="r" style="top:210.86px;height:8.73px;background:linear-gradient(90deg,#1481d6 0.00px 1.49px,#1481d6 1.49px 2.98px,#1481d6 2.98px 4.47px,#1481d5 4.47px 5.96px,#1382d5 5.96px 7.45px,#1383d5 7.45px 8.94px,#1383d5 8.94px 10.43px,#1384d5 10.43px 11.92px,#1285d4 11.92px 13.41px,#1285d4 13.41px 14.90px,#1286d4 14.90px 16.39px,#1286d4 16.39px 17.88px,#1187d4 17.88px 19.37px,#1188d3 19.37px 20.86px,#1188d3 20.86px 22.35px,#1189d3 22.35px 23.84px,#108ad3 23.84px 25.33px,#108ad3 25.33px 26.82px,#108bd2 26.82px 28.31px,#108bd2 28.31px 29.80px,#0f8cd2 29.80px 31.29px,#0f8dd2 31.29px 32.78px,#0f8dd1 32.78px 34.28px,#0f8ed1 34.28px 35.77px,#0e8fd1 35.77px 37.26px,#0e90d1 37.26px 38.75px,#0d91d0 38.75px 40.24px,#0d93d0 40.24px 41.73px,#0c94cf 41.73px 43.22px,#0c96cf 43.22px 44.71px,#0b97ce 44.71px 46.20px,#0a99ce 46.20px 47.69px,#0a9acd 47.69px 49.18px,#099bcd 49.18px 50.67px,#099dcc 50.67px 52.16px,#089ecc 52.16px 53.65px,#07a0cb 53.65px 55.14px,#07a1cb 55.14px 56.63px,#06a3ca 56.63px 58.12px,#06a4c9 58.12px 59.61px,#08a5c8 59.61px 61.10px,#0aa5c6 61.10px 62.59px,#0ba6c5 62.59px 64.08px,#0da7c3 64.08px 65.57px,#0fa8c2 65.57px 67.06px,#10a9c0 67.06px 68.55px,#12a9be 68.55px 70.04px,#14aabd 70.04px 71.53px,#15abbb 71.53px 73.02px,#17acb9 73.02px 74.51px,#19adb7 74.51px 76.00px,#1baeb5 76.00px 77.49px,#1dafb3 77.49px 78.98px,#1fb0b2 78.98px 80.47px,#21b1b0 80.47px 81.96px,#24b2ae 81.96px 83.45px,#26b3ac 83.45px 84.94px,#28b4aa 84.94px 86.43px,#2ab5a8 86.43px 87.92px,#2cb6a6 87.92px 89.41px,#2eb7a4 89.41px 90.90px,#34b8a1 90.90px 92.39px,#3bb89d 92.39px 93.88px,#43b999 93.88px 95.37px,#4aba96 95.37px 96.86px,#51ba92 96.86px 98.35px,#58bb8e 98.35px 99.84px,#60bc8b 99.84px 101.33px,#67bc87 101.33px 102.82px,#6ebd83 102.82px 104.32px,#76bd80 104.32px 105.81px,#7dbe7c 105.81px 107.30px,#84bf78 107.30px 108.79px,#8bbf75 108.79px 110.28px,#91be73 110.28px 111.77px,#98be70 111.77px 113.26px,#a0be6d 113.26px 114.75px,#a7bd6a 114.75px 116.24px,#aebd67 116.24px 117.73px,#b6bc64 117.73px 119.22px,#bdbc61 119.22px 120.71px,#c5bc5e 120.71px 122.20px,#ccbb5b 122.20px 123.69px,#d2bb58 123.69px 125.18px,#d7bd54 125.18px 126.67px,#dcbe50 126.67px 128.16px,#e1c04b 128.16px 129.65px,#e6c146 129.65px 131.14px,#ecc342 131.14px 132.63px,#f1c53d 132.63px 134.12px,#f7c638 134.12px 135.61px,#f8c737 135.61px 137.10px,#0e8fd1 137.10px 138.00px,transparent 138.00px 151.70px,#115ada 151.70px 153.40px,#5ebb8c 153.40px 155.40px,#f8c737 155.40px 156.87px,#f8c737 156.87px 158.34px,#f8c737 158.34px 159.81px,#f8c737 159.81px 161.28px,#f6c639 161.28px 162.75px,#f4c53b 162.75px 164.22px,#f2c53d 164.22px 165.69px,#f0c43f 165.69px 167.16px,#edc440 167.16px 168.63px,#ebc342 168.63px 170.09px,#e8c245 170.09px 171.56px,#e3c049 171.56px 173.03px,#debf4e 173.03px 174.50px,#d9bd52 174.50px 175.97px,#d4bc57 175.97px 177.44px,#cdbb5b 177.44px 178.91px,#c4bc5e 178.91px 180.38px,#bcbc62 180.38px 181.85px,#b3bd65 181.85px 183.32px,#abbd68 183.32px 184.79px,#a3bd6c 184.79px 186.26px,#9abe6f 186.26px 187.73px,#92be73 187.73px 189.20px,#89bf76 189.20px 190.67px,#81be7a 190.67px 192.14px,#7bbe7d 192.14px 193.61px,#75bd80 193.61px 195.08px,#6ebd83 195.08px 196.55px,#68bc86 196.55px 198.01px,#62bc8a 198.01px 199.48px,#5cbb8d 199.48px 200.95px,#56bb90 200.95px 202.42px,#50ba93 202.42px 203.89px,#49b996 203.89px 205.36px,#43b999 205.36px 206.83px,#3db89c 206.83px 208.30px,#37b89f 208.30px 209.77px,#31b7a2 209.77px 211.24px,#2db6a5 211.24px 212.71px,#2ab5a7 212.71px 214.18px,#28b4aa 214.18px 215.65px,#25b3ac 215.65px 217.12px,#23b2ae 217.12px 218.59px,#20b1b1 218.59px 220.06px,#1eafb3 220.06px 221.53px,#1caeb5 221.53px 223.00px,#19adb7 223.00px 224.47px,#18adb8 224.47px 225.93px,#18acb9 225.93px 227.40px,#17acba 227.40px 228.87px,#16abbb 228.87px 230.34px,#15abbb 230.34px 231.81px,#14abbc 231.81px 233.28px,#14aabd 233.28px 234.75px,#13aabd 234.75px 236.22px,#12aabe 236.22px 237.69px,#11a9bf 237.69px 239.16px,#11a9c0 239.16px 240.63px,#10a8c0 240.63px 242.10px,#0fa8c1 242.10px 243.57px,#0ea8c2 243.57px 245.04px,#0da7c3 245.04px 246.51px,#0da7c3 246.51px 247.98px,#0ca7c4 247.98px 249.45px,#0ba6c5 249.45px 250.92px,#0aa6c6 250.92px 252.39px,#09a5c6 252.39px 253.85px,#09a5c7 253.85px 255.32px,#08a5c8 255.32px 256.79px,#07a4c9 256.79px 258.26px,#07a4c9 258.26px 259.73px,#06a4ca 259.73px 261.20px,#06a3ca 261.20px 262.67px,#06a2ca 262.67px 264.14px,#07a2ca 264.14px 265.61px,#07a1cb 265.61px 267.08px,#07a1cb 267.08px 268.55px,#07a0cb 268.55px 270.02px,#089fcb 270.02px 271.49px,#089fcb 271.49px 272.96px,#089ecc 272.96px 274.43px,#089ecc 274.43px 275.90px,#099dcc 275.90px 277.37px,#099ccc 277.37px 278.84px,#099ccc 278.84px 280.31px,#099bcd 280.31px 281.77px,#099bcd 281.77px 283.24px,#0a9acd 283.24px 284.71px,#0a99cd 284.71px 286.18px,#0a99cd 286.18px 287.65px,#0a98ce 287.65px 289.12px,#0b98ce 289.12px 290.59px,#0b97ce 290.59px 292.06px,#0b97ce 292.06px 293.53px,#0b97ce 293.53px 295.00px)"></div>
<div class="r" style="top:219.54px;height:8.73px;background:linear-gradient(90deg,#1378d8 0.00px 1.49px,#1378d8 1.49px 2.98px,#1378d8 2.98px 4.47px,#1379d7 4.47px 5.96px,#1379d7 5.96px 7.45px,#137ad7 7.45px 8.94px,#137bd7 8.94px 10.43px,#137bd7 10.43px 11.92px,#137cd7 11.92px 13.41px,#137dd7 13.41px 14.90px,#137dd7 14.90px 16.39px,#147ed6 16.39px 17.88px,#147fd6 17.88px 19.37px,#147fd6 19.37px 20.86px,#1480d6 20.86px 22.35px,#1480d6 22.35px 23.84px,#1481d6 23.84px 25.33px,#1382d5 25.33px 26.82px,#1382d5 26.82px 28.31px,#1383d5 28.31px 29.80px,#1384d5 29.80px 31.29px,#1284d5 31.29px 32.78px,#1285d4 32.78px 34.28px,#1285d4 34.28px 35.77px,#1286d4 35.77px 37.26px,#1187d4 37.26px 38.75px,#1189d3 38.75px 40.24px,#108ad3 40.24px 41.73px,#108bd2 41.73px 43.22px,#0f8dd2 43.22px 44.71px,#0f8ed1 44.71px 46.20px,#0e8fd1 46.20px 47.69px,#0e91d0 47.69px 49.18px,#0d92d0 49.18px 50.67px,#0c93cf 50.67px 52.16px,#0c95cf 52.16px 53.65px,#0b96cf 53.65px 55.14px,#0b97ce 55.14px 56.63px,#0a99ce 56.63px 58.12px,#0a9acd 58.12px 59.61px,#099bcd 59.61px 61.10px,#099ccc 61.10px 62.59px,#089ecc 62.59px 64.08px,#089fcb 64.08px 65.57px,#07a0cb 65.57px 67.06px,#07a2ca 67.06px 68.55px,#06a3ca 68.55px 70.04px,#07a4c9 70.04px 71.53px,#08a5c7 71.53px 73.02px,#0aa6c6 73.02px 74.51px,#0ca7c4 74.51px 76.00px,#0ea7c2 76.00px 77.49px,#0fa8c1 77.49px 78.98px,#11a9bf 78.98px 80.47px,#13aabd 80.47px 81.96px,#15abbc 81.96px 83.45px,#17acba 83.45px 84.94px,#18adb8 84.94px 86.43px,#1aadb7 86.43px 87.92px,#1caeb5 87.92px 89.41px,#1eafb3 89.41px 90.90px,#20b0b1 90.90px 92.39px,#23b2af 92.39px 93.88px,#25b3ac 93.88px 95.37px,#28b4aa 95.37px 96.86px,#2ab5a7 96.86px 98.35px,#2db7a5 98.35px 99.84px,#31b7a2 99.84px 101.33px,#37b89f 101.33px 102.82px,#3db89c 102.82px 104.32px,#43b999 104.32px 105.81px,#48b997 105.81px 107.30px,#4eba94 107.30px 108.79px,#54ba91 108.79px 110.28px,#5abb8e 110.28px 111.77px,#63bc89 111.77px 113.26px,#6cbd85 113.26px 114.75px,#75bd80 114.75px 116.24px,#7ebe7c 116.24px 117.73px,#87bf77 117.73px 119.22px,#8ebf74 119.22px 120.71px,#96be71 120.71px 122.20px,#9dbe6e 122.20px 123.69px,#a4bd6b 123.69px 125.18px,#acbd68 125.18px 126.67px,#b3bd65 126.67px 128.16px,#c3bc5f 128.16px 129.65px,#d2bb58 129.65px 131.14px,#dbbe50 131.14px 132.63px,#e5c148 132.63px 134.12px,#eec440 134.12px 135.61px,#f1c53d 135.61px 137.10px,#1383d5 137.10px 138.00px,transparent 138.00px 151.70px,#1272d9 151.70px 153.40px,#40b99b 153.40px 155.40px,#eec440 155.40px 156.87px,#eec440 156.87px 158.34px,#eec440 158.34px 159.81px,#ecc341 159.81px 161.28px,#e8c245 161.28px 162.75px,#e4c148 162.75px 164.22px,#e0bf4c 164.22px 165.69px,#dcbe50 165.69px 167.16px,#d8bd53 167.16px 168.63px,#d3bc57 168.63px 170.09px,#cebb5a 170.09px 171.56px,#c5bc5e 171.56px 173.03px,#bdbc61 173.03px 174.50px,#b5bc65 174.50px 175.97px,#acbd68 175.97px 177.44px,#a4bd6b 177.44px 178.91px,#9bbe6f 178.91px 180.38px,#93be72 180.38px 181.85px,#8abf76 181.85px 183.32px,#81be7a 183.32px 184.79px,#76be7f 184.79px 186.26px,#6cbd85 186.26px 187.73px,#62bc8a 187.73px 189.20px,#58bb8f 189.20px 190.67px,#4fba93 190.67px 192.14px,#4aba96 192.14px 193.61px,#45b998 193.61px 195.08px,#40b99b 195.08px 196.55px,#3bb89d 196.55px 198.01px,#36b8a0 198.01px 199.48px,#31b7a3 199.48px 200.95px,#2db6a5 200.95px 202.42px,#2bb5a7 202.42px 203.89px,#28b4a9 203.89px 205.36px,#26b3ab 205.36px 206.83px,#24b2ae 206.83px 208.30px,#21b1b0 208.30px 209.77px,#1fb0b2 209.77px 211.24px,#1dafb4 211.24px 212.71px,#1baeb6 212.71px 214.18px,#19adb8 214.18px 215.65px,#17acb9 215.65px 217.12px,#15abbb 217.12px 218.59px,#14aabd 218.59px 220.06px,#12a9bf 220.06px 221.53px,#10a8c0 221.53px 223.00px,#0ea8c2 223.00px 224.47px,#0da7c3 224.47px 225.93px,#0da7c4 225.93px 227.40px,#0ca7c4 227.40px 228.87px,#0ba6c5 228.87px 230.34px,#0aa6c6 230.34px 231.81px,#0aa6c6 231.81px 233.28px,#09a5c7 233.28px 234.75px,#08a5c8 234.75px 236.22px,#08a4c8 236.22px 237.69px,#07a4c9 237.69px 239.16px,#06a4ca 239.16px 240.63px,#06a3ca 240.63px 242.10px,#06a3ca 242.10px 243.57px,#07a2ca 243.57px 245.04px,#07a1cb 245.04px 246.51px,#07a1cb 246.51px 247.98px,#07a0cb 247.98px 249.45px,#089fcb 249.45px 250.92px,#089fcb 250.92px 252.39px,#089ecc 252.39px 253.85px,#089ecc 253.85px 255.32px,#099dcc 255.32px 256.79px,#099ccc 256.79px 258.26px,#099ccd 258.26px 259.73px,#099bcd 259.73px 261.20px,#0a9bcd 261.20px 262.67px,#0a9acd 262.67px 264.14px,#0a99cd 264.14px 265.61px,#0a99ce 265.61px 267.08px,#0a98ce 267.08px 268.55px,#0b98ce 268.55px 270.02px,#0b97ce 270.02px 271.49px,#0b96ce 271.49px 272.96px,#0b96cf 272.96px 274.43px,#0c95cf 274.43px 275.90px,#0c95cf 275.90px 277.37px,#0c94cf 277.37px 278.84px,#0c93cf 278.84px 280.31px,#0d93d0 280.31px 281.77px,#0d92d0 281.77px 283.24px,#0d92d0 283.24px 284.71px,#0d91d0 284.71px 286.18px,#0e90d0 286.18px 287.65px,#0e90d1 287.65px 289.12px,#0e8fd1 289.12px 290.59px,#0e8fd1 290.59px 292.06px,#0e8fd1 292.06px 293.53px,#0e8fd1 293.53px 295.00px)"></div>
<div class="r" style="top:228.22px;height:8.73px;background:linear-gradient(90deg,#1272d9 0.00px 1.49px,#1272d9 1.49px 2.98px,#1272d9 2.98px 4.47px,#1273d9 4.47px 5.96px,#1273d9 5.96px 7.45px,#1274d8 7.45px 8.94px,#1275d8 8.94px 10.43px,#1275d8 10.43px 11.92px,#1376d8 11.92px 13.41px,#1377d8 13.41px 14.90px,#1377d8 14.90px 16.39px,#1378d8 16.39px 17.88px,#1379d7 17.88px 19.37px,#1379d7 19.37px 20.86px,#137ad7 20.86px 22.35px,#137bd7 22.35px 23.84px,#137bd7 23.84px 25.33px,#137cd7 25.33px 26.82px,#137dd7 26.82px 28.31px,#137dd7 28.31px 29.80px,#147ed6 29.80px 31.29px,#147fd6 31.29px 32.78px,#147fd6 32.78px 34.28px,#1480d6 34.28px 35.77px,#1480d6 35.77px 37.26px,#1382d5 37.26px 38.75px,#1383d5 38.75px 40.24px,#1384d5 40.24px 41.73px,#1285d4 41.73px 43.22px,#1286d4 43.22px 44.71px,#1188d3 44.71px 46.20px,#1189d3 46.20px 47.69px,#108ad3 47.69px 49.18px,#108bd2 49.18px 50.67px,#0f8cd2 50.67px 52.16px,#0f8ed1 52.16px 53.65px,#0e8fd1 53.65px 55.14px,#0e90d1 55.14px 56.63px,#0d91d0 56.63px 58.12px,#0d92d0 58.12px 59.61px,#0c94cf 59.61px 61.10px,#0c95cf 61.10px 62.59px,#0b96ce 62.59px 64.08px,#0b97ce 64.08px 65.57px,#0a98ce 65.57px 67.06px,#0a9acd 67.06px 68.55px,#099bcd 68.55px 70.04px,#099ccc 70.04px 71.53px,#089dcc 71.53px 73.02px,#089fcc 73.02px 74.51px,#07a0cb 74.51px 76.00px,#07a1cb 76.00px 77.49px,#06a3ca 77.49px 78.98px,#06a4c9 78.98px 80.47px,#08a5c8 80.47px 81.96px,#09a5c7 81.96px 83.45px,#0ba6c5 83.45px 84.94px,#0ca7c4 84.94px 86.43px,#0ea8c2 86.43px 87.92px,#0fa8c1 87.92px 89.41px,#11a9bf 89.41px 90.90px,#13aabe 90.90px 92.39px,#15abbc 92.39px 93.88px,#17acba 93.88px 95.37px,#19adb8 95.37px 96.86px,#1baeb6 96.86px 98.35px,#1dafb4 98.35px 99.84px,#1fb0b2 99.84px 101.33px,#22b1b0 101.33px 102.82px,#24b2ae 102.82px 104.32px,#26b3ac 104.32px 105.81px,#28b4aa 105.81px 107.30px,#2ab5a8 107.30px 108.79px,#2cb6a6 108.79px 110.28px,#2fb7a3 110.28px 111.77px,#37b8a0 111.77px 113.26px,#3eb89c 113.26px 114.75px,#46b998 114.75px 116.24px,#4eba94 116.24px 117.73px,#55bb90 117.73px 119.22px,#5dbb8c 119.22px 120.71px,#65bc88 120.71px 122.20px,#6cbd84 122.20px 123.69px,#74bd80 123.69px 125.18px,#7cbe7d 125.18px 126.67px,#84bf79 126.67px 128.16px,#98be70 128.16px 129.65px,#acbd68 129.65px 131.14px,#c0bc60 131.14px 132.63px,#d3bb57 132.63px 134.12px,#dfbf4d 134.12px 135.61px,#e3c04a 135.61px 137.10px,#0e8fd1 137.10px 138.00px,transparent 138.00px 151.70px,#1066db 151.70px 153.40px,#26b3ab 153.40px 155.40px,#e3c04a 155.40px 156.87px,#e3c04a 156.87px 158.34px,#e3c04a 158.34px 159.81px,#e1c04b 159.81px 161.28px,#d9bd52 161.28px 162.75px,#d2bb58 162.75px 164.22px,#c7bb5d 164.22px 165.69px,#bbbc62 165.69px 167.16px,#afbd67 167.16px 168.63px,#a4bd6b 168.63px 170.09px,#99be70 170.09px 171.56px,#92be73 171.56px 173.03px,#8abf76 173.03px 174.50px,#81bf7a 174.50px 175.97px,#78be7e 175.97px 177.44px,#6fbd83 177.44px 178.91px,#66bc88 178.91px 180.38px,#5cbb8c 180.38px 181.85px,#53ba91 181.85px 183.32px,#4aba96 183.32px 184.79px,#41b99a 184.79px 186.26px,#38b89f 186.26px 187.73px,#2eb7a4 187.73px 189.20px,#2ab5a8 189.20px 190.67px,#27b4aa 190.67px 192.14px,#26b3ac 192.14px 193.61px,#24b2ad 193.61px 195.08px,#23b2ae 195.08px 196.55px,#21b1b0 196.55px 198.01px,#20b0b1 198.01px 199.48px,#1fb0b2 199.48px 200.95px,#1dafb4 200.95px 202.42px,#1caeb5 202.42px 203.89px,#1aaeb6 203.89px 205.36px,#19adb8 205.36px 206.83px,#18acb9 206.83px 208.30px,#16acba 208.30px 209.77px,#15abbc 209.77px 211.24px,#13aabd 211.24px 212.71px,#12aabe 212.71px 214.18px,#11a9c0 214.18px 215.65px,#0fa8c1 215.65px 217.12px,#0ea7c3 217.12px 218.59px,#0ca7c4 218.59px 220.06px,#0ba6c5 220.06px 221.53px,#09a5c7 221.53px 223.00px,#08a4c8 223.00px 224.47px,#07a4c9 224.47px 225.93px,#06a4ca 225.93px 227.40px,#06a3ca 227.40px 228.87px,#06a3ca 228.87px 230.34px,#07a2ca 230.34px 231.81px,#07a1cb 231.81px 233.28px,#07a1cb 233.28px 234.75px,#07a0cb 234.75px 236.22px,#089fcb 236.22px 237.69px,#089fcb 237.69px 239.16px,#089ecc 239.16px 240.63px,#089ecc 240.63px 242.10px,#099dcc 242.10px 243.57px,#099ccc 243.57px 245.04px,#099ccd 245.04px 246.51px,#099bcd 246.51px 247.98px,#0a9acd 247.98px 249.45px,#0a9acd 249.45px 250.92px,#0a99cd 250.92px 252.39px,#0a99ce 252.39px 253.85px,#0b98ce 253.85px 255.32px,#0b97ce 255.32px 256.79px,#0b97ce 256.79px 258.26px,#0b96ce 258.26px 259.73px,#0c96cf 259.73px 261.20px,#0c95cf 261.20px 262.67px,#0c94cf 262.67px 264.14px,#0c94cf 264.14px 265.61px,#0c93cf 265.61px 267.08px,#0d93d0 267.08px 268.55px,#0d92d0 268.55px 270.02px,#0d91d0 270.02px 271.49px,#0d91d0 271.49px 272.96px,#0e90d0 272.96px 274.43px,#0e90d1 274.43px 275.90px,#0e8fd1 275.90px 277.37px,#0e8ed1 277.37px 278.84px,#0f8ed1 278.84px 280.31px,#0f8dd1 280.31px 281.77px,#0f8dd2 281.77px 283.24px,#0f8cd2 283.24px 284.71px,#108bd2 284.71px 286.18px,#108bd2 286.18px 287.65px,#108ad3 287.65px 289.12px,#108ad3 289.12px 290.59px,#1189d3 290.59px 292.06px,#1189d3 292.06px 293.53px,#1189d3 293.53px 295.00px)"></div>
<div class="r" style="top:236.89px;height:8.73px;background:linear-gradient(90deg,#1272d9 0.00px 1.49px,#1272d9 1.49px 2.98px,#1272d9 2.98px 4.47px,#1273d9 4.47px 5.96px,#1273d9 5.96px 7.45px,#1274d8 7.45px 8.94px,#1274d8 8.94px 10.43px,#1275d8 10.43px 11.92px,#1275d8 11.92px 13.41px,#1276d8 13.41px 14.90px,#1376d8 14.90px 16.39px,#1377d8 16.39px 17.88px,#1377d8 17.88px 19.37px,#1378d8 19.37px 20.86px,#1378d8 20.86px 22.35px,#1379d7 22.35px 23.84px,#1379d7 23.84px 25.33px,#137ad7 25.33px 26.82px,#137ad7 26.82px 28.31px,#137bd7 28.31px 29.80px,#137bd7 29.80px 31.29px,#137cd7 31.29px 32.78px,#137cd7 32.78px 34.28px,#137dd7 34.28px 35.77px,#137ed6 35.77px 37.26px,#147fd6 37.26px 38.75px,#1480d6 38.75px 40.24px,#1481d6 40.24px 41.73px,#1382d5 41.73px 43.22px,#1383d5 43.22px 44.71px,#1284d5 44.71px 46.20px,#1285d4 46.20px 47.69px,#1286d4 47.69px 49.18px,#1187d3 49.18px 50.67px,#1188d3 50.67px 52.16px,#1089d3 52.16px 53.65px,#108bd2 53.65px 55.14px,#0f8cd2 55.14px 56.63px,#0f8dd2 56.63px 58.12px,#0f8ed1 58.12px 59.61px,#0e8fd1 59.61px 61.10px,#0e90d1 61.10px 62.59px,#0d91d0 62.59px 64.08px,#0d92d0 64.08px 65.57px,#0c93cf 65.57px 67.06px,#0c94cf 67.06px 68.55px,#0c95cf 68.55px 70.04px,#0b96ce 70.04px 71.53px,#0b97ce 71.53px 73.02px,#0a98ce 73.02px 74.51px,#0a99cd 74.51px 76.00px,#0a9acd 76.00px 77.49px,#099bcd 77.49px 78.98px,#099ccc 78.98px 80.47px,#099dcc 80.47px 81.96px,#089ecc 81.96px 83.45px,#089fcc 83.45px 84.94px,#089fcb 84.94px 86.43px,#07a0cb 86.43px 87.92px,#07a1cb 87.92px 89.41px,#07a2ca 89.41px 90.90px,#06a4ca 90.90px 92.39px,#08a5c8 92.39px 93.88px,#0aa5c6 93.88px 95.37px,#0ba6c5 95.37px 96.86px,#0da7c3 96.86px 98.35px,#0fa8c1 98.35px 99.84px,#11a9bf 99.84px 101.33px,#13aabd 101.33px 102.82px,#15abbc 102.82px 104.32px,#17acba 104.32px 105.81px,#19adb8 105.81px 107.30px,#1aaeb6 107.30px 108.79px,#1caeb5 108.79px 110.28px,#1eafb3 110.28px 111.77px,#21b1b0 111.77px 113.26px,#24b2ad 113.26px 114.75px,#27b4ab 114.75px 116.24px,#2ab5a8 116.24px 117.73px,#2db6a5 117.73px 119.22px,#32b7a2 119.22px 120.71px,#38b89f 120.71px 122.20px,#3eb99c 122.20px 123.69px,#45b998 123.69px 125.18px,#4bba95 125.18px 126.67px,#52ba92 126.67px 128.16px,#6bbd85 128.16px 129.65px,#85bf78 129.65px 131.14px,#9abe6f 131.14px 132.63px,#afbd67 132.63px 134.12px,#c4bc5e 134.12px 135.61px,#cbbb5c 135.61px 137.10px,#1378d8 137.10px 138.00px,transparent 138.00px 151.70px,#1189d3 151.70px 153.40px,#1caeb5 153.40px 155.40px,#dcbe50 155.40px 156.87px,#dcbe50 156.87px 158.34px,#dcbe50 158.34px 159.81px,#d9bd52 159.81px 161.28px,#cfbb5a 161.28px 162.75px,#bfbc60 162.75px 164.22px,#b0bd66 164.22px 165.69px,#a1be6c 165.69px 167.16px,#92be73 167.16px 168.63px,#82bf7a 168.63px 170.09px,#73bd81 170.09px 171.56px,#6bbd85 171.56px 173.03px,#63bc89 173.03px 174.50px,#5cbb8d 174.50px 175.97px,#54ba91 175.97px 177.44px,#4cba95 177.44px 178.91px,#45b998 178.91px 180.38px,#3db89c 180.38px 181.85px,#35b8a0 181.85px 183.32px,#2eb7a4 183.32px 184.79px,#2ab5a7 184.79px 186.26px,#27b4ab 186.26px 187.73px,#23b2ae 187.73px 189.20px,#20b0b1 189.20px 190.67px,#1dafb3 190.67px 192.14px,#1cafb5 192.14px 193.61px,#1baeb6 193.61px 195.08px,#1aadb7 195.08px 196.55px,#19adb8 196.55px 198.01px,#18acb9 198.01px 199.48px,#17acba 199.48px 200.95px,#15abbb 200.95px 202.42px,#14abbc 202.42px 203.89px,#13aabd 203.89px 205.36px,#12a9be 205.36px 206.83px,#11a9c0 206.83px 208.30px,#10a8c1 208.30px 209.77px,#0ea8c2 209.77px 211.24px,#0da7c3 211.24px 212.71px,#0ca7c4 212.71px 214.18px,#0ba6c5 214.18px 215.65px,#09a5c7 215.65px 217.12px,#08a5c8 217.12px 218.59px,#07a4c9 218.59px 220.06px,#06a3ca 220.06px 221.53px,#07a2ca 221.53px 223.00px,#07a1cb 223.00px 224.47px,#07a0cb 224.47px 225.93px,#07a0cb 225.93px 227.40px,#089fcb 227.40px 228.87px,#089fcc 228.87px 230.34px,#089ecc 230.34px 231.81px,#089ecc 231.81px 233.28px,#099dcc 233.28px 234.75px,#099ccc 234.75px 236.22px,#099ccc 236.22px 237.69px,#099bcd 237.69px 239.16px,#099bcd 239.16px 240.63px,#0a9acd 240.63px 242.10px,#0a9acd 242.10px 243.57px,#0a99cd 243.57px 245.04px,#0a98ce 245.04px 246.51px,#0b98ce 246.51px 247.98px,#0b97ce 247.98px 249.45px,#0b97ce 249.45px 250.92px,#0b96ce 250.92px 252.39px,#0c96cf 252.39px 253.85px,#0c95cf 253.85px 255.32px,#0c95cf 255.32px 256.79px,#0c94cf 256.79px 258.26px,#0c93cf 258.26px 259.73px,#0d93d0 259.73px 261.20px,#0d92d0 261.20px 262.67px,#0d92d0 262.67px 264.14px,#0d91d0 264.14px 265.61px,#0e90d0 265.61px 267.08px,#0e90d1 267.08px 268.55px,#0e8fd1 268.55px 270.02px,#0e8fd1 270.02px 271.49px,#0f8ed1 271.49px 272.96px,#0f8dd1 272.96px 274.43px,#0f8dd2 274.43px 275.90px,#0f8cd2 275.90px 277.37px,#0f8cd2 277.37px 278.84px,#108bd2 278.84px 280.31px,#108ad2 280.31px 281.77px,#108ad3 281.77px 283.24px,#1089d3 283.24px 284.71px,#1189d3 284.71px 286.18px,#1188d3 286.18px 287.65px,#1187d3 287.65px 289.12px,#1187d4 289.12px 290.59px,#1286d4 290.59px 292.06px,#1286d4 292.06px 293.53px,#1286d4 293.53px 295.00px)"></div>
<div class="r" style="top:245.57px;height:8.73px;background:linear-gradient(90deg,#126fd9 0.00px 1.49px,#126fd9 1.49px 2.98px,#126fd9 2.98px 4.47px,#1270d9 4.47px 5.96px,#1270d9 5.96px 7.45px,#1271d9 7.45px 8.94px,#1271d9 8.94px 10.43px,#1272d9 10.43px 11.92px,#1272d9 11.92px 13.41px,#1273d9 13.41px 14.90px,#1273d9 14.90px 16.39px,#1274d8 16.39px 17.88px,#1274d8 17.88px 19.37px,#1275d8 19.37px 20.86px,#1275d8 20.86px 22.35px,#1376d8 22.35px 23.84px,#1376d8 23.84px 25.33px,#1377d8 25.33px 26.82px,#1377d8 26.82px 28.31px,#1378d8 28.31px 29.80px,#1379d7 29.80px 31.29px,#1379d7 31.29px 32.78px,#137ad7 32.78px 34.28px,#137ad7 34.28px 35.77px,#137bd7 35.77px 37.26px,#137cd7 37.26px 38.75px,#137dd7 38.75px 40.24px,#147ed6 40.24px 41.73px,#147fd6 41.73px 43.22px,#1480d6 43.22px 44.71px,#1481d6 44.71px 46.20px,#1382d5 46.20px 47.69px,#1383d5 47.69px 49.18px,#1285d4 49.18px 50.67px,#1286d4 50.67px 52.16px,#1187d4 52.16px 53.65px,#1188d3 53.65px 55.14px,#1189d3 55.14px 56.63px,#108ad3 56.63px 58.12px,#108bd2 58.12px 59.61px,#0f8cd2 59.61px 61.10px,#0f8dd1 61.10px 62.59px,#0e8ed1 62.59px 64.08px,#0e8fd1 64.08px 65.57px,#0e90d0 65.57px 67.06px,#0d92d0 67.06px 68.55px,#0d93d0 68.55px 70.04px,#0c94cf 70.04px 71.53px,#0c95cf 71.53px 73.02px,#0c95cf 73.02px 74.51px,#0b96cf 74.51px 76.00px,#0b97ce 76.00px 77.49px,#0b97ce 77.49px 78.98px,#0b98ce 78.98px 80.47px,#0a99ce 80.47px 81.96px,#0a99cd 81.96px 83.45px,#0a9acd 83.45px 84.94px,#0a9bcd 84.94px 86.43px,#099bcd 86.43px 87.92px,#099ccc 87.92px 89.41px,#099dcc 89.41px 90.90px,#089ecc 90.90px 92.39px,#089fcb 92.39px 93.88px,#07a1cb 93.88px 95.37px,#07a2ca 95.37px 96.86px,#06a4ca 96.86px 98.35px,#07a4c8 98.35px 99.84px,#09a5c7 99.84px 101.33px,#0ba6c5 101.33px 102.82px,#0ca7c4 102.82px 104.32px,#0ea8c2 104.32px 105.81px,#10a8c1 105.81px 107.30px,#11a9bf 107.30px 108.79px,#13aabe 108.79px 110.28px,#15abbc 110.28px 111.77px,#17acba 111.77px 113.26px,#19adb8 113.26px 114.75px,#1baeb5 114.75px 116.24px,#1eafb3 116.24px 117.73px,#20b0b1 117.73px 119.22px,#22b1af 119.22px 120.71px,#25b3ad 120.71px 122.20px,#27b4aa 122.20px 123.69px,#29b5a8 123.69px 125.18px,#2cb6a6 125.18px 126.67px,#2eb7a4 126.67px 128.16px,#46b998 128.16px 129.65px,#5ebb8b 129.65px 131.14px,#77be7f 131.14px 132.63px,#8dbf74 132.63px 134.12px,#a1be6c 134.12px 135.61px,#a8bd6a 135.61px 137.10px,#1383d5 137.10px 138.00px,transparent 138.00px 151.70px,#1066db 151.70px 153.40px,#12a9bf 153.40px 155.40px,#d1bb59 155.40px 156.87px,#d1bb59 156.87px 158.34px,#d1bb59 158.34px 159.81px,#ccbb5b 159.81px 161.28px,#bcbc62 161.28px 162.75px,#acbd68 162.75px 164.22px,#9cbe6f 164.22px 165.69px,#8cbf75 165.69px 167.16px,#79be7e 167.16px 168.63px,#66bc88 168.63px 170.09px,#56bb8f 170.09px 171.56px,#4fba93 171.56px 173.03px,#48b997 173.03px 174.50px,#41b99a 174.50px 175.97px,#3ab89e 175.97px 177.44px,#32b7a2 177.44px 178.91px,#2db6a5 178.91px 180.38px,#2ab5a8 180.38px 181.85px,#26b3ab 181.85px 183.32px,#23b2ae 183.32px 184.79px,#20b0b1 184.79px 186.26px,#1dafb4 186.26px 187.73px,#19adb7 187.73px 189.20px,#16acba 189.20px 190.67px,#14aabd 190.67px 192.14px,#13aabd 192.14px 193.61px,#12aabe 193.61px 195.08px,#11a9bf 195.08px 196.55px,#10a9c0 196.55px 198.01px,#0fa8c1 198.01px 199.48px,#0ea8c2 199.48px 200.95px,#0da7c3 200.95px 202.42px,#0da7c4 202.42px 203.89px,#0ca6c4 203.89px 205.36px,#0ba6c5 205.36px 206.83px,#0aa6c6 206.83px 208.30px,#09a5c7 208.30px 209.77px,#08a5c8 209.77px 211.24px,#07a4c9 211.24px 212.71px,#06a4ca 212.71px 214.18px,#06a3ca 214.18px 215.65px,#07a2cb 215.65px 217.12px,#07a1cb 217.12px 218.59px,#08a0cb 218.59px 220.06px,#089fcc 220.06px 221.53px,#089ecc 221.53px 223.00px,#099dcc 223.00px 224.47px,#099ccc 224.47px 225.93px,#099bcd 225.93px 227.40px,#099bcd 227.40px 228.87px,#0a9acd 228.87px 230.34px,#0a9acd 230.34px 231.81px,#0a99cd 231.81px 233.28px,#0a98ce 233.28px 234.75px,#0b98ce 234.75px 236.22px,#0b97ce 236.22px 237.69px,#0b96ce 237.69px 239.16px,#0b96cf 239.16px 240.63px,#0c95cf 240.63px 242.10px,#0c95cf 242.10px 243.57px,#0c94cf 243.57px 245.04px,#0c93cf 245.04px 246.51px,#0d93d0 246.51px 247.98px,#0d92d0 247.98px 249.45px,#0d91d0 249.45px 250.92px,#0d91d0 250.92px 252.39px,#0e90d0 252.39px 253.85px,#0e90d1 253.85px 255.32px,#0e8fd1 255.32px 256.79px,#0e8ed1 256.79px 258.26px,#0f8ed1 258.26px 259.73px,#0f8dd1 259.73px 261.20px,#0f8dd2 261.20px 262.67px,#0f8cd2 262.67px 264.14px,#0f8cd2 264.14px 265.61px,#108cd2 265.61px 267.08px,#108bd2 267.08px 268.55px,#108bd2 268.55px 270.02px,#108ad3 270.02px 271.49px,#108ad3 271.49px 272.96px,#1089d3 272.96px 274.43px,#1189d3 274.43px 275.90px,#1188d3 275.90px 277.37px,#1188d3 277.37px 278.84px,#1187d4 278.84px 280.31px,#1187d4 280.31px 281.77px,#1286d4 281.77px 283.24px,#1286d4 283.24px 284.71px,#1285d4 284.71px 286.18px,#1285d4 286.18px 287.65px,#1284d5 287.65px 289.12px,#1384d5 289.12px 290.59px,#1383d5 290.59px 292.06px,#1383d5 292.06px 293.53px,#1383d5 293.53px 295.00px)"></div>
<div class="r" style="top:254.24px;height:8.73px;background:linear-gradient(90deg,#126fd9 0.00px 1.49px,#126fd9 1.49px 2.98px,#126fd9 2.98px 4.47px,#1270d9 4.47px 5.96px,#1270d9 5.96px 7.45px,#1271d9 7.45px 8.94px,#1271d9 8.94px 10.43px,#1272d9 10.43px 11.92px,#1272d9 11.92px 13.41px,#1273d9 13.41px 14.90px,#1273d9 14.90px 16.39px,#1274d8 16.39px 17.88px,#1274d8 17.88px 19.37px,#1275d8 19.37px 20.86px,#1275d8 20.86px 22.35px,#1376d8 22.35px 23.84px,#1376d8 23.84px 25.33px,#1377d8 25.33px 26.82px,#1377d8 26.82px 28.31px,#1378d8 28.31px 29.80px,#1379d7 29.80px 31.29px,#1379d7 31.29px 32.78px,#137ad7 32.78px 34.28px,#137ad7 34.28px 35.77px,#137bd7 35.77px 37.26px,#137cd7 37.26px 38.75px,#137dd7 38.75px 40.24px,#147ed6 40.24px 41.73px,#147fd6 41.73px 43.22px,#1480d6 43.22px 44.71px,#1481d6 44.71px 46.20px,#1382d5 46.20px 47.69px,#1383d5 47.69px 49.18px,#1384d5 49.18px 50.67px,#1285d4 50.67px 52.16px,#1286d4 52.16px 53.65px,#1187d4 53.65px 55.14px,#1188d3 55.14px 56.63px,#1089d3 56.63px 58.12px,#108ad3 58.12px 59.61px,#108bd2 59.61px 61.10px,#0f8cd2 61.10px 62.59px,#0f8dd1 62.59px 64.08px,#0e8ed1 64.08px 65.57px,#0e8fd1 65.57px 67.06px,#0e90d0 67.06px 68.55px,#0d91d0 68.55px 70.04px,#0d92d0 70.04px 71.53px,#0d93cf 71.53px 73.02px,#0c94cf 73.02px 74.51px,#0c94cf 74.51px 76.00px,#0c95cf 76.00px 77.49px,#0c95cf 77.49px 78.98px,#0b96cf 78.98px 80.47px,#0b96ce 80.47px 81.96px,#0b97ce 81.96px 83.45px,#0b98ce 83.45px 84.94px,#0b98ce 84.94px 86.43px,#0a99ce 86.43px 87.92px,#0a99cd 87.92px 89.41px,#0a9acd 89.41px 90.90px,#099bcd 90.90px 92.39px,#099ccc 92.39px 93.88px,#089dcc 93.88px 95.37px,#089fcc 95.37px 96.86px,#07a0cb 96.86px 98.35px,#07a1cb 98.35px 99.84px,#06a2ca 99.84px 101.33px,#06a3ca 101.33px 102.82px,#07a4c9 102.82px 104.32px,#08a5c7 104.32px 105.81px,#0aa6c6 105.81px 107.30px,#0ba6c5 107.30px 108.79px,#0da7c3 108.79px 110.28px,#0ea8c2 110.28px 111.77px,#10a9c0 111.77px 113.26px,#13aabe 113.26px 114.75px,#15abbb 114.75px 116.24px,#17acb9 116.24px 117.73px,#1aadb7 117.73px 119.22px,#1caeb5 119.22px 120.71px,#1eafb3 120.71px 122.20px,#21b1b0 122.20px 123.69px,#23b2ae 123.69px 125.18px,#25b3ac 125.18px 126.67px,#28b4aa 126.67px 128.16px,#35b8a0 128.16px 129.65px,#4bba95 129.65px 131.14px,#60bc8b 131.14px 132.63px,#76bd80 132.63px 134.12px,#8bbf76 134.12px 135.61px,#90bf73 135.61px 137.10px,#1060dd 137.10px 138.00px,transparent 138.00px 151.70px,#1383d5 151.70px 153.40px,#099dcc 153.40px 155.40px,#aabd69 155.40px 156.87px,#aabd69 156.87px 158.34px,#aabd69 158.34px 159.81px,#a6bd6a 159.81px 161.28px,#97be70 161.28px 162.75px,#88bf76 162.75px 164.22px,#77be7f 164.22px 165.69px,#65bc88 165.69px 167.16px,#53ba91 167.16px 168.63px,#41b99a 168.63px 170.09px,#33b8a1 170.09px 171.56px,#2eb7a4 171.56px 173.03px,#2bb6a6 173.03px 174.50px,#29b5a9 174.50px 175.97px,#26b3ab 175.97px 177.44px,#24b2ae 177.44px 178.91px,#21b1b0 178.91px 180.38px,#1fb0b2 180.38px 181.85px,#1caeb5 181.85px 183.32px,#1aadb7 183.32px 184.79px,#17acba 184.79px 186.26px,#14abbc 186.26px 187.73px,#12a9be 187.73px 189.20px,#0fa8c1 189.20px 190.67px,#0ea7c2 190.67px 192.14px,#0da7c3 192.14px 193.61px,#0da7c4 193.61px 195.08px,#0ca7c4 195.08px 196.55px,#0ba6c5 196.55px 198.01px,#0ba6c5 198.01px 199.48px,#0aa6c6 199.48px 200.95px,#0aa5c6 200.95px 202.42px,#09a5c7 202.42px 203.89px,#08a5c7 203.89px 205.36px,#08a5c8 205.36px 206.83px,#07a4c8 206.83px 208.30px,#07a4c9 208.30px 209.77px,#06a4ca 209.77px 211.24px,#06a3ca 211.24px 212.71px,#06a3ca 212.71px 214.18px,#07a2ca 214.18px 215.65px,#07a1cb 215.65px 217.12px,#07a0cb 217.12px 218.59px,#08a0cb 218.59px 220.06px,#089fcb 220.06px 221.53px,#089ecc 221.53px 223.00px,#089dcc 223.00px 224.47px,#099dcc 224.47px 225.93px,#099ccc 225.93px 227.40px,#099bcd 227.40px 228.87px,#099bcd 228.87px 230.34px,#0a9acd 230.34px 231.81px,#0a99cd 231.81px 233.28px,#0a99ce 233.28px 234.75px,#0b98ce 234.75px 236.22px,#0b97ce 236.22px 237.69px,#0b97ce 237.69px 239.16px,#0b96ce 239.16px 240.63px,#0c96cf 240.63px 242.10px,#0c95cf 242.10px 243.57px,#0c94cf 243.57px 245.04px,#0c94cf 245.04px 246.51px,#0d93d0 246.51px 247.98px,#0d92d0 247.98px 249.45px,#0d92d0 249.45px 250.92px,#0d91d0 250.92px 252.39px,#0e90d0 252.39px 253.85px,#0e90d1 253.85px 255.32px,#0e8fd1 255.32px 256.79px,#0e8ed1 256.79px 258.26px,#0f8ed1 258.26px 259.73px,#0f8ed1 259.73px 261.20px,#0f8dd2 261.20px 262.67px,#0f8dd2 262.67px 264.14px,#0f8cd2 264.14px 265.61px,#0f8cd2 265.61px 267.08px,#108bd2 267.08px 268.55px,#108bd2 268.55px 270.02px,#108bd2 270.02px 271.49px,#108ad3 271.49px 272.96px,#108ad3 272.96px 274.43px,#1089d3 274.43px 275.90px,#1189d3 275.90px 277.37px,#1189d3 277.37px 278.84px,#1188d3 278.84px 280.31px,#1188d3 280.31px 281.77px,#1187d4 281.77px 283.24px,#1187d4 283.24px 284.71px,#1286d4 284.71px 286.18px,#1286d4 286.18px 287.65px,#1286d4 287.65px 289.12px,#1285d4 289.12px 290.59px,#1285d4 290.59px 292.06px,#1285d4 292.06px 293.53px,#1285d4 293.53px 295.00px)"></div>
<div class="r" style="top:262.92px;height:8.73px;background:linear-gradient(90deg,#126fd9 0.00px 1.49px,#126fd9 1.49px 2.98px,#126fd9 2.98px 4.47px,#1270d9 4.47px 5.96px,#1270d9 5.96px 7.45px,#1271d9 7.45px 8.94px,#1271d9 8.94px 10.43px,#1272d9 10.43px 11.92px,#1272d9 11.92px 13.41px,#1273d9 13.41px 14.90px,#1273d9 14.90px 16.39px,#1274d8 16.39px 17.88px,#1274d8 17.88px 19.37px,#1275d8 19.37px 20.86px,#1275d8 20.86px 22.35px,#1376d8 22.35px 23.84px,#1376d8 23.84px 25.33px,#1377d8 25.33px 26.82px,#1377d8 26.82px 28.31px,#1378d8 28.31px 29.80px,#1379d7 29.80px 31.29px,#1379d7 31.29px 32.78px,#137ad7 32.78px 34.28px,#137ad7 34.28px 35.77px,#137bd7 35.77px 37.26px,#137cd7 37.26px 38.75px,#137dd7 38.75px 40.24px,#137ed6 40.24px 41.73px,#147fd6 41.73px 43.22px,#1480d6 43.22px 44.71px,#1481d6 44.71px 46.20px,#1482d5 46.20px 47.69px,#1382d5 47.69px 49.18px,#1383d5 49.18px 50.67px,#1284d4 50.67px 52.16px,#1285d4 52.16px 53.65px,#1286d4 53.65px 55.14px,#1187d4 55.14px 56.63px,#1188d3 56.63px 58.12px,#1089d3 58.12px 59.61px,#108ad3 59.61px 61.10px,#108bd2 61.10px 62.59px,#0f8cd2 62.59px 64.08px,#0f8dd2 64.08px 65.57px,#0f8ed1 65.57px 67.06px,#0e8fd1 67.06px 68.55px,#0e90d1 68.55px 70.04px,#0d91d0 70.04px 71.53px,#0d92d0 71.53px 73.02px,#0d92d0 73.02px 74.51px,#0d93d0 74.51px 76.00px,#0d93d0 76.00px 77.49px,#0c93cf 77.49px 78.98px,#0c94cf 78.98px 80.47px,#0c94cf 80.47px 81.96px,#0c95cf 81.96px 83.45px,#0c95cf 83.45px 84.94px,#0c96cf 84.94px 86.43px,#0b96ce 86.43px 87.92px,#0b97ce 87.92px 89.41px,#0b97ce 89.41px 90.90px,#0b98ce 90.90px 92.39px,#0a99cd 92.39px 93.88px,#0a9acd 93.88px 95.37px,#099bcd 95.37px 96.86px,#099ccc 96.86px 98.35px,#099dcc 98.35px 99.84px,#089ecc 99.84px 101.33px,#089fcb 101.33px 102.82px,#07a0cb 102.82px 104.32px,#07a1cb 104.32px 105.81px,#07a2ca 105.81px 107.30px,#06a3ca 107.30px 108.79px,#06a4c9 108.79px 110.28px,#08a5c8 110.28px 111.77px,#0aa6c6 111.77px 113.26px,#0ca7c4 113.26px 114.75px,#0fa8c1 114.75px 116.24px,#11a9bf 116.24px 117.73px,#13aabd 117.73px 119.22px,#16abbb 119.22px 120.71px,#18acb9 120.71px 122.20px,#1aadb7 122.20px 123.69px,#1dafb4 123.69px 125.18px,#1fb0b2 125.18px 126.67px,#21b1b0 126.67px 128.16px,#2ab5a8 128.16px 129.65px,#37b89f 129.65px 131.14px,#4aba96 131.14px 132.63px,#5dbb8c 132.63px 134.12px,#70bd83 134.12px 135.61px,#75bd80 135.61px 137.10px,#1066db 137.10px 138.00px,transparent 138.00px 151.70px,#1066db 151.70px 153.40px,#099dcc 153.40px 155.40px,#84bf79 155.40px 156.87px,#84bf79 156.87px 158.34px,#84bf79 158.34px 159.81px,#7fbe7b 159.81px 161.28px,#6ebd83 161.28px 162.75px,#5ebb8c 162.75px 164.22px,#4dba94 164.22px 165.69px,#3db89c 165.69px 167.16px,#2db7a4 167.16px 168.63px,#26b3ab 168.63px 170.09px,#21b1b1 170.09px 171.56px,#1fb0b2 171.56px 173.03px,#1dafb4 173.03px 174.50px,#1baeb6 174.50px 175.97px,#19adb8 175.97px 177.44px,#17acb9 177.44px 178.91px,#15abbb 178.91px 180.38px,#14aabd 180.38px 181.85px,#12a9bf 181.85px 183.32px,#10a9c0 183.32px 184.79px,#0ea8c2 184.79px 186.26px,#0ca7c4 186.26px 187.73px,#0aa6c6 187.73px 189.20px,#09a5c7 189.20px 190.67px,#07a4c8 190.67px 192.14px,#07a4c9 192.14px 193.61px,#07a4c9 193.61px 195.08px,#07a4c9 195.08px 196.55px,#06a4c9 196.55px 198.01px,#06a4c9 198.01px 199.48px,#06a4ca 199.48px 200.95px,#06a4ca 200.95px 202.42px,#06a3ca 202.42px 203.89px,#06a3ca 203.89px 205.36px,#06a3ca 205.36px 206.83px,#06a3ca 206.83px 208.30px,#06a3ca 208.30px 209.77px,#06a2ca 209.77px 211.24px,#07a2ca 211.24px 212.71px,#07a2cb 212.71px 214.18px,#07a1cb 214.18px 215.65px,#07a1cb 215.65px 217.12px,#07a0cb 217.12px 218.59px,#08a0cb 218.59px 220.06px,#089fcb 220.06px 221.53px,#089fcc 221.53px 223.00px,#089ecc 223.00px 224.47px,#089dcc 224.47px 225.93px,#099dcc 225.93px 227.40px,#099ccc 227.40px 228.87px,#099bcd 228.87px 230.34px,#0a9bcd 230.34px 231.81px,#0a9acd 231.81px 233.28px,#0a99cd 233.28px 234.75px,#0a99ce 234.75px 236.22px,#0b98ce 236.22px 237.69px,#0b97ce 237.69px 239.16px,#0b97ce 239.16px 240.63px,#0b96cf 240.63px 242.10px,#0c95cf 242.10px 243.57px,#0c94cf 243.57px 245.04px,#0c94cf 245.04px 246.51px,#0d93cf 246.51px 247.98px,#0d92d0 247.98px 249.45px,#0d92d0 249.45px 250.92px,#0d91d0 250.92px 252.39px,#0e90d0 252.39px 253.85px,#0e90d1 253.85px 255.32px,#0e8fd1 255.32px 256.79px,#0e8ed1 256.79px 258.26px,#0f8ed1 258.26px 259.73px,#0f8ed1 259.73px 261.20px,#0f8dd1 261.20px 262.67px,#0f8dd2 262.67px 264.14px,#0f8dd2 264.14px 265.61px,#0f8cd2 265.61px 267.08px,#0f8cd2 267.08px 268.55px,#108cd2 268.55px 270.02px,#108bd2 270.02px 271.49px,#108bd2 271.49px 272.96px,#108ad2 272.96px 274.43px,#108ad3 274.43px 275.90px,#108ad3 275.90px 277.37px,#1089d3 277.37px 278.84px,#1189d3 278.84px 280.31px,#1189d3 280.31px 281.77px,#1188d3 281.77px 283.24px,#1188d3 283.24px 284.71px,#1188d3 284.71px 286.18px,#1187d4 286.18px 287.65px,#1187d4 287.65px 289.12px,#1187d4 289.12px 290.59px,#1286d4 290.59px 292.06px,#1286d4 292.06px 293.53px,#1286d4 293.53px 295.00px)"></div>
<div class="r" style="top:271.59px;height:8.73px;background:linear-gradient(90deg,#126fd9 0.00px 1.49px,#126fd9 1.49px 2.98px,#126fd9 2.98px 4.47px,#1270d9 4.47px 5.96px,#1270d9 5.96px 7.45px,#1271d9 7.45px 8.94px,#1271d9 8.94px 10.43px,#1272d9 10.43px 11.92px,#1272d9 11.92px 13.41px,#1273d9 13.41px 14.90px,#1273d9 14.90px 16.39px,#1274d8 16.39px 17.88px,#1274d8 17.88px 19.37px,#1275d8 19.37px 20.86px,#1275d8 20.86px 22.35px,#1376d8 22.35px 23.84px,#1376d8 23.84px 25.33px,#1377d8 25.33px 26.82px,#1377d8 26.82px 28.31px,#1378d8 28.31px 29.80px,#1379d7 29.80px 31.29px,#1379d7 31.29px 32.78px,#137ad7 32.78px 34.28px,#137ad7 34.28px 35.77px,#137bd7 35.77px 37.26px,#137bd7 37.26px 38.75px,#137cd7 38.75px 40.24px,#137dd6 40.24px 41.73px,#147ed6 41.73px 43.22px,#147fd6 43.22px 44.71px,#1480d6 44.71px 46.20px,#1481d6 46.20px 47.69px,#1382d5 47.69px 49.18px,#1383d5 49.18px 50.67px,#1384d5 50.67px 52.16px,#1285d4 52.16px 53.65px,#1286d4 53.65px 55.14px,#1187d4 55.14px 56.63px,#1188d3 56.63px 58.12px,#1189d3 58.12px 59.61px,#108ad3 59.61px 61.10px,#108ad2 61.10px 62.59px,#108bd2 62.59px 64.08px,#0f8cd2 64.08px 65.57px,#0f8dd1 65.57px 67.06px,#0e8ed1 67.06px 68.55px,#0e8fd1 68.55px 70.04px,#0e90d1 70.04px 71.53px,#0d91d0 71.53px 73.02px,#0d91d0 73.02px 74.51px,#0d92d0 74.51px 76.00px,#0d92d0 76.00px 77.49px,#0d92d0 77.49px 78.98px,#0d93d0 78.98px 80.47px,#0c93cf 80.47px 81.96px,#0c94cf 81.96px 83.45px,#0c94cf 83.45px 84.94px,#0c95cf 84.94px 86.43px,#0c95cf 86.43px 87.92px,#0c96cf 87.92px 89.41px,#0b96ce 89.41px 90.90px,#0b97ce 90.90px 92.39px,#0b97ce 92.39px 93.88px,#0a98ce 93.88px 95.37px,#0a99cd 95.37px 96.86px,#0a9acd 96.86px 98.35px,#0a9acd 98.35px 99.84px,#099bcd 99.84px 101.33px,#099ccc 101.33px 102.82px,#099dcc 102.82px 104.32px,#089dcc 104.32px 105.81px,#089ecc 105.81px 107.30px,#089fcb 107.30px 108.79px,#07a0cb 108.79px 110.28px,#07a1cb 110.28px 111.77px,#07a2ca 111.77px 113.26px,#06a3ca 113.26px 114.75px,#07a4c9 114.75px 116.24px,#08a5c8 116.24px 117.73px,#0aa5c6 117.73px 119.22px,#0ba6c5 119.22px 120.71px,#0ca7c4 120.71px 122.20px,#0ea8c2 122.20px 123.69px,#0fa8c1 123.69px 125.18px,#11a9c0 125.18px 126.67px,#12aabe 126.67px 128.16px,#17acb9 128.16px 129.65px,#1dafb4 129.65px 131.14px,#22b1af 131.14px 132.63px,#27b4aa 132.63px 134.12px,#2cb6a5 134.12px 135.61px,#2eb7a4 135.61px 137.10px,#0e8fd1 137.10px 138.00px,transparent 138.00px 151.70px,#1066db 151.70px 153.40px,#099dcc 153.40px 155.40px,#4fba93 155.40px 156.87px,#4fba93 156.87px 158.34px,#4fba93 158.34px 159.81px,#4bba95 159.81px 161.28px,#3eb89c 161.28px 162.75px,#30b7a3 162.75px 164.22px,#29b4a9 164.22px 165.69px,#23b2af 165.69px 167.16px,#1cafb4 167.16px 168.63px,#16acba 168.63px 170.09px,#12a9be 170.09px 171.56px,#11a9bf 171.56px 173.03px,#10a8c0 173.03px 174.50px,#0fa8c1 174.50px 175.97px,#0ea8c2 175.97px 177.44px,#0da7c3 177.44px 178.91px,#0ca7c4 178.91px 180.38px,#0ba6c5 180.38px 181.85px,#0aa6c6 181.85px 183.32px,#09a5c7 183.32px 184.79px,#08a5c8 184.79px 186.26px,#07a4c9 186.26px 187.73px,#06a4ca 187.73px 189.20px,#06a3ca 189.20px 190.67px,#06a2ca 190.67px 192.14px,#07a2ca 192.14px 193.61px,#07a2ca 193.61px 195.08px,#07a2ca 195.08px 196.55px,#07a2ca 196.55px 198.01px,#07a2ca 198.01px 199.48px,#07a2ca 199.48px 200.95px,#07a2ca 200.95px 202.42px,#07a2ca 202.42px 203.89px,#07a2cb 203.89px 205.36px,#07a2cb 205.36px 206.83px,#07a2cb 206.83px 208.30px,#07a1cb 208.30px 209.77px,#07a1cb 209.77px 211.24px,#07a1cb 211.24px 212.71px,#07a1cb 212.71px 214.18px,#07a0cb 214.18px 215.65px,#08a0cb 215.65px 217.12px,#089fcb 217.12px 218.59px,#089fcc 218.59px 220.06px,#089ecc 220.06px 221.53px,#089ecc 221.53px 223.00px,#099dcc 223.00px 224.47px,#099dcc 224.47px 225.93px,#099ccc 225.93px 227.40px,#099bcd 227.40px 228.87px,#0a9bcd 228.87px 230.34px,#0a9acd 230.34px 231.81px,#0a99cd 231.81px 233.28px,#0a99ce 233.28px 234.75px,#0b98ce 234.75px 236.22px,#0b97ce 236.22px 237.69px,#0b97ce 237.69px 239.16px,#0b96ce 239.16px 240.63px,#0c95cf 240.63px 242.10px,#0c95cf 242.10px 243.57px,#0c94cf 243.57px 245.04px,#0c93cf 245.04px 246.51px,#0d93d0 246.51px 247.98px,#0d92d0 247.98px 249.45px,#0d92d0 249.45px 250.92px,#0d91d0 250.92px 252.39px,#0e90d0 252.39px 253.85px,#0e90d1 253.85px 255.32px,#0e8fd1 255.32px 256.79px,#0e8ed1 256.79px 258.26px,#0f8ed1 258.26px 259.73px,#0f8ed1 259.73px 261.20px,#0f8dd1 261.20px 262.67px,#0f8dd2 262.67px 264.14px,#0f8cd2 264.14px 265.61px,#0f8cd2 265.61px 267.08px,#0f8cd2 267.08px 268.55px,#108bd2 268.55px 270.02px,#108bd2 270.02px 271.49px,#108ad2 271.49px 272.96px,#108ad3 272.96px 274.43px,#108ad3 274.43px 275.90px,#1089d3 275.90px 277.37px,#1189d3 277.37px 278.84px,#1188d3 278.84px 280.31px,#1188d3 280.31px 281.77px,#1188d3 281.77px 283.24px,#1187d4 283.24px 284.71px,#1187d4 284.71px 286.18px,#1286d4 286.18px 287.65px,#1286d4 287.65px 289.12px,#1286d4 289.12px 290.59px,#1285d4 290.59px 292.06px,#1285d4 292.06px 293.53px,#1285d4 293.53px 295.00px)"></div>
<div class="r" style="top:280.27px;height:8.73px;background:linear-gradient(90deg,#126fd9 0.00px 1.49px,#126fd9 1.49px 2.98px,#126fd9 2.98px 4.47px,#1270d9 4.47px 5.96px,#1270d9 5.96px 7.45px,#1271d9 7.45px 8.94px,#1271d9 8.94px 10.43px,#1272d9 10.43px 11.92px,#1272d9 11.92px 13.41px,#1273d9 13.41px 14.90px,#1273d9 14.90px 16.39px,#1274d8 16.39px 17.88px,#1274d8 17.88px 19.37px,#1275d8 19.37px 20.86px,#1275d8 20.86px 22.35px,#1376d8 22.35px 23.84px,#1376d8 23.84px 25.33px,#1377d8 25.33px 26.82px,#1377d8 26.82px 28.31px,#1378d8 28.31px 29.80px,#1379d7 29.80px 31.29px,#1379d7 31.29px 32.78px,#137ad7 32.78px 34.28px,#137ad7 34.28px 35.77px,#137bd7 35.77px 37.26px,#137bd7 37.26px 38.75px,#137cd7 38.75px 40.24px,#137dd6 40.24px 41.73px,#147ed6 41.73px 43.22px,#147fd6 43.22px 44.71px,#1480d6 44.71px 46.20px,#1481d6 46.20px 47.69px,#1382d5 47.69px 49.18px,#1383d5 49.18px 50.67px,#1384d5 50.67px 52.16px,#1285d4 52.16px 53.65px,#1285d4 53.65px 55.14px,#1286d4 55.14px 56.63px,#1187d4 56.63px 58.12px,#1188d3 58.12px 59.61px,#1189d3 59.61px 61.10px,#108ad3 61.10px 62.59px,#108bd2 62.59px 64.08px,#108cd2 64.08px 65.57px,#0f8cd2 65.57px 67.06px,#0f8dd1 67.06px 68.55px,#0e8ed1 68.55px 70.04px,#0e8fd1 70.04px 71.53px,#0e90d1 71.53px 73.02px,#0e90d0 73.02px 74.51px,#0d91d0 74.51px 76.00px,#0d91d0 76.00px 77.49px,#0d92d0 77.49px 78.98px,#0d92d0 78.98px 80.47px,#0d92d0 80.47px 81.96px,#0d93d0 81.96px 83.45px,#0c93cf 83.45px 84.94px,#0c94cf 84.94px 86.43px,#0c94cf 86.43px 87.92px,#0c95cf 87.92px 89.41px,#0c95cf 89.41px 90.90px,#0c96cf 90.90px 92.39px,#0b96ce 92.39px 93.88px,#0b97ce 93.88px 95.37px,#0b97ce 95.37px 96.86px,#0b97ce 96.86px 98.35px,#0b98ce 98.35px 99.84px,#0a98ce 99.84px 101.33px,#0a99cd 101.33px 102.82px,#0a99cd 102.82px 104.32px,#0a9acd 104.32px 105.81px,#0a9acd 105.81px 107.30px,#099bcd 107.30px 108.79px,#099bcd 108.79px 110.28px,#099ccd 110.28px 111.77px,#099ccc 111.77px 113.26px,#099dcc 113.26px 114.75px,#089dcc 114.75px 116.24px,#089ecc 116.24px 117.73px,#089ecc 117.73px 119.22px,#089fcb 119.22px 120.71px,#089fcb 120.71px 122.20px,#07a0cb 122.20px 123.69px,#07a0cb 123.69px 125.18px,#07a1cb 125.18px 126.67px,#07a1cb 126.67px 128.16px,#06a3ca 128.16px 129.65px,#07a4c9 129.65px 131.14px,#09a5c7 131.14px 132.63px,#0ba6c5 132.63px 134.12px,#0da7c3 134.12px 135.61px,#0ea8c2 135.61px 137.10px,#1272d9 137.10px 138.00px,transparent 138.00px 151.70px,#1272d9 151.70px 153.40px,#099dcc 153.40px 155.40px,#25b3ac 155.40px 156.87px,#25b3ac 156.87px 158.34px,#25b3ac 158.34px 159.81px,#24b2ad 159.81px 161.28px,#1fb0b2 161.28px 162.75px,#1aadb7 162.75px 164.22px,#15abbb 164.22px 165.69px,#10a9c0 165.69px 167.16px,#0ba6c5 167.16px 168.63px,#06a4c9 168.63px 170.09px,#07a1cb 170.09px 171.56px,#07a1cb 171.56px 173.03px,#07a1cb 173.03px 174.50px,#07a1cb 174.50px 175.97px,#07a1cb 175.97px 177.44px,#07a1cb 177.44px 178.91px,#07a0cb 178.91px 180.38px,#07a0cb 180.38px 181.85px,#07a0cb 181.85px 183.32px,#07a0cb 183.32px 184.79px,#07a0cb 184.79px 186.26px,#07a0cb 186.26px 187.73px,#08a0cb 187.73px 189.20px,#08a0cb 189.20px 190.67px,#089fcb 190.67px 192.14px,#08a0cb 192.14px 193.61px,#08a0cb 193.61px 195.08px,#08a0cb 195.08px 196.55px,#07a0cb 196.55px 198.01px,#07a0cb 198.01px 199.48px,#07a0cb 199.48px 200.95px,#07a0cb 200.95px 202.42px,#07a0cb 202.42px 203.89px,#07a0cb 203.89px 205.36px,#07a0cb 205.36px 206.83px,#07a0cb 206.83px 208.30px,#07a0cb 208.30px 209.77px,#07a0cb 209.77px 211.24px,#07a0cb 211.24px 212.71px,#08a0cb 212.71px 214.18px,#089fcb 214.18px 215.65px,#089fcc 215.65px 217.12px,#089ecc 217.12px 218.59px,#089ecc 218.59px 220.06px,#089dcc 220.06px 221.53px,#099dcc 221.53px 223.00px,#099ccc 223.00px 224.47px,#099ccd 224.47px 225.93px,#099bcd 225.93px 227.40px,#0a9acd 227.40px 228.87px,#0a9acd 228.87px 230.34px,#0a99cd 230.34px 231.81px,#0a99ce 231.81px 233.28px,#0b98ce 233.28px 234.75px,#0b97ce 234.75px 236.22px,#0b97ce 236.22px 237.69px,#0b96ce 237.69px 239.16px,#0c96cf 239.16px 240.63px,#0c95cf 240.63px 242.10px,#0c94cf 242.10px 243.57px,#0c94cf 243.57px 245.04px,#0c93cf 245.04px 246.51px,#0d93d0 246.51px 247.98px,#0d92d0 247.98px 249.45px,#0d91d0 249.45px 250.92px,#0d91d0 250.92px 252.39px,#0e90d0 252.39px 253.85px,#0e90d1 253.85px 255.32px,#0e8fd1 255.32px 256.79px,#0e8ed1 256.79px 258.26px,#0f8ed1 258.26px 259.73px,#0f8ed1 259.73px 261.20px,#0f8dd2 261.20px 262.67px,#0f8dd2 262.67px 264.14px,#0f8cd2 264.14px 265.61px,#0f8cd2 265.61px 267.08px,#108bd2 267.08px 268.55px,#108bd2 268.55px 270.02px,#108ad2 270.02px 271.49px,#108ad3 271.49px 272.96px,#108ad3 272.96px 274.43px,#1089d3 274.43px 275.90px,#1189d3 275.90px 277.37px,#1188d3 277.37px 278.84px,#1188d3 278.84px 280.31px,#1187d3 280.31px 281.77px,#1187d4 281.77px 283.24px,#1287d4 283.24px 284.71px,#1286d4 284.71px 286.18px,#1286d4 286.18px 287.65px,#1285d4 287.65px 289.12px,#1285d4 289.12px 290.59px,#1284d5 290.59px 292.06px,#1284d5 292.06px 293.53px,#1284d5 293.53px 295.00px)"></div>
<div class="r" style="top:288.95px;height:8.73px;background:linear-gradient(90deg,#126fd9 0.00px 1.49px,#126fd9 1.49px 2.98px,#126fd9 2.98px 4.47px,#1270d9 4.47px 5.96px,#1270d9 5.96px 7.45px,#1271d9 7.45px 8.94px,#1271d9 8.94px 10.43px,#1272d9 10.43px 11.92px,#1272d9 11.92px 13.41px,#1273d9 13.41px 14.90px,#1273d9 14.90px 16.39px,#1274d8 16.39px 17.88px,#1274d8 17.88px 19.37px,#1275d8 19.37px 20.86px,#1275d8 20.86px 22.35px,#1376d8 22.35px 23.84px,#1376d8 23.84px 25.33px,#1377d8 25.33px 26.82px,#1377d8 26.82px 28.31px,#1378d8 28.31px 29.80px,#1379d7 29.80px 31.29px,#1379d7 31.29px 32.78px,#137ad7 32.78px 34.28px,#137ad7 34.28px 35.77px,#137bd7 35.77px 37.26px,#137bd7 37.26px 38.75px,#137cd7 38.75px 40.24px,#137dd7 40.24px 41.73px,#147ed6 41.73px 43.22px,#147fd6 43.22px 44.71px,#1480d6 44.71px 46.20px,#1481d6 46.20px 47.69px,#1382d5 47.69px 49.18px,#1382d5 49.18px 50.67px,#1383d5 50.67px 52.16px,#1284d5 52.16px 53.65px,#1285d4 53.65px 55.14px,#1286d4 55.14px 56.63px,#1187d4 56.63px 58.12px,#1187d3 58.12px 59.61px,#1188d3 59.61px 61.10px,#1089d3 61.10px 62.59px,#108ad3 62.59px 64.08px,#108bd2 64.08px 65.57px,#0f8cd2 65.57px 67.06px,#0f8cd2 67.06px 68.55px,#0f8dd1 68.55px 70.04px,#0e8ed1 70.04px 71.53px,#0e8fd1 71.53px 73.02px,#0e8fd1 73.02px 74.51px,#0e90d1 74.51px 76.00px,#0e90d0 76.00px 77.49px,#0e91d0 77.49px 78.98px,#0d91d0 78.98px 80.47px,#0d91d0 80.47px 81.96px,#0d92d0 81.96px 83.45px,#0d92d0 83.45px 84.94px,#0d93d0 84.94px 86.43px,#0c93cf 86.43px 87.92px,#0c94cf 87.92px 89.41px,#0c94cf 89.41px 90.90px,#0c94cf 90.90px 92.39px,#0c95cf 92.39px 93.88px,#0c95cf 93.88px 95.37px,#0c95cf 95.37px 96.86px,#0c95cf 96.86px 98.35px,#0c95cf 98.35px 99.84px,#0c96cf 99.84px 101.33px,#0b96cf 101.33px 102.82px,#0b96ce 102.82px 104.32px,#0b96ce 104.32px 105.81px,#0b96ce 105.81px 107.30px,#0b97ce 107.30px 108.79px,#0b97ce 108.79px 110.28px,#0b97ce 110.28px 111.77px,#0b97ce 111.77px 113.26px,#0b97ce 113.26px 114.75px,#0b96ce 114.75px 116.24px,#0b96ce 116.24px 117.73px,#0b96cf 117.73px 119.22px,#0c95cf 119.22px 120.71px,#0c95cf 120.71px 122.20px,#0c95cf 122.20px 123.69px,#0c95cf 123.69px 125.18px,#0c94cf 125.18px 126.67px,#0c94cf 126.67px 128.16px,#0c93cf 128.16px 129.65px,#0d92d0 129.65px 131.14px,#0d91d0 131.14px 132.63px,#0e90d1 132.63px 134.12px,#0e8fd1 134.12px 135.61px,#0e8fd1 135.61px 137.10px,#1752cc 137.10px 138.00px,transparent 138.00px 151.70px,#1189d3 151.70px 153.40px,#099dcc 153.40px 155.40px,#0ea8c2 155.40px 156.87px,#0ea8c2 156.87px 158.34px,#0ea8c2 158.34px 159.81px,#0da7c3 159.81px 161.28px,#09a5c7 161.28px 162.75px,#06a3ca 162.75px 164.22px,#07a0cb 164.22px 165.69px,#099dcc 165.69px 167.16px,#0a9acd 167.16px 168.63px,#0b96ce 168.63px 170.09px,#0c94cf 170.09px 171.56px,#0c95cf 171.56px 173.03px,#0c96cf 173.03px 174.50px,#0b96ce 174.50px 175.97px,#0b97ce 175.97px 177.44px,#0b97ce 177.44px 178.91px,#0b98ce 178.91px 180.38px,#0a99ce 180.38px 181.85px,#0a99cd 181.85px 183.32px,#0a9acd 183.32px 184.79px,#0a9acd 184.79px 186.26px,#099bcd 186.26px 187.73px,#099ccd 187.73px 189.20px,#099ccc 189.20px 190.67px,#099dcc 190.67px 192.14px,#099dcc 192.14px 193.61px,#099dcc 193.61px 195.08px,#089dcc 195.08px 196.55px,#089ecc 196.55px 198.01px,#089ecc 198.01px 199.48px,#089ecc 199.48px 200.95px,#089ecc 200.95px 202.42px,#089ecc 202.42px 203.89px,#089fcc 203.89px 205.36px,#089fcb 205.36px 206.83px,#089fcb 206.83px 208.30px,#089fcb 208.30px 209.77px,#089fcb 209.77px 211.24px,#089fcb 211.24px 212.71px,#089fcc 212.71px 214.18px,#089ecc 214.18px 215.65px,#089ecc 215.65px 217.12px,#089dcc 217.12px 218.59px,#099dcc 218.59px 220.06px,#099ccc 220.06px 221.53px,#099ccd 221.53px 223.00px,#099bcd 223.00px 224.47px,#099bcd 224.47px 225.93px,#0a9acd 225.93px 227.40px,#0a9acd 227.40px 228.87px,#0a99cd 228.87px 230.34px,#0a98ce 230.34px 231.81px,#0b98ce 231.81px 233.28px,#0b97ce 233.28px 234.75px,#0b97ce 234.75px 236.22px,#0b96ce 236.22px 237.69px,#0b96cf 237.69px 239.16px,#0c95cf 239.16px 240.63px,#0c95cf 240.63px 242.10px,#0c94cf 242.10px 243.57px,#0c93cf 243.57px 245.04px,#0d93d0 245.04px 246.51px,#0d92d0 246.51px 247.98px,#0d92d0 247.98px 249.45px,#0d91d0 249.45px 250.92px,#0e91d0 250.92px 252.39px,#0e90d1 252.39px 253.85px,#0e8fd1 253.85px 255.32px,#0e8fd1 255.32px 256.79px,#0e8ed1 256.79px 258.26px,#0f8ed1 258.26px 259.73px,#0f8dd1 259.73px 261.20px,#0f8dd2 261.20px 262.67px,#0f8cd2 262.67px 264.14px,#0f8cd2 264.14px 265.61px,#108cd2 265.61px 267.08px,#108bd2 267.08px 268.55px,#108bd2 268.55px 270.02px,#108ad3 270.02px 271.49px,#108ad3 271.49px 272.96px,#1089d3 272.96px 274.43px,#1189d3 274.43px 275.90px,#1188d3 275.90px 277.37px,#1188d3 277.37px 278.84px,#1187d4 278.84px 280.31px,#1187d4 280.31px 281.77px,#1286d4 281.77px 283.24px,#1286d4 283.24px 284.71px,#1285d4 284.71px 286.18px,#1285d4 286.18px 287.65px,#1284d5 287.65px 289.12px,#1384d5 289.12px 290.59px,#1383d5 290.59px 292.06px,#1383d5 292.06px 293.53px,#1383d5 293.53px 295.00px)"></div>
<div class="r" style="top:297.62px;height:8.73px;background:linear-gradient(90deg,#126fd9 0.00px 1.49px,#126fd9 1.49px 2.98px,#126fd9 2.98px 4.47px,#1270d9 4.47px 5.96px,#1270d9 5.96px 7.45px,#1271d9 7.45px 8.94px,#1271d9 8.94px 10.43px,#1272d9 10.43px 11.92px,#1272d9 11.92px 13.41px,#1273d9 13.41px 14.90px,#1273d9 14.90px 16.39px,#1274d8 16.39px 17.88px,#1274d8 17.88px 19.37px,#1275d8 19.37px 20.86px,#1275d8 20.86px 22.35px,#1376d8 22.35px 23.84px,#1376d8 23.84px 25.33px,#1377d8 25.33px 26.82px,#1377d8 26.82px 28.31px,#1378d8 28.31px 29.80px,#1379d7 29.80px 31.29px,#1379d7 31.29px 32.78px,#137ad7 32.78px 34.28px,#137ad7 34.28px 35.77px,#137bd7 35.77px 37.26px,#137bd7 37.26px 38.75px,#137cd7 38.75px 40.24px,#137dd7 40.24px 41.73px,#147ed6 41.73px 43.22px,#147fd6 43.22px 44.71px,#1480d6 44.71px 46.20px,#1481d6 46.20px 47.69px,#1382d5 47.69px 49.18px,#1382d5 49.18px 50.67px,#1383d5 50.67px 52.16px,#1284d5 52.16px 53.65px,#1285d4 53.65px 55.14px,#1286d4 55.14px 56.63px,#1187d4 56.63px 58.12px,#1187d3 58.12px 59.61px,#1188d3 59.61px 61.10px,#1089d3 61.10px 62.59px,#108ad3 62.59px 64.08px,#108bd2 64.08px 65.57px,#0f8cd2 65.57px 67.06px,#0f8cd2 67.06px 68.55px,#0f8dd1 68.55px 70.04px,#0e8ed1 70.04px 71.53px,#0e8fd1 71.53px 73.02px,#0e8fd1 73.02px 74.51px,#0e90d1 74.51px 76.00px,#0e90d0 76.00px 77.49px,#0e91d0 77.49px 78.98px,#0d91d0 78.98px 80.47px,#0d91d0 80.47px 81.96px,#0d92d0 81.96px 83.45px,#0d92d0 83.45px 84.94px,#0d93d0 84.94px 86.43px,#0c93cf 86.43px 87.92px,#0c94cf 87.92px 89.41px,#0c94cf 89.41px 90.90px,#0c94cf 90.90px 92.39px,#0c94cf 92.39px 93.88px,#0c94cf 93.88px 95.37px,#0c94cf 95.37px 96.86px,#0c94cf 96.86px 98.35px,#0c95cf 98.35px 99.84px,#0c95cf 99.84px 101.33px,#0c95cf 101.33px 102.82px,#0c95cf 102.82px 104.32px,#0c95cf 104.32px 105.81px,#0c95cf 105.81px 107.30px,#0c95cf 107.30px 108.79px,#0c95cf 108.79px 110.28px,#0c95cf 110.28px 111.77px,#0c94cf 111.77px 113.26px,#0c94cf 113.26px 114.75px,#0c94cf 114.75px 116.24px,#0d93cf 116.24px 117.73px,#0d93d0 117.73px 119.22px,#0d92d0 119.22px 120.71px,#0d92d0 120.71px 122.20px,#0d91d0 122.20px 123.69px,#0d91d0 123.69px 125.18px,#0e90d0 125.18px 126.67px,#0e90d1 126.67px 128.16px,#0e8fd1 128.16px 129.65px,#0f8ed1 129.65px 131.14px,#0f8dd2 131.14px 132.63px,#0f8cd2 132.63px 134.12px,#108bd2 134.12px 135.61px,#108ad2 135.61px 137.10px,#1272d9 137.10px 138.00px,transparent 138.00px 151.70px,#1272d9 151.70px 153.40px,#099dcc 153.40px 155.40px,#06a4ca 155.40px 156.87px,#06a4ca 156.87px 158.34px,#06a4ca 158.34px 159.81px,#06a3ca 159.81px 161.28px,#07a0cb 161.28px 162.75px,#089ecc 162.75px 164.22px,#099bcd 164.22px 165.69px,#0a98ce 165.69px 167.16px,#0b96cf 167.16px 168.63px,#0c93cf 168.63px 170.09px,#0d92d0 170.09px 171.56px,#0d92d0 171.56px 173.03px,#0d93cf 173.03px 174.50px,#0c94cf 174.50px 175.97px,#0c94cf 175.97px 177.44px,#0c95cf 177.44px 178.91px,#0b96cf 178.91px 180.38px,#0b97ce 180.38px 181.85px,#0b97ce 181.85px 183.32px,#0b98ce 183.32px 184.79px,#0a99ce 184.79px 186.26px,#0a99cd 186.26px 187.73px,#0a9acd 187.73px 189.20px,#099bcd 189.20px 190.67px,#099bcd 190.67px 192.14px,#099ccd 192.14px 193.61px,#099ccc 193.61px 195.08px,#099ccc 195.08px 196.55px,#099ccc 196.55px 198.01px,#099dcc 198.01px 199.48px,#099dcc 199.48px 200.95px,#099dcc 200.95px 202.42px,#089dcc 202.42px 203.89px,#089ecc 203.89px 205.36px,#089ecc 205.36px 206.83px,#089ecc 206.83px 208.30px,#089ecc 208.30px 209.77px,#089fcc 209.77px 211.24px,#089ecc 211.24px 212.71px,#089ecc 212.71px 214.18px,#089ecc 214.18px 215.65px,#099dcc 215.65px 217.12px,#099dcc 217.12px 218.59px,#099ccc 218.59px 220.06px,#099ccd 220.06px 221.53px,#099bcd 221.53px 223.00px,#0a9bcd 223.00px 224.47px,#0a9acd 224.47px 225.93px,#0a99cd 225.93px 227.40px,#0a99cd 227.40px 228.87px,#0a98ce 228.87px 230.34px,#0b98ce 230.34px 231.81px,#0b97ce 231.81px 233.28px,#0b97ce 233.28px 234.75px,#0b96ce 234.75px 236.22px,#0c96cf 236.22px 237.69px,#0c95cf 237.69px 239.16px,#0c94cf 239.16px 240.63px,#0c94cf 240.63px 242.10px,#0c93cf 242.10px 243.57px,#0d93d0 243.57px 245.04px,#0d92d0 245.04px 246.51px,#0d92d0 246.51px 247.98px,#0d91d0 247.98px 249.45px,#0e90d0 249.45px 250.92px,#0e90d1 250.92px 252.39px,#0e8fd1 252.39px 253.85px,#0e8fd1 253.85px 255.32px,#0e8ed1 255.32px 256.79px,#0f8ed1 256.79px 258.26px,#0f8dd1 258.26px 259.73px,#0f8dd2 259.73px 261.20px,#0f8cd2 261.20px 262.67px,#0f8cd2 262.67px 264.14px,#108bd2 264.14px 265.61px,#108bd2 265.61px 267.08px,#108ad2 267.08px 268.55px,#108ad3 268.55px 270.02px,#1089d3 270.02px 271.49px,#1189d3 271.49px 272.96px,#1188d3 272.96px 274.43px,#1188d3 274.43px 275.90px,#1187d3 275.90px 277.37px,#1187d4 277.37px 278.84px,#1287d4 278.84px 280.31px,#1286d4 280.31px 281.77px,#1286d4 281.77px 283.24px,#1285d4 283.24px 284.71px,#1285d4 284.71px 286.18px,#1284d5 286.18px 287.65px,#1384d5 287.65px 289.12px,#1383d5 289.12px 290.59px,#1383d5 290.59px 292.06px,#1383d5 292.06px 293.53px,#1383d5 293.53px 295.00px)"></div>
<div class="r" style="top:306.30px;height:8.73px;background:linear-gradient(90deg,#126fd9 0.00px 1.49px,#126fd9 1.49px 2.98px,#126fd9 2.98px 4.47px,#1270d9 4.47px 5.96px,#1270d9 5.96px 7.45px,#1271d9 7.45px 8.94px,#1271d9 8.94px 10.43px,#1272d9 10.43px 11.92px,#1272d9 11.92px 13.41px,#1273d9 13.41px 14.90px,#1273d9 14.90px 16.39px,#1274d8 16.39px 17.88px,#1274d8 17.88px 19.37px,#1275d8 19.37px 20.86px,#1275d8 20.86px 22.35px,#1376d8 22.35px 23.84px,#1376d8 23.84px 25.33px,#1377d8 25.33px 26.82px,#1377d8 26.82px 28.31px,#1378d8 28.31px 29.80px,#1379d7 29.80px 31.29px,#1379d7 31.29px 32.78px,#137ad7 32.78px 34.28px,#137ad7 34.28px 35.77px,#137bd7 35.77px 37.26px,#137bd7 37.26px 38.75px,#137cd7 38.75px 40.24px,#137dd7 40.24px 41.73px,#147ed6 41.73px 43.22px,#147fd6 43.22px 44.71px,#1480d6 44.71px 46.20px,#1481d6 46.20px 47.69px,#1382d5 47.69px 49.18px,#1382d5 49.18px 50.67px,#1383d5 50.67px 52.16px,#1284d5 52.16px 53.65px,#1285d4 53.65px 55.14px,#1286d4 55.14px 56.63px,#1187d4 56.63px 58.12px,#1187d3 58.12px 59.61px,#1188d3 59.61px 61.10px,#1089d3 61.10px 62.59px,#108ad3 62.59px 64.08px,#108bd2 64.08px 65.57px,#0f8cd2 65.57px 67.06px,#0f8cd2 67.06px 68.55px,#0f8dd1 68.55px 70.04px,#0e8ed1 70.04px 71.53px,#0e8fd1 71.53px 73.02px,#0e8fd1 73.02px 74.51px,#0e90d1 74.51px 76.00px,#0e90d0 76.00px 77.49px,#0e91d0 77.49px 78.98px,#0d91d0 78.98px 80.47px,#0d91d0 80.47px 81.96px,#0d92d0 81.96px 83.45px,#0d92d0 83.45px 84.94px,#0d93d0 84.94px 86.43px,#0c93cf 86.43px 87.92px,#0c94cf 87.92px 89.41px,#0c94cf 89.41px 90.90px,#0c94cf 90.90px 92.39px,#0c94cf 92.39px 93.88px,#0c94cf 93.88px 95.37px,#0c94cf 95.37px 96.86px,#0c94cf 96.86px 98.35px,#0c94cf 98.35px 99.84px,#0c94cf 99.84px 101.33px,#0c93cf 101.33px 102.82px,#0c93cf 102.82px 104.32px,#0c93cf 104.32px 105.81px,#0d93cf 105.81px 107.30px,#0d93d0 107.30px 108.79px,#0d93d0 108.79px 110.28px,#0d93d0 110.28px 111.77px,#0d92d0 111.77px 113.26px,#0d91d0 113.26px 114.75px,#0d91d0 114.75px 116.24px,#0e90d0 116.24px 117.73px,#0e90d1 117.73px 119.22px,#0e8fd1 119.22px 120.71px,#0e8ed1 120.71px 122.20px,#0f8ed1 122.20px 123.69px,#0f8dd2 123.69px 125.18px,#0f8cd2 125.18px 126.67px,#0f8cd2 126.67px 128.16px,#108bd2 128.16px 129.65px,#108ad3 129.65px 131.14px,#1189d3 131.14px 132.63px,#1188d3 132.63px 134.12px,#1286d4 134.12px 135.61px,#1286d4 135.61px 137.10px,#1060dd 137.10px 138.00px,transparent 138.00px 151.70px,#115ada 151.70px 153.40px,#099dcc 153.40px 155.40px,#099dcc 155.40px 156.87px,#099dcc 156.87px 158.34px,#099dcc 158.34px 159.81px,#099ccc 159.81px 161.28px,#0a9acd 161.28px 162.75px,#0b98ce 162.75px 164.22px,#0b96ce 164.22px 165.69px,#0c94cf 165.69px 167.16px,#0d92d0 167.16px 168.63px,#0e90d1 168.63px 170.09px,#0e8fd1 170.09px 171.56px,#0e90d1 171.56px 173.03px,#0e90d0 173.03px 174.50px,#0d91d0 174.50px 175.97px,#0d92d0 175.97px 177.44px,#0d93d0 177.44px 178.91px,#0c94cf 178.91px 180.38px,#0c95cf 180.38px 181.85px,#0c95cf 181.85px 183.32px,#0b96ce 183.32px 184.79px,#0b97ce 184.79px 186.26px,#0b98ce 186.26px 187.73px,#0a99ce 187.73px 189.20px,#0a99cd 189.20px 190.67px,#0a9acd 190.67px 192.14px,#0a9acd 192.14px 193.61px,#0a9bcd 193.61px 195.08px,#099bcd 195.08px 196.55px,#099bcd 196.55px 198.01px,#099bcd 198.01px 199.48px,#099ccd 199.48px 200.95px,#099ccc 200.95px 202.42px,#099ccc 202.42px 203.89px,#099dcc 203.89px 205.36px,#099dcc 205.36px 206.83px,#089dcc 206.83px 208.30px,#089ecc 208.30px 209.77px,#089ecc 209.77px 211.24px,#089ecc 211.24px 212.71px,#089dcc 212.71px 214.18px,#099dcc 214.18px 215.65px,#099ccc 215.65px 217.12px,#099ccc 217.12px 218.59px,#099bcd 218.59px 220.06px,#099bcd 220.06px 221.53px,#0a9acd 221.53px 223.00px,#0a9acd 223.00px 224.47px,#0a99cd 224.47px 225.93px,#0a99ce 225.93px 227.40px,#0a98ce 227.40px 228.87px,#0b98ce 228.87px 230.34px,#0b97ce 230.34px 231.81px,#0b96ce 231.81px 233.28px,#0b96cf 233.28px 234.75px,#0c95cf 234.75px 236.22px,#0c95cf 236.22px 237.69px,#0c94cf 237.69px 239.16px,#0c94cf 239.16px 240.63px,#0d93cf 240.63px 242.10px,#0d93d0 242.10px 243.57px,#0d92d0 243.57px 245.04px,#0d91d0 245.04px 246.51px,#0d91d0 246.51px 247.98px,#0e90d0 247.98px 249.45px,#0e90d1 249.45px 250.92px,#0e8fd1 250.92px 252.39px,#0e8fd1 252.39px 253.85px,#0f8ed1 253.85px 255.32px,#0f8dd1 255.32px 256.79px,#0f8dd2 256.79px 258.26px,#0f8cd2 258.26px 259.73px,#0f8cd2 259.73px 261.20px,#108cd2 261.20px 262.67px,#108bd2 262.67px 264.14px,#108bd2 264.14px 265.61px,#108ad3 265.61px 267.08px,#108ad3 267.08px 268.55px,#1089d3 268.55px 270.02px,#1189d3 270.02px 271.49px,#1188d3 271.49px 272.96px,#1188d3 272.96px 274.43px,#1187d4 274.43px 275.90px,#1187d4 275.90px 277.37px,#1286d4 277.37px 278.84px,#1286d4 278.84px 280.31px,#1285d4 280.31px 281.77px,#1285d4 281.77px 283.24px,#1284d5 283.24px 284.71px,#1384d5 284.71px 286.18px,#1383d5 286.18px 287.65px,#1383d5 287.65px 289.12px,#1382d5 289.12px 290.59px,#1382d5 290.59px 292.06px,#1382d5 292.06px 293.53px,#1382d5 293.53px 295.00px)"></div>
<div class="r" style="top:314.97px;height:8.73px;background:linear-gradient(90deg,#126fd9 0.00px 1.49px,#126fd9 1.49px 2.98px,#126fd9 2.98px 4.47px,#1270d9 4.47px 5.96px,#1270d9 5.96px 7.45px,#1271d9 7.45px 8.94px,#1271d9 8.94px 10.43px,#1272d9 10.43px 11.92px,#1272d9 11.92px 13.41px,#1273d9 13.41px 14.90px,#1273d9 14.90px 16.39px,#1274d8 16.39px 17.88px,#1274d8 17.88px 19.37px,#1275d8 19.37px 20.86px,#1275d8 20.86px 22.35px,#1376d8 22.35px 23.84px,#1376d8 23.84px 25.33px,#1377d8 25.33px 26.82px,#1377d8 26.82px 28.31px,#1378d8 28.31px 29.80px,#1379d7 29.80px 31.29px,#1379d7 31.29px 32.78px,#137ad7 32.78px 34.28px,#137ad7 34.28px 35.77px,#137bd7 35.77px 37.26px,#137bd7 37.26px 38.75px,#137cd7 38.75px 40.24px,#137dd7 40.24px 41.73px,#147ed6 41.73px 43.22px,#147fd6 43.22px 44.71px,#1480d6 44.71px 46.20px,#1481d6 46.20px 47.69px,#1382d5 47.69px 49.18px,#1382d5 49.18px 50.67px,#1383d5 50.67px 52.16px,#1284d5 52.16px 53.65px,#1285d4 53.65px 55.14px,#1286d4 55.14px 56.63px,#1187d4 56.63px 58.12px,#1187d3 58.12px 59.61px,#1188d3 59.61px 61.10px,#1089d3 61.10px 62.59px,#108ad3 62.59px 64.08px,#108bd2 64.08px 65.57px,#0f8cd2 65.57px 67.06px,#0f8cd2 67.06px 68.55px,#0f8dd1 68.55px 70.04px,#0e8ed1 70.04px 71.53px,#0e8fd1 71.53px 73.02px,#0e8fd1 73.02px 74.51px,#0e90d1 74.51px 76.00px,#0e90d0 76.00px 77.49px,#0e91d0 77.49px 78.98px,#0d91d0 78.98px 80.47px,#0d91d0 80.47px 81.96px,#0d92d0 81.96px 83.45px,#0d92d0 83.45px 84.94px,#0d93d0 84.94px 86.43px,#0c93cf 86.43px 87.92px,#0c94cf 87.92px 89.41px,#0c94cf 89.41px 90.90px,#0c94cf 90.90px 92.39px,#0c94cf 92.39px 93.88px,#0c93cf 93.88px 95.37px,#0c93cf 95.37px 96.86px,#0d93d0 96.86px 98.35px,#0d93d0 98.35px 99.84px,#0d92d0 99.84px 101.33px,#0d92d0 101.33px 102.82px,#0d92d0 102.82px 104.32px,#0d92d0 104.32px 105.81px,#0d91d0 105.81px 107.30px,#0d91d0 107.30px 108.79px,#0d91d0 108.79px 110.28px,#0d91d0 110.28px 111.77px,#0e90d1 111.77px 113.26px,#0e8fd1 113.26px 114.75px,#0e8ed1 114.75px 116.24px,#0f8dd1 116.24px 117.73px,#0f8dd2 117.73px 119.22px,#0f8cd2 119.22px 120.71px,#108bd2 120.71px 122.20px,#108ad3 122.20px 123.69px,#1089d3 123.69px 125.18px,#1188d3 125.18px 126.67px,#1188d3 126.67px 128.16px,#1287d4 128.16px 129.65px,#1285d4 129.65px 131.14px,#1284d5 131.14px 132.63px,#1383d5 132.63px 134.12px,#1382d5 134.12px 135.61px,#1382d5 135.61px 137.10px,#1752cc 137.10px 138.00px,transparent 138.00px 151.70px,#1272d9 151.70px 153.40px,#099dcc 153.40px 155.40px,#0c96cf 155.40px 156.87px,#0c96cf 156.87px 158.34px,#0c96cf 158.34px 159.81px,#0c95cf 159.81px 161.28px,#0c94cf 161.28px 162.75px,#0d92d0 162.75px 164.22px,#0d91d0 164.22px 165.69px,#0e90d1 165.69px 167.16px,#0e8ed1 167.16px 168.63px,#0f8dd2 168.63px 170.09px,#0f8cd2 170.09px 171.56px,#0f8dd2 171.56px 173.03px,#0f8ed1 173.03px 174.50px,#0e8fd1 174.50px 175.97px,#0e90d1 175.97px 177.44px,#0d91d0 177.44px 178.91px,#0d92d0 178.91px 180.38px,#0d92d0 180.38px 181.85px,#0c93cf 181.85px 183.32px,#0c94cf 183.32px 184.79px,#0c95cf 184.79px 186.26px,#0b96ce 186.26px 187.73px,#0b97ce 187.73px 189.20px,#0b98ce 189.20px 190.67px,#0a99ce 190.67px 192.14px,#0a99cd 192.14px 193.61px,#0a99cd 193.61px 195.08px,#0a9acd 195.08px 196.55px,#0a9acd 196.55px 198.01px,#0a9acd 198.01px 199.48px,#099bcd 199.48px 200.95px,#099bcd 200.95px 202.42px,#099bcd 202.42px 203.89px,#099ccd 203.89px 205.36px,#099ccc 205.36px 206.83px,#099ccc 206.83px 208.30px,#099dcc 208.30px 209.77px,#089dcc 209.77px 211.24px,#099dcc 211.24px 212.71px,#099dcc 212.71px 214.18px,#099ccc 214.18px 215.65px,#099ccd 215.65px 217.12px,#099bcd 217.12px 218.59px,#0a9bcd 218.59px 220.06px,#0a9acd 220.06px 221.53px,#0a9acd 221.53px 223.00px,#0a99cd 223.00px 224.47px,#0a99ce 224.47px 225.93px,#0b98ce 225.93px 227.40px,#0b97ce 227.40px 228.87px,#0b97ce 228.87px 230.34px,#0b96ce 230.34px 231.81px,#0b96cf 231.81px 233.28px,#0c95cf 233.28px 234.75px,#0c95cf 234.75px 236.22px,#0c94cf 236.22px 237.69px,#0c94cf 237.69px 239.16px,#0d93d0 239.16px 240.63px,#0d92d0 240.63px 242.10px,#0d92d0 242.10px 243.57px,#0d91d0 243.57px 245.04px,#0d91d0 245.04px 246.51px,#0e90d0 246.51px 247.98px,#0e90d1 247.98px 249.45px,#0e8fd1 249.45px 250.92px,#0e8ed1 250.92px 252.39px,#0f8ed1 252.39px 253.85px,#0f8dd1 253.85px 255.32px,#0f8dd2 255.32px 256.79px,#0f8cd2 256.79px 258.26px,#0f8cd2 258.26px 259.73px,#108bd2 259.73px 261.20px,#108bd2 261.20px 262.67px,#108ad2 262.67px 264.14px,#108ad3 264.14px 265.61px,#1089d3 265.61px 267.08px,#1189d3 267.08px 268.55px,#1188d3 268.55px 270.02px,#1188d3 270.02px 271.49px,#1187d3 271.49px 272.96px,#1187d4 272.96px 274.43px,#1287d4 274.43px 275.90px,#1286d4 275.90px 277.37px,#1286d4 277.37px 278.84px,#1285d4 278.84px 280.31px,#1285d4 280.31px 281.77px,#1284d5 281.77px 283.24px,#1384d5 283.24px 284.71px,#1383d5 284.71px 286.18px,#1383d5 286.18px 287.65px,#1382d5 287.65px 289.12px,#1382d5 289.12px 290.59px,#1481d6 290.59px 292.06px,#1481d6 292.06px 293.53px,#1481d6 293.53px 295.00px)"></div>
<div class="r" style="top:323.65px;height:8.73px;background:linear-gradient(90deg,#126fd9 0.00px 1.49px,#126fd9 1.49px 2.98px,#126fd9 2.98px 4.47px,#1270d9 4.47px 5.96px,#1270d9 5.96px 7.45px,#1271d9 7.45px 8.94px,#1271d9 8.94px 10.43px,#1272d9 10.43px 11.92px,#1272d9 11.92px 13.41px,#1273d9 13.41px 14.90px,#1273d9 14.90px 16.39px,#1274d8 16.39px 17.88px,#1274d8 17.88px 19.37px,#1275d8 19.37px 20.86px,#1275d8 20.86px 22.35px,#1376d8 22.35px 23.84px,#1376d8 23.84px 25.33px,#1377d8 25.33px 26.82px,#1377d8 26.82px 28.31px,#1378d8 28.31px 29.80px,#1379d7 29.80px 31.29px,#1379d7 31.29px 32.78px,#137ad7 32.78px 34.28px,#137ad7 34.28px 35.77px,#137bd7 35.77px 37.26px,#137bd7 37.26px 38.75px,#137cd7 38.75px 40.24px,#137dd7 40.24px 41.73px,#147ed6 41.73px 43.22px,#147fd6 43.22px 44.71px,#1480d6 44.71px 46.20px,#1481d6 46.20px 47.69px,#1382d5 47.69px 49.18px,#1382d5 49.18px 50.67px,#1383d5 50.67px 52.16px,#1284d5 52.16px 53.65px,#1285d4 53.65px 55.14px,#1286d4 55.14px 56.63px,#1187d4 56.63px 58.12px,#1187d3 58.12px 59.61px,#1188d3 59.61px 61.10px,#1089d3 61.10px 62.59px,#108ad3 62.59px 64.08px,#108bd2 64.08px 65.57px,#0f8cd2 65.57px 67.06px,#0f8cd2 67.06px 68.55px,#0f8dd1 68.55px 70.04px,#0e8ed1 70.04px 71.53px,#0e8fd1 71.53px 73.02px,#0e8fd1 73.02px 74.51px,#0e90d1 74.51px 76.00px,#0e90d0 76.00px 77.49px,#0e91d0 77.49px 78.98px,#0d91d0 78.98px 80.47px,#0d91d0 80.47px 81.96px,#0d92d0 81.96px 83.45px,#0d92d0 83.45px 84.94px,#0d93d0 84.94px 86.43px,#0c93cf 86.43px 87.92px,#0c94cf 87.92px 89.41px,#0c94cf 89.41px 90.90px,#0c94cf 90.90px 92.39px,#0c93cf 92.39px 93.88px,#0d93cf 93.88px 95.37px,#0d93d0 95.37px 96.86px,#0d92d0 96.86px 98.35px,#0d92d0 98.35px 99.84px,#0d91d0 99.84px 101.33px,#0d91d0 101.33px 102.82px,#0e91d0 102.82px 104.32px,#0e90d0 104.32px 105.81px,#0e90d1 105.81px 107.30px,#0e8fd1 107.30px 108.79px,#0e8fd1 108.79px 110.28px,#0e8ed1 110.28px 111.77px,#0f8dd1 111.77px 113.26px,#0f8cd2 113.26px 114.75px,#108bd2 114.75px 116.24px,#108ad2 116.24px 117.73px,#1089d3 117.73px 119.22px,#1188d3 119.22px 120.71px,#1187d3 120.71px 122.20px,#1286d4 122.20px 123.69px,#1285d4 123.69px 125.18px,#1284d5 125.18px 126.67px,#1383d5 126.67px 128.16px,#1382d5 128.16px 129.65px,#1481d6 129.65px 131.14px,#1480d6 131.14px 132.63px,#147fd6 132.63px 134.12px,#147ed6 134.12px 135.61px,#147ed6 135.61px 137.10px,#0e8fd1 137.10px 138.00px,transparent 138.00px 151.70px,#1189d3 151.70px 153.40px,#099dcc 153.40px 155.40px,#0e8fd1 155.40px 156.87px,#0e8fd1 156.87px 158.34px,#0e8fd1 158.34px 159.81px,#0e8ed1 159.81px 161.28px,#0f8ed1 161.28px 162.75px,#0f8dd2 162.75px 164.22px,#0f8cd2 164.22px 165.69px,#108bd2 165.69px 167.16px,#108ad2 167.16px 168.63px,#108ad3 168.63px 170.09px,#1089d3 170.09px 171.56px,#108ad2 171.56px 173.03px,#108bd2 173.03px 174.50px,#0f8cd2 174.50px 175.97px,#0f8dd1 175.97px 177.44px,#0e8ed1 177.44px 178.91px,#0e8fd1 178.91px 180.38px,#0e90d0 180.38px 181.85px,#0d91d0 181.85px 183.32px,#0d92d0 183.32px 184.79px,#0c93cf 184.79px 186.26px,#0c94cf 186.26px 187.73px,#0c95cf 187.73px 189.20px,#0b96ce 189.20px 190.67px,#0b97ce 190.67px 192.14px,#0b98ce 192.14px 193.61px,#0b98ce 193.61px 195.08px,#0a98ce 195.08px 196.55px,#0a99ce 196.55px 198.01px,#0a99cd 198.01px 199.48px,#0a9acd 199.48px 200.95px,#0a9acd 200.95px 202.42px,#0a9acd 202.42px 203.89px,#099bcd 203.89px 205.36px,#099bcd 205.36px 206.83px,#099ccd 206.83px 208.30px,#099ccc 208.30px 209.77px,#099ccc 209.77px 211.24px,#099ccc 211.24px 212.71px,#099ccc 212.71px 214.18px,#099bcd 214.18px 215.65px,#099bcd 215.65px 217.12px,#0a9acd 217.12px 218.59px,#0a9acd 218.59px 220.06px,#0a99cd 220.06px 221.53px,#0a99cd 221.53px 223.00px,#0a98ce 223.00px 224.47px,#0b98ce 224.47px 225.93px,#0b97ce 225.93px 227.40px,#0b97ce 227.40px 228.87px,#0b96ce 228.87px 230.34px,#0b96cf 230.34px 231.81px,#0c95cf 231.81px 233.28px,#0c95cf 233.28px 234.75px,#0c94cf 234.75px 236.22px,#0c93cf 236.22px 237.69px,#0d93d0 237.69px 239.16px,#0d92d0 239.16px 240.63px,#0d92d0 240.63px 242.10px,#0d91d0 242.10px 243.57px,#0e91d0 243.57px 245.04px,#0e90d1 245.04px 246.51px,#0e8fd1 246.51px 247.98px,#0e8fd1 247.98px 249.45px,#0e8ed1 249.45px 250.92px,#0f8ed1 250.92px 252.39px,#0f8dd1 252.39px 253.85px,#0f8dd2 253.85px 255.32px,#0f8cd2 255.32px 256.79px,#108cd2 256.79px 258.26px,#108bd2 258.26px 259.73px,#108bd2 259.73px 261.20px,#108ad3 261.20px 262.67px,#108ad3 262.67px 264.14px,#1089d3 264.14px 265.61px,#1189d3 265.61px 267.08px,#1188d3 267.08px 268.55px,#1188d3 268.55px 270.02px,#1187d4 270.02px 271.49px,#1187d4 271.49px 272.96px,#1286d4 272.96px 274.43px,#1286d4 274.43px 275.90px,#1285d4 275.90px 277.37px,#1285d4 277.37px 278.84px,#1284d4 278.84px 280.31px,#1384d5 280.31px 281.77px,#1383d5 281.77px 283.24px,#1383d5 283.24px 284.71px,#1383d5 284.71px 286.18px,#1382d5 286.18px 287.65px,#1382d5 287.65px 289.12px,#1481d6 289.12px 290.59px,#1481d6 290.59px 292.06px,#1481d6 292.06px 293.53px,#1481d6 293.53px 295.00px)"></div>
<div class="r" style="top:332.32px;height:8.73px;background:linear-gradient(90deg,#126fd9 0.00px 1.49px,#126fd9 1.49px 2.98px,#126fd9 2.98px 4.47px,#1270d9 4.47px 5.96px,#1270d9 5.96px 7.45px,#1271d9 7.45px 8.94px,#1271d9 8.94px 10.43px,#1272d9 10.43px 11.92px,#1272d9 11.92px 13.41px,#1273d9 13.41px 14.90px,#1273d9 14.90px 16.39px,#1274d8 16.39px 17.88px,#1274d8 17.88px 19.37px,#1275d8 19.37px 20.86px,#1275d8 20.86px 22.35px,#1376d8 22.35px 23.84px,#1376d8 23.84px 25.33px,#1377d8 25.33px 26.82px,#1377d8 26.82px 28.31px,#1378d8 28.31px 29.80px,#1379d7 29.80px 31.29px,#1379d7 31.29px 32.78px,#137ad7 32.78px 34.28px,#137ad7 34.28px 35.77px,#137bd7 35.77px 37.26px,#137bd7 37.26px 38.75px,#137cd7 38.75px 40.24px,#137dd7 40.24px 41.73px,#147ed6 41.73px 43.22px,#147fd6 43.22px 44.71px,#1480d6 44.71px 46.20px,#1481d6 46.20px 47.69px,#1382d5 47.69px 49.18px,#1382d5 49.18px 50.67px,#1383d5 50.67px 52.16px,#1284d5 52.16px 53.65px,#1285d4 53.65px 55.14px,#1286d4 55.14px 56.63px,#1187d4 56.63px 58.12px,#1187d3 58.12px 59.61px,#1188d3 59.61px 61.10px,#1089d3 61.10px 62.59px,#108ad3 62.59px 64.08px,#108bd2 64.08px 65.57px,#0f8cd2 65.57px 67.06px,#0f8cd2 67.06px 68.55px,#0f8dd1 68.55px 70.04px,#0e8ed1 70.04px 71.53px,#0e8fd1 71.53px 73.02px,#0e8fd1 73.02px 74.51px,#0e90d1 74.51px 76.00px,#0e90d0 76.00px 77.49px,#0e91d0 77.49px 78.98px,#0d91d0 78.98px 80.47px,#0d91d0 80.47px 81.96px,#0d92d0 81.96px 83.45px,#0d92d0 83.45px 84.94px,#0d93d0 84.94px 86.43px,#0c93cf 86.43px 87.92px,#0c94cf 87.92px 89.41px,#0c94cf 89.41px 90.90px,#0c94cf 90.90px 92.39px,#0c93cf 92.39px 93.88px,#0d93cf 93.88px 95.37px,#0d93d0 95.37px 96.86px,#0d92d0 96.86px 98.35px,#0d92d0 98.35px 99.84px,#0d91d0 99.84px 101.33px,#0d91d0 101.33px 102.82px,#0e91d0 102.82px 104.32px,#0e90d0 104.32px 105.81px,#0e90d1 105.81px 107.30px,#0e8fd1 107.30px 108.79px,#0e8fd1 108.79px 110.28px,#0e8ed1 110.28px 111.77px,#0f8dd1 111.77px 113.26px,#0f8cd2 113.26px 114.75px,#108bd2 114.75px 116.24px,#108ad2 116.24px 117.73px,#1089d3 117.73px 119.22px,#1188d3 119.22px 120.71px,#1187d3 120.71px 122.20px,#1286d4 122.20px 123.69px,#1285d4 123.69px 125.18px,#1284d5 125.18px 126.67px,#1383d5 126.67px 128.16px,#1382d5 128.16px 129.65px,#1481d6 129.65px 131.14px,#1480d6 131.14px 132.63px,#147fd6 132.63px 134.12px,#147ed6 134.12px 135.61px,#147ed6 135.61px 137.10px,#1378d8 137.10px 138.00px,transparent 138.00px 151.70px,#115ada 151.70px 153.40px,#099dcc 153.40px 155.40px,#0e8fd1 155.40px 156.87px,#0e8fd1 156.87px 158.34px,#0e8fd1 158.34px 159.81px,#0e8ed1 159.81px 161.28px,#0f8ed1 161.28px 162.75px,#0f8dd2 162.75px 164.22px,#0f8cd2 164.22px 165.69px,#108bd2 165.69px 167.16px,#108ad2 167.16px 168.63px,#108ad3 168.63px 170.09px,#1089d3 170.09px 171.56px,#108ad2 171.56px 173.03px,#108bd2 173.03px 174.50px,#0f8cd2 174.50px 175.97px,#0f8dd1 175.97px 177.44px,#0e8ed1 177.44px 178.91px,#0e8fd1 178.91px 180.38px,#0e90d0 180.38px 181.85px,#0d91d0 181.85px 183.32px,#0d92d0 183.32px 184.79px,#0c93cf 184.79px 186.26px,#0c94cf 186.26px 187.73px,#0c95cf 187.73px 189.20px,#0b96ce 189.20px 190.67px,#0b97ce 190.67px 192.14px,#0b98ce 192.14px 193.61px,#0b98ce 193.61px 195.08px,#0a98ce 195.08px 196.55px,#0a99ce 196.55px 198.01px,#0a99cd 198.01px 199.48px,#0a9acd 199.48px 200.95px,#0a9acd 200.95px 202.42px,#0a9acd 202.42px 203.89px,#099bcd 203.89px 205.36px,#099bcd 205.36px 206.83px,#099ccd 206.83px 208.30px,#099ccc 208.30px 209.77px,#099ccc 209.77px 211.24px,#099ccc 211.24px 212.71px,#099ccc 212.71px 214.18px,#099bcd 214.18px 215.65px,#099bcd 215.65px 217.12px,#0a9acd 217.12px 218.59px,#0a9acd 218.59px 220.06px,#0a99cd 220.06px 221.53px,#0a99cd 221.53px 223.00px,#0a98ce 223.00px 224.47px,#0b98ce 224.47px 225.93px,#0b97ce 225.93px 227.40px,#0b97ce 227.40px 228.87px,#0b96ce 228.87px 230.34px,#0b96cf 230.34px 231.81px,#0c95cf 231.81px 233.28px,#0c95cf 233.28px 234.75px,#0c94cf 234.75px 236.22px,#0c93cf 236.22px 237.69px,#0d93d0 237.69px 239.16px,#0d92d0 239.16px 240.63px,#0d92d0 240.63px 242.10px,#0d91d0 242.10px 243.57px,#0e91d0 243.57px 245.04px,#0e90d1 245.04px 246.51px,#0e8fd1 246.51px 247.98px,#0e8fd1 247.98px 249.45px,#0e8ed1 249.45px 250.92px,#0f8ed1 250.92px 252.39px,#0f8dd1 252.39px 253.85px,#0f8dd2 253.85px 255.32px,#0f8cd2 255.32px 256.79px,#108cd2 256.79px 258.26px,#108bd2 258.26px 259.73px,#108bd2 259.73px 261.20px,#108ad3 261.20px 262.67px,#108ad3 262.67px 264.14px,#1089d3 264.14px 265.61px,#1189d3 265.61px 267.08px,#1188d3 267.08px 268.55px,#1188d3 268.55px 270.02px,#1187d4 270.02px 271.49px,#1187d4 271.49px 272.96px,#1286d4 272.96px 274.43px,#1286d4 274.43px 275.90px,#1285d4 275.90px 277.37px,#1285d4 277.37px 278.84px,#1284d4 278.84px 280.31px,#1384d5 280.31px 281.77px,#1383d5 281.77px 283.24px,#1383d5 283.24px 284.71px,#1383d5 284.71px 286.18px,#1382d5 286.18px 287.65px,#1382d5 287.65px 289.12px,#1481d6 289.12px 290.59px,#1481d6 290.59px 292.06px,#1481d6 292.06px 293.53px,#1481d6 293.53px 295.00px)"></div>
<div id="pal"></div>
<svg width="409" height="397" viewBox="0 0 409 397">
<defs><clipPath id="fc"><rect x="65.00" y="20.00" width="295.00" height="321.00"/></clipPath></defs><g clip-path="url(#fc)">
<polyline points="207.25,3.71 207.06,8.75 206.87,13.46 206.68,17.85 206.49,21.96 206.30,25.82 206.11,29.45 205.92,32.87 205.73,36.10 205.54,39.15 205.35,42.04 205.16,44.79 204.97,47.39 204.78,49.87 204.59,52.24 204.40,54.49 204.21,56.64 204.02,58.70 203.83,60.67 203.64,62.55 203.45,64.36 203.26,66.10 203.07,67.77 202.88,69.37 202.69,70.92 202.50,72.41 202.31,73.84 202.12,75.22 201.93,76.56 201.74,77.85 201.55,79.10 201.36,80.30 201.17,81.47 200.98,82.60 200.79,83.70 200.60,84.77 200.41,85.80 200.22,86.80 200.03,87.77 199.84,88.72 199.66,89.64 199.47,90.53 199.28,91.40 199.09,92.25 198.90,93.07 198.71,93.88 198.52,94.66 198.33,95.42 198.14,96.17 197.95,96.90 197.76,97.61 197.57,98.30 197.38,98.98 197.19,99.64 197.00,100.29 196.81,100.92 196.62,101.54 196.43,102.14 196.24,102.74 196.05,103.32 195.86,103.89 195.67,104.44 195.48,104.99 195.29,105.53 195.10,106.05 194.91,106.56 194.72,107.07 194.53,107.56 194.34,108.05 194.15,108.53 193.96,108.99 193.77,109.45 193.58,109.91 193.39,110.35 193.20,110.79 193.01,111.21 192.82,111.64 192.63,112.05 192.44,112.46 192.25,112.86 191.75,113.88 190.66,115.97 189.57,117.89 188.49,119.65 187.40,121.29 186.31,122.80 185.22,124.22 184.13,125.54 183.04,126.78 181.96,127.94 180.87,129.04 179.78,130.07 178.69,131.04 177.60,131.96 176.51,132.84 175.43,133.66 174.34,134.44 173.25,135.18 172.16,135.88 171.07,136.55 169.99,137.18 168.90,137.78 167.81,138.35 166.72,138.89 165.63,139.40 164.54,139.89 163.46,140.35 162.37,140.79 161.28,141.20 160.19,141.59 159.10,141.96 158.01,142.31 156.93,142.64 155.84,142.96 154.75,143.25 153.66,143.53 152.57,143.79 151.49,144.04 150.40,144.27 149.31,144.49 148.22,144.69 147.13,144.89 146.04,145.07 144.96,145.24 143.87,145.39 142.78,145.54 141.69,145.68 140.60,145.81 139.51,145.93 138.43,146.04 137.34,146.14 136.25,146.23 135.16,146.32 134.07,146.41 132.99,146.48 131.90,146.55 130.81,146.62 129.72,146.67 128.63,146.73 127.54,146.78 126.46,146.83 125.37,146.87 124.28,146.91 123.19,146.94 122.10,146.97 121.01,147.00 119.93,147.03 118.84,147.06 117.75,147.08 116.66,147.10 115.57,147.12 114.49,147.13 113.40,147.15 112.31,147.16 111.22,147.17 110.13,147.18 109.04,147.19 107.96,147.20 106.87,147.21 105.78,147.22 104.69,147.22 103.60,147.23 102.51,147.23 101.43,147.24 100.34,147.24 99.25,147.25 98.16,147.25 97.07,147.25 95.99,147.25 94.90,147.26 93.81,147.26 92.72,147.26 91.63,147.26 90.54,147.26 89.46,147.26 88.37,147.26 87.28,147.27 86.19,147.27 85.10,147.27 84.01,147.27 82.93,147.27 81.84,147.27 80.75,147.27 79.66,147.27 78.57,147.27 77.49,147.27 76.40,147.27 75.31,147.27 74.22,147.27 73.13,147.27 72.04,147.27 70.96,147.27 69.87,147.27 68.78,147.27 67.69,147.27 66.60,147.27 65.51,147.27 64.43,147.27 63.34,147.27 62.25,147.27" fill="none" stroke="#d214d6" stroke-width="1.7"/>
<polyline points="207.25,348.89 207.06,343.85 206.87,339.14 206.68,334.75 206.49,330.64 206.30,326.78 206.11,323.15 205.92,319.73 205.73,316.50 205.54,313.45 205.35,310.56 205.16,307.81 204.97,305.21 204.78,302.73 204.59,300.36 204.40,298.11 204.21,295.96 204.02,293.90 203.83,291.93 203.64,290.05 203.45,288.24 203.26,286.50 203.07,284.83 202.88,283.23 202.69,281.68 202.50,280.19 202.31,278.76 202.12,277.38 201.93,276.04 201.74,274.75 201.55,273.50 201.36,272.30 201.17,271.13 200.98,270.00 200.79,268.90 200.60,267.83 200.41,266.80 200.22,265.80 200.03,264.83 199.84,263.88 199.66,262.96 199.47,262.07 199.28,261.20 199.09,260.35 198.90,259.53 198.71,258.72 198.52,257.94 198.33,257.18 198.14,256.43 197.95,255.70 197.76,254.99 197.57,254.30 197.38,253.62 197.19,252.96 197.00,252.31 196.81,251.68 196.62,251.06 196.43,250.46 196.24,249.86 196.05,249.28 195.86,248.71 195.67,248.16 195.48,247.61 195.29,247.07 195.10,246.55 194.91,246.04 194.72,245.53 194.53,245.04 194.34,244.55 194.15,244.07 193.96,243.61 193.77,243.15 193.58,242.69 193.39,242.25 193.20,241.81 193.01,241.39 192.82,240.96 192.63,240.55 192.44,240.14 192.25,239.74 191.75,238.72 190.66,236.63 189.57,234.71 188.49,232.95 187.40,231.31 186.31,229.80 185.22,228.38 184.13,227.06 183.04,225.82 181.96,224.66 180.87,223.56 179.78,222.53 178.69,221.56 177.60,220.64 176.51,219.76 175.43,218.94 174.34,218.16 173.25,217.42 172.16,216.72 171.07,216.05 169.99,215.42 168.90,214.82 167.81,214.25 166.72,213.71 165.63,213.20 164.54,212.71 163.46,212.25 162.37,211.81 161.28,211.40 160.19,211.01 159.10,210.64 158.01,210.29 156.93,209.96 155.84,209.64 154.75,209.35 153.66,209.07 152.57,208.81 151.49,208.56 150.40,208.33 149.31,208.11 148.22,207.91 147.13,207.71 146.04,207.53 144.96,207.36 143.87,207.21 142.78,207.06 141.69,206.92 140.60,206.79 139.51,206.67 138.43,206.56 137.34,206.46 136.25,206.37 135.16,206.28 134.07,206.19 132.99,206.12 131.90,206.05 130.81,205.98 129.72,205.93 128.63,205.87 127.54,205.82 126.46,205.77 125.37,205.73 124.28,205.69 123.19,205.66 122.10,205.63 121.01,205.60 119.93,205.57 118.84,205.54 117.75,205.52 116.66,205.50 115.57,205.48 114.49,205.47 113.40,205.45 112.31,205.44 111.22,205.43 110.13,205.42 109.04,205.41 107.96,205.40 106.87,205.39 105.78,205.38 104.69,205.38 103.60,205.37 102.51,205.37 101.43,205.36 100.34,205.36 99.25,205.35 98.16,205.35 97.07,205.35 95.99,205.35 94.90,205.34 93.81,205.34 92.72,205.34 91.63,205.34 90.54,205.34 89.46,205.34 88.37,205.34 87.28,205.33 86.19,205.33 85.10,205.33 84.01,205.33 82.93,205.33 81.84,205.33 80.75,205.33 79.66,205.33 78.57,205.33 77.49,205.33 76.40,205.33 75.31,205.33 74.22,205.33 73.13,205.33 72.04,205.33 70.96,205.33 69.87,205.33 68.78,205.33 67.69,205.33 66.60,205.33 65.51,205.33 64.43,205.33 63.34,205.33 62.25,205.33" fill="none" stroke="#d214d6" stroke-width="1.7"/>
<polyline points="217.25,-5.17 217.44,0.22 217.63,5.23 217.82,9.92 218.01,14.30 218.20,18.42 218.39,22.29 218.58,25.93 218.77,29.37 218.96,32.62 219.15,35.70 219.34,38.62 219.53,41.39 219.72,44.03 219.91,46.54 220.10,48.94 220.29,51.22 220.48,53.41 220.67,55.50 220.86,57.51 221.05,59.43 221.24,61.28 221.43,63.05 221.62,64.75 221.81,66.39 222.00,67.97 222.19,69.50 222.38,70.97 222.57,72.39 222.76,73.76 222.95,75.08 223.14,76.37 223.33,77.61 223.52,78.81 223.71,79.98 223.90,81.11 224.09,82.21 224.28,83.27 224.47,84.31 224.66,85.31 224.84,86.29 225.03,87.24 225.22,88.17 225.41,89.07 225.60,89.95 225.79,90.81 225.98,91.65 226.17,92.46 226.36,93.26 226.55,94.03 226.74,94.79 226.93,95.54 227.12,96.26 227.31,96.97 227.50,97.66 227.69,98.34 227.88,99.00 228.07,99.65 228.26,100.29 228.45,100.92 228.64,101.53 228.83,102.13 229.02,102.71 229.21,103.29 229.40,103.86 229.59,104.41 229.78,104.96 229.97,105.49 230.16,106.02 230.35,106.53 230.54,107.04 230.73,107.54 230.92,108.03 231.11,108.51 231.30,108.99 231.49,109.46 231.68,109.91 231.87,110.37 232.06,110.81 232.25,111.25 232.75,112.37 233.84,114.67 234.93,116.79 236.01,118.76 237.10,120.60 238.19,122.31 239.28,123.92 240.37,125.44 241.46,126.87 242.54,128.22 243.63,129.49 244.72,130.70 245.81,131.84 246.90,132.93 247.99,133.96 249.07,134.93 250.16,135.86 251.25,136.73 252.34,137.56 253.43,138.34 254.51,139.08 255.60,139.78 256.69,140.43 257.78,141.05 258.87,141.63 259.96,142.17 261.04,142.68 262.13,143.15 263.22,143.59 264.31,144.00 265.40,144.38 266.49,144.73 267.57,145.05 268.66,145.35 269.75,145.62 270.84,145.87 271.93,146.10 273.01,146.31 274.10,146.50 275.19,146.67 276.28,146.82 277.37,146.96 278.46,147.08 279.54,147.19 280.63,147.29 281.72,147.38 282.81,147.45 283.90,147.52 284.99,147.58 286.07,147.63 287.16,147.68 288.25,147.72 289.34,147.75 290.43,147.78 291.51,147.80 292.60,147.83 293.69,147.85 294.78,147.86 295.87,147.87 296.96,147.89 298.04,147.89 299.13,147.90 300.22,147.91 301.31,147.91 302.40,147.92 303.49,147.92 304.57,147.93 305.66,147.93 306.75,147.93 307.84,147.93 308.93,147.93 310.01,147.93 311.10,147.94 312.19,147.94 313.28,147.94 314.37,147.94 315.46,147.94 316.54,147.94 317.63,147.94 318.72,147.94 319.81,147.94 320.90,147.94 321.99,147.94 323.07,147.94 324.16,147.94 325.25,147.94 326.34,147.94 327.43,147.94 328.51,147.94 329.60,147.94 330.69,147.94 331.78,147.94 332.87,147.94 333.96,147.94 335.04,147.94 336.13,147.94 337.22,147.94 338.31,147.94 339.40,147.94 340.49,147.94 341.57,147.94 342.66,147.94 343.75,147.94 344.84,147.94 345.93,147.94 347.01,147.94 348.10,147.94 349.19,147.94 350.28,147.94 351.37,147.94 352.46,147.94 353.54,147.94 354.63,147.94 355.72,147.94 356.81,147.94 357.90,147.94 358.99,147.94 360.07,147.94 361.16,147.94 362.25,147.94" fill="none" stroke="#5828ee" stroke-width="2.0"/>
<polyline points="217.25,357.77 217.44,352.38 217.63,347.37 217.82,342.68 218.01,338.30 218.20,334.18 218.39,330.31 218.58,326.67 218.77,323.23 218.96,319.98 219.15,316.90 219.34,313.98 219.53,311.21 219.72,308.57 219.91,306.06 220.10,303.66 220.29,301.38 220.48,299.19 220.67,297.10 220.86,295.09 221.05,293.17 221.24,291.32 221.43,289.55 221.62,287.85 221.81,286.21 222.00,284.63 222.19,283.10 222.38,281.63 222.57,280.21 222.76,278.84 222.95,277.52 223.14,276.23 223.33,274.99 223.52,273.79 223.71,272.62 223.90,271.49 224.09,270.39 224.28,269.33 224.47,268.29 224.66,267.29 224.84,266.31 225.03,265.36 225.22,264.43 225.41,263.53 225.60,262.65 225.79,261.79 225.98,260.95 226.17,260.14 226.36,259.34 226.55,258.57 226.74,257.81 226.93,257.06 227.12,256.34 227.31,255.63 227.50,254.94 227.69,254.26 227.88,253.60 228.07,252.95 228.26,252.31 228.45,251.68 228.64,251.07 228.83,250.47 229.02,249.89 229.21,249.31 229.40,248.74 229.59,248.19 229.78,247.64 229.97,247.11 230.16,246.58 230.35,246.07 230.54,245.56 230.73,245.06 230.92,244.57 231.11,244.09 231.30,243.61 231.49,243.14 231.68,242.69 231.87,242.23 232.06,241.79 232.25,241.35 232.75,240.23 233.84,237.93 234.93,235.81 236.01,233.84 237.10,232.00 238.19,230.29 239.28,228.68 240.37,227.16 241.46,225.73 242.54,224.38 243.63,223.11 244.72,221.90 245.81,220.76 246.90,219.67 247.99,218.64 249.07,217.67 250.16,216.74 251.25,215.87 252.34,215.04 253.43,214.26 254.51,213.52 255.60,212.82 256.69,212.17 257.78,211.55 258.87,210.97 259.96,210.43 261.04,209.92 262.13,209.45 263.22,209.01 264.31,208.60 265.40,208.22 266.49,207.87 267.57,207.55 268.66,207.25 269.75,206.98 270.84,206.73 271.93,206.50 273.01,206.29 274.10,206.10 275.19,205.93 276.28,205.78 277.37,205.64 278.46,205.52 279.54,205.41 280.63,205.31 281.72,205.22 282.81,205.15 283.90,205.08 284.99,205.02 286.07,204.97 287.16,204.92 288.25,204.88 289.34,204.85 290.43,204.82 291.51,204.80 292.60,204.77 293.69,204.75 294.78,204.74 295.87,204.73 296.96,204.71 298.04,204.71 299.13,204.70 300.22,204.69 301.31,204.69 302.40,204.68 303.49,204.68 304.57,204.67 305.66,204.67 306.75,204.67 307.84,204.67 308.93,204.67 310.01,204.67 311.10,204.66 312.19,204.66 313.28,204.66 314.37,204.66 315.46,204.66 316.54,204.66 317.63,204.66 318.72,204.66 319.81,204.66 320.90,204.66 321.99,204.66 323.07,204.66 324.16,204.66 325.25,204.66 326.34,204.66 327.43,204.66 328.51,204.66 329.60,204.66 330.69,204.66 331.78,204.66 332.87,204.66 333.96,204.66 335.04,204.66 336.13,204.66 337.22,204.66 338.31,204.66 339.40,204.66 340.49,204.66 341.57,204.66 342.66,204.66 343.75,204.66 344.84,204.66 345.93,204.66 347.01,204.66 348.10,204.66 349.19,204.66 350.28,204.66 351.37,204.66 352.46,204.66 353.54,204.66 354.63,204.66 355.72,204.66 356.81,204.66 357.90,204.66 358.99,204.66 360.07,204.66 361.16,204.66 362.25,204.66" fill="none" stroke="#5828ee" stroke-width="2.0"/>
</g>
<g stroke="#000" stroke-width="1">
<line x1="64.5" y1="341.75" x2="361" y2="341.75" stroke-width="1.5"/>
<line x1="65.25" y1="19.5" x2="65.25" y2="342.5" stroke-width="1.5"/>
<line x1="380.60" y1="19.60" x2="380.60" y2="341.80"/>
<line x1="75.36" y1="341.00" x2="75.36" y2="336.80"/>
<line x1="85.91" y1="341.00" x2="85.91" y2="336.80"/>
<line x1="96.45" y1="341.00" x2="96.45" y2="336.80"/>
<line x1="107.00" y1="341.00" x2="107.00" y2="332.70"/>
<line x1="117.54" y1="341.00" x2="117.54" y2="336.80"/>
<line x1="128.09" y1="341.00" x2="128.09" y2="336.80"/>
<line x1="138.63" y1="341.00" x2="138.63" y2="336.80"/>
<line x1="149.18" y1="341.00" x2="149.18" y2="336.80"/>
<line x1="159.72" y1="341.00" x2="159.72" y2="332.70"/>
<line x1="170.27" y1="341.00" x2="170.27" y2="336.80"/>
<line x1="180.81" y1="341.00" x2="180.81" y2="336.80"/>
<line x1="191.36" y1="341.00" x2="191.36" y2="336.80"/>
<line x1="201.91" y1="341.00" x2="201.91" y2="336.80"/>
<line x1="212.45" y1="341.00" x2="212.45" y2="332.70"/>
<line x1="222.99" y1="341.00" x2="222.99" y2="336.80"/>
<line x1="233.54" y1="341.00" x2="233.54" y2="336.80"/>
<line x1="244.08" y1="341.00" x2="244.08" y2="336.80"/>
<line x1="254.63" y1="341.00" x2="254.63" y2="336.80"/>
<line x1="265.18" y1="341.00" x2="265.18" y2="332.70"/>
<line x1="275.72" y1="341.00" x2="275.72" y2="336.80"/>
<line x1="286.26" y1="341.00" x2="286.26" y2="336.80"/>
<line x1="296.81" y1="341.00" x2="296.81" y2="336.80"/>
<line x1="307.36" y1="341.00" x2="307.36" y2="336.80"/>
<line x1="317.90" y1="341.00" x2="317.90" y2="332.70"/>
<line x1="328.44" y1="341.00" x2="328.44" y2="336.80"/>
<line x1="338.99" y1="341.00" x2="338.99" y2="336.80"/>
<line x1="349.53" y1="341.00" x2="349.53" y2="336.80"/>
<line x1="360.08" y1="341.00" x2="360.08" y2="336.80"/>
<line x1="65.00" y1="340.98" x2="69.90" y2="340.98"/>
<line x1="65.00" y1="332.31" x2="69.90" y2="332.31"/>
<line x1="65.00" y1="323.64" x2="69.90" y2="323.64"/>
<line x1="65.00" y1="314.97" x2="69.90" y2="314.97"/>
<line x1="65.00" y1="306.30" x2="74.80" y2="306.30"/>
<line x1="65.00" y1="297.63" x2="69.90" y2="297.63"/>
<line x1="65.00" y1="288.96" x2="69.90" y2="288.96"/>
<line x1="65.00" y1="280.29" x2="69.90" y2="280.29"/>
<line x1="65.00" y1="271.62" x2="69.90" y2="271.62"/>
<line x1="65.00" y1="262.95" x2="74.80" y2="262.95"/>
<line x1="65.00" y1="254.28" x2="69.90" y2="254.28"/>
<line x1="65.00" y1="245.61" x2="69.90" y2="245.61"/>
<line x1="65.00" y1="236.94" x2="69.90" y2="236.94"/>
<line x1="65.00" y1="228.27" x2="69.90" y2="228.27"/>
<line x1="65.00" y1="219.60" x2="74.80" y2="219.60"/>
<line x1="65.00" y1="210.93" x2="69.90" y2="210.93"/>
<line x1="65.00" y1="202.26" x2="69.90" y2="202.26"/>
<line x1="65.00" y1="193.59" x2="69.90" y2="193.59"/>
<line x1="65.00" y1="184.92" x2="69.90" y2="184.92"/>
<line x1="65.00" y1="176.25" x2="74.80" y2="176.25"/>
<line x1="65.00" y1="167.58" x2="69.90" y2="167.58"/>
<line x1="65.00" y1="158.91" x2="69.90" y2="158.91"/>
<line x1="65.00" y1="150.24" x2="69.90" y2="150.24"/>
<line x1="65.00" y1="141.57" x2="69.90" y2="141.57"/>
<line x1="65.00" y1="132.90" x2="74.80" y2="132.90"/>
<line x1="65.00" y1="124.23" x2="69.90" y2="124.23"/>
<line x1="65.00" y1="115.56" x2="69.90" y2="115.56"/>
<line x1="65.00" y1="106.89" x2="69.90" y2="106.89"/>
<line x1="65.00" y1="98.22" x2="69.90" y2="98.22"/>
<line x1="65.00" y1="89.55" x2="74.80" y2="89.55"/>
<line x1="65.00" y1="80.88" x2="69.90" y2="80.88"/>
<line x1="65.00" y1="72.21" x2="69.90" y2="72.21"/>
<line x1="65.00" y1="63.54" x2="69.90" y2="63.54"/>
<line x1="65.00" y1="54.87" x2="69.90" y2="54.87"/>
<line x1="65.00" y1="46.20" x2="74.80" y2="46.20"/>
<line x1="65.00" y1="37.53" x2="69.90" y2="37.53"/>
<line x1="65.00" y1="28.86" x2="69.90" y2="28.86"/>
<line x1="65.00" y1="20.19" x2="69.90" y2="20.19"/>
<line x1="380.60" y1="341.20" x2="370.60" y2="341.20"/>
<line x1="380.60" y1="309.74" x2="375.60" y2="309.74"/>
<line x1="380.60" y1="291.34" x2="375.60" y2="291.34"/>
<line x1="380.60" y1="278.28" x2="375.60" y2="278.28"/>
<line x1="380.60" y1="268.16" x2="375.60" y2="268.16"/>
<line x1="380.60" y1="259.88" x2="375.60" y2="259.88"/>
<line x1="380.60" y1="252.89" x2="375.60" y2="252.89"/>
<line x1="380.60" y1="246.83" x2="375.60" y2="246.83"/>
<line x1="380.60" y1="241.48" x2="375.60" y2="241.48"/>
<line x1="380.60" y1="236.70" x2="370.60" y2="236.70"/>
<line x1="380.60" y1="205.24" x2="375.60" y2="205.24"/>
<line x1="380.60" y1="186.84" x2="375.60" y2="186.84"/>
<line x1="380.60" y1="173.78" x2="375.60" y2="173.78"/>
<line x1="380.60" y1="163.66" x2="375.60" y2="163.66"/>
<line x1="380.60" y1="155.38" x2="375.60" y2="155.38"/>
<line x1="380.60" y1="148.39" x2="375.60" y2="148.39"/>
<line x1="380.60" y1="142.33" x2="375.60" y2="142.33"/>
<line x1="380.60" y1="136.98" x2="375.60" y2="136.98"/>
<line x1="380.60" y1="132.20" x2="370.60" y2="132.20"/>
<line x1="380.60" y1="100.74" x2="375.60" y2="100.74"/>
<line x1="380.60" y1="82.34" x2="375.60" y2="82.34"/>
<line x1="380.60" y1="69.28" x2="375.60" y2="69.28"/>
<line x1="380.60" y1="59.16" x2="375.60" y2="59.16"/>
<line x1="380.60" y1="50.88" x2="375.60" y2="50.88"/>
<line x1="380.60" y1="43.89" x2="375.60" y2="43.89"/>
<line x1="380.60" y1="37.83" x2="375.60" y2="37.83"/>
<line x1="380.60" y1="32.48" x2="375.60" y2="32.48"/>
<line x1="380.60" y1="27.70" x2="370.60" y2="27.70"/>
</g>
<rect x="234.5" y="40.5" width="121.5" height="42.5" fill="none" stroke="#000" stroke-width="1.2"/>
<line x1="239.1" y1="51.05" x2="260.6" y2="51.05" stroke="#5828ee" stroke-width="2.0"/>
<line x1="239.1" y1="72.4" x2="260.6" y2="72.4" stroke="#d214d6" stroke-width="1.7"/>
<text x="264.4" y="55.7" font-size="13">Δθ vs p: e<tspan font-size="7.5" dx="0.3" dy="-4.4">+</tspan></text>
<text x="264.4" y="77.1" font-size="13">Δθ vs p: e<tspan font-size="7.5" dx="0.6" dy="-7.6">-</tspan></text>
<text x="107.50" y="355.90" font-size="15.00" text-anchor="middle" font-weight="normal" >–<tspan class="h">1</tspan>000</text>
<text x="160.22" y="355.90" font-size="15.00" text-anchor="middle" font-weight="normal" >–500</text>
<text x="212.45" y="355.90" font-size="15.00" text-anchor="middle" font-weight="normal" >0</text>
<text x="265.18" y="355.90" font-size="15.00" text-anchor="middle" font-weight="normal" >500</text>
<text x="317.90" y="355.90" font-size="15.00" text-anchor="middle" font-weight="normal" ><tspan class="h">1</tspan>000</text>
<text x="64.20" y="51.80" font-size="14.80" text-anchor="end" font-weight="normal" >3</text>
<text x="64.20" y="95.15" font-size="14.80" text-anchor="end" font-weight="normal" >2</text>
<text x="66.60" y="138.50" font-size="14.80" text-anchor="end" font-weight="normal" ><tspan class="h">1</tspan></text>
<text x="64.20" y="181.85" font-size="14.80" text-anchor="end" font-weight="normal" >0</text>
<text x="66.20" y="225.20" font-size="14.80" text-anchor="end" font-weight="normal" >–<tspan class="h">1</tspan></text>
<text x="64.20" y="268.55" font-size="14.80" text-anchor="end" font-weight="normal" >–2</text>
<text x="64.20" y="311.90" font-size="14.80" text-anchor="end" font-weight="normal" >–3</text>
<text x="360.00" y="378.90" font-size="16.70" text-anchor="end" font-weight="normal" >p*q [MeV/c]</text>
<text x="0.00" y="0.00" font-size="16.70" text-anchor="end" font-weight="normal" transform="translate(27.1,18.5) rotate(-90)">Δθ [deg]</text>
<text x="385.3" y="34.00" font-size="13"><tspan class="h">1</tspan>0<tspan font-size="8" dx="-0.6" dy="-6.3">3</tspan></text>
<text x="385.3" y="138.00" font-size="13"><tspan class="h">1</tspan>0<tspan font-size="8" dx="-0.6" dy="-6.3">2</tspan></text>
<text x="385.3" y="241.60" font-size="13"><tspan class="h">1</tspan>0</text>
<text x="385.3" y="346.50" font-size="13"><tspan class="h">1</tspan></text>
<text x="237.50" y="35.30" font-size="15.00" text-anchor="start" font-weight="bold" >Work in progress</text>
<path d="M470 0L650 0L650 1409L525 1409L495 1330L430 1255L310 1205L110 1185L110 1050L470 1050Z" transform="translate(94.984,355.900) scale(0.007324,-0.007324)"/>
<path d="M470 0L650 0L650 1409L525 1409L495 1330L430 1255L310 1205L110 1185L110 1050L470 1050Z" transform="translate(301.212,355.900) scale(0.007324,-0.007324)"/>
<path d="M470 0L650 0L650 1409L525 1409L495 1330L430 1255L310 1205L110 1185L110 1050L470 1050Z" transform="translate(58.366,138.500) scale(0.007227,-0.007227)"/>
<path d="M470 0L650 0L650 1409L525 1409L495 1330L430 1255L310 1205L110 1185L110 1050L470 1050Z" transform="translate(57.966,225.200) scale(0.007227,-0.007227)"/>
<path d="M470 0L650 0L650 1409L525 1409L495 1330L430 1255L310 1205L110 1185L110 1050L470 1050Z" transform="translate(385.300,34.000) scale(0.006348,-0.006348)"/>
<path d="M470 0L650 0L650 1409L525 1409L495 1330L430 1255L310 1205L110 1185L110 1050L470 1050Z" transform="translate(385.300,138.000) scale(0.006348,-0.006348)"/>
<path d="M470 0L650 0L650 1409L525 1409L495 1330L430 1255L310 1205L110 1185L110 1050L470 1050Z" transform="translate(385.300,241.600) scale(0.006348,-0.006348)"/>
<path d="M470 0L650 0L650 1409L525 1409L495 1330L430 1255L310 1205L110 1185L110 1050L470 1050Z" transform="translate(385.300,346.500) scale(0.006348,-0.006348)"/>
</svg>
</body></html>
